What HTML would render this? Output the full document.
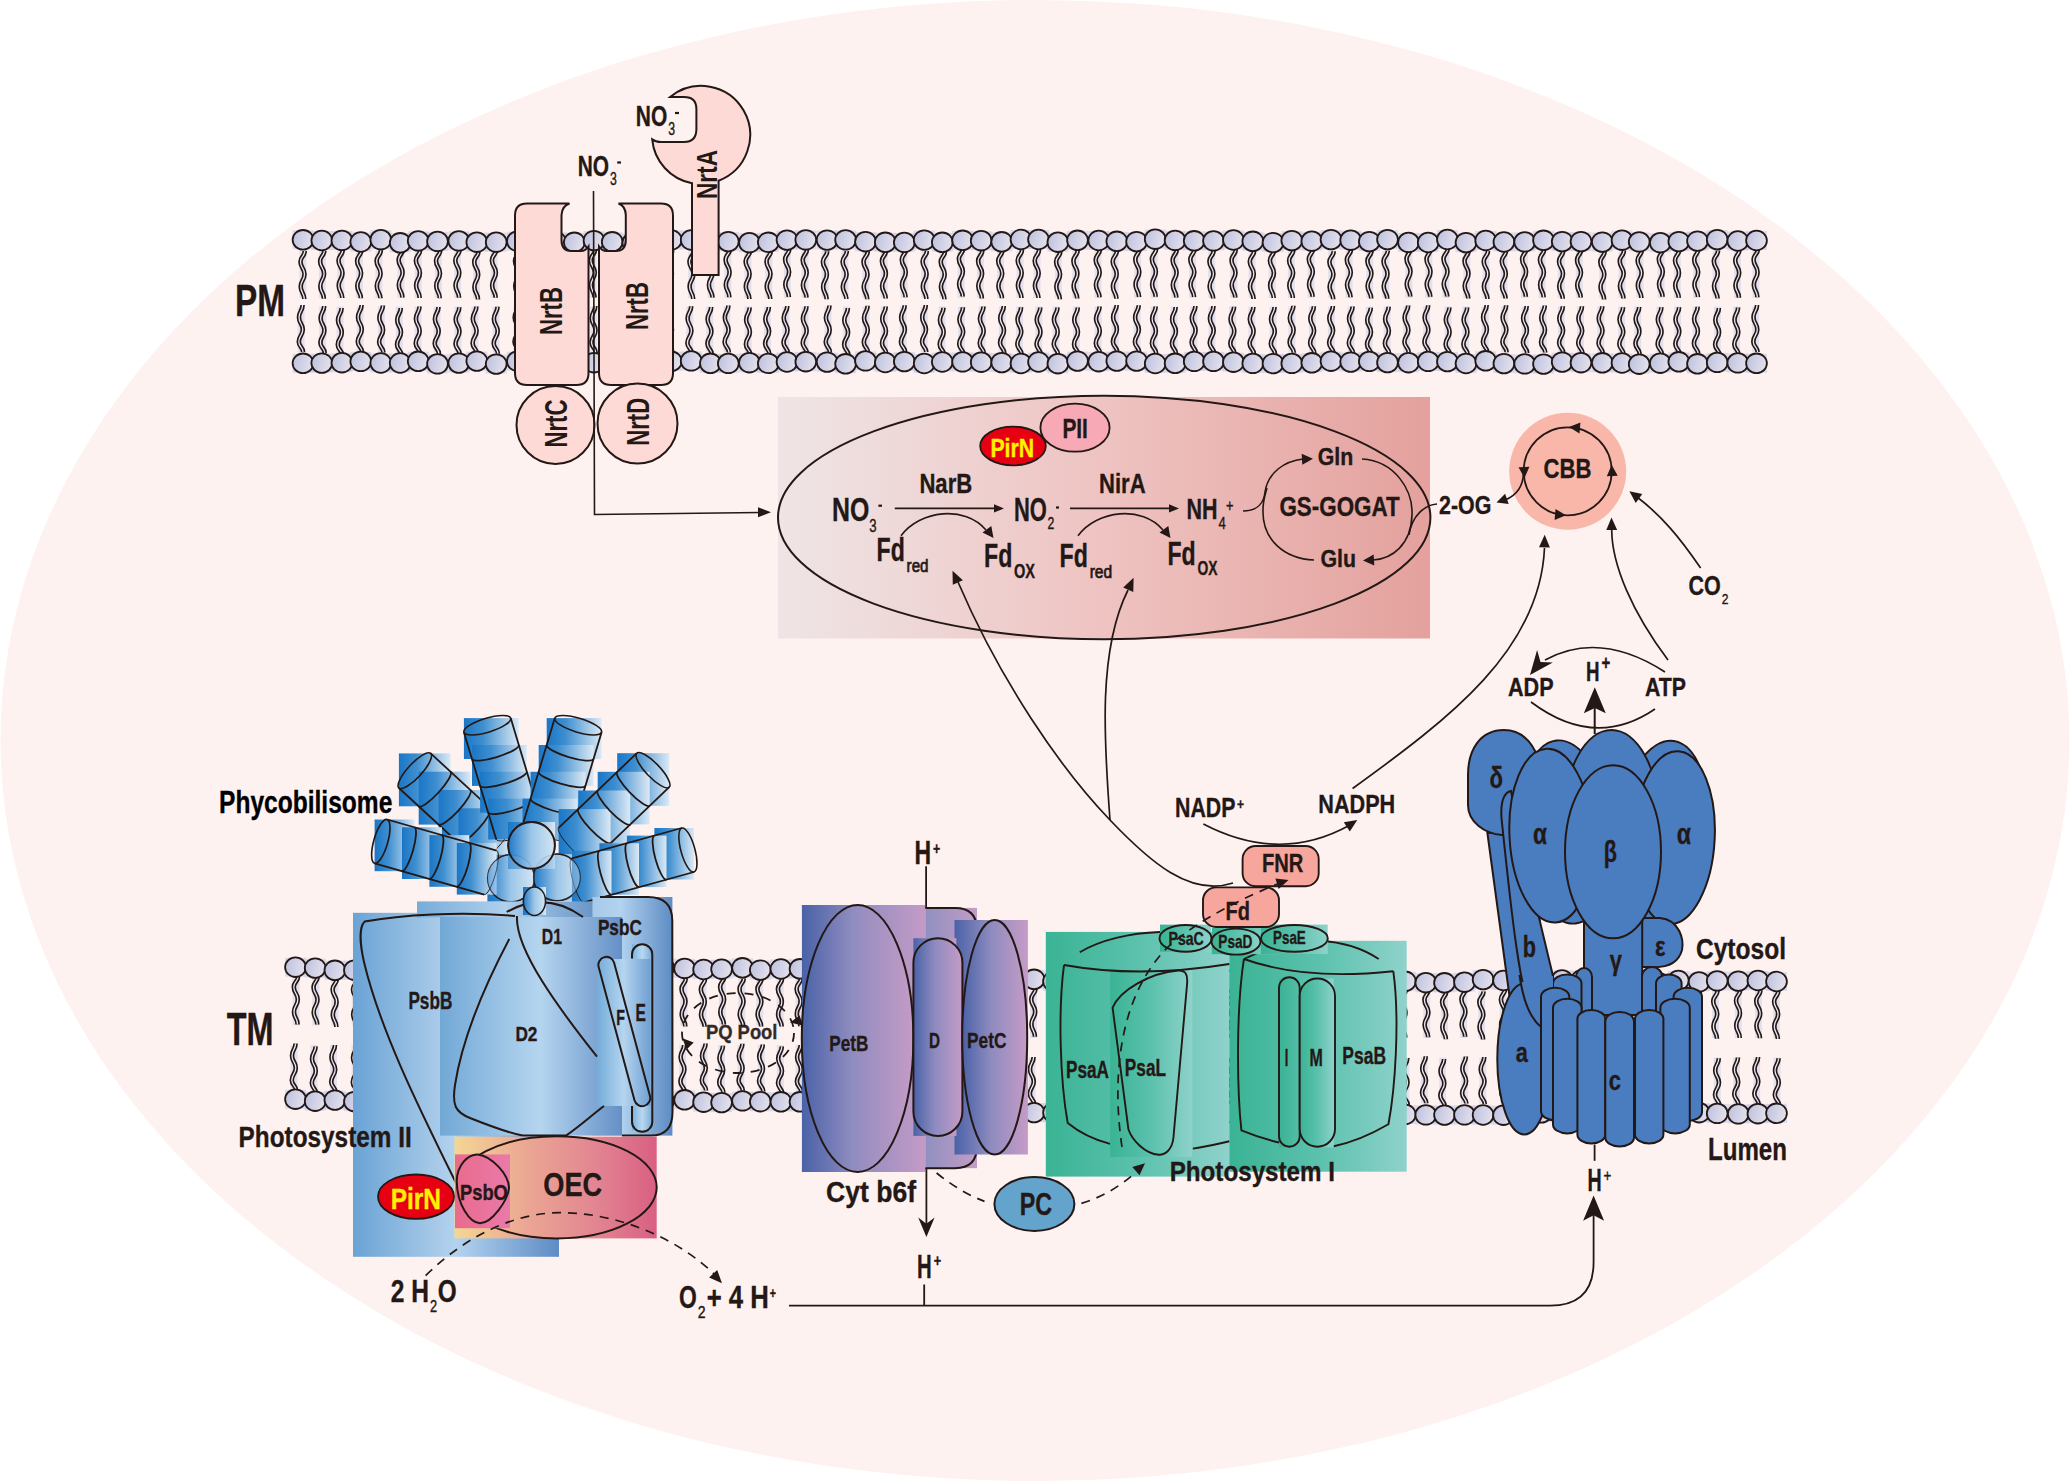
<!DOCTYPE html>
<html><head><meta charset="utf-8"><style>
html,body{margin:0;padding:0;background:#fff;overflow:hidden}
svg{display:block}
text{font-family:"Liberation Sans",sans-serif}
</style></head><body>
<svg width="2070" height="1482" viewBox="0 0 2070 1482">
<defs><linearGradient id="g1" x1="0" y1="0" x2="1" y2="0.2"><stop offset="0" stop-color="#bbc0df"/><stop offset="1" stop-color="#e3e0ec"/></linearGradient><linearGradient id="g2" x1="0" y1="0" x2="1" y2="0"><stop offset="0" stop-color="#efe5e6"/><stop offset="0.5" stop-color="#eec3c1"/><stop offset="1" stop-color="#e4a19d"/></linearGradient><linearGradient id="g3" x1="0" y1="0" x2="1" y2="0"><stop offset="0" stop-color="#1a76c6"/><stop offset="0.35" stop-color="#3f8fd0"/><stop offset="1" stop-color="#dbe9f5"/></linearGradient><linearGradient id="g4" x1="0" y1="0" x2="1" y2="0"><stop offset="0" stop-color="#1f79c8"/><stop offset="0.5" stop-color="#9cc6e8"/><stop offset="1" stop-color="#d5e6f4"/></linearGradient><linearGradient id="g5" x1="0" y1="0" x2="1" y2="0"><stop offset="0" stop-color="#6aa3d5"/><stop offset="0.42" stop-color="#a9cbe9"/><stop offset="0.5" stop-color="#b3d3ef"/><stop offset="1" stop-color="#5d8cc5"/></linearGradient><linearGradient id="g6" x1="0" y1="0" x2="1" y2="0"><stop offset="0" stop-color="#a5cae9"/><stop offset="0.35" stop-color="#b3d3ef"/><stop offset="1" stop-color="#5d8bc3"/></linearGradient><linearGradient id="g7" x1="0" y1="0" x2="1" y2="0"><stop offset="0" stop-color="#78acd9"/><stop offset="0.5" stop-color="#b0d0ec"/><stop offset="1" stop-color="#6a96c8"/></linearGradient><linearGradient id="g8" x1="0" y1="0" x2="1" y2="0"><stop offset="0" stop-color="#72a8d6"/><stop offset="0.55" stop-color="#b5d5ef"/><stop offset="1" stop-color="#6590c7"/></linearGradient><linearGradient id="g9" x1="0" y1="0" x2="1" y2="0"><stop offset="0" stop-color="#7ab3de"/><stop offset="0.5" stop-color="#b8d8f0"/><stop offset="1" stop-color="#7aa8d8"/></linearGradient><linearGradient id="g10" x1="0" y1="0" x2="1" y2="0"><stop offset="0" stop-color="#74acd9"/><stop offset="0.5" stop-color="#b5d5ef"/><stop offset="1" stop-color="#6f9fd2"/></linearGradient><linearGradient id="g11" x1="0" y1="0" x2="1" y2="0"><stop offset="0" stop-color="#f3d794"/><stop offset="0.35" stop-color="#eba793"/><stop offset="0.7" stop-color="#e28591"/><stop offset="1" stop-color="#d95f83"/></linearGradient><linearGradient id="g12" x1="0" y1="0" x2="1" y2="0"><stop offset="0" stop-color="#e96b8d"/><stop offset="1" stop-color="#e97aa9"/></linearGradient><linearGradient id="g13" x1="0" y1="0" x2="1" y2="0"><stop offset="0" stop-color="#8f90c0"/><stop offset="1" stop-color="#c49cc6"/></linearGradient><linearGradient id="g14" x1="0" y1="0" x2="1" y2="0"><stop offset="0" stop-color="#4a62a8"/><stop offset="0.45" stop-color="#8f8cbf"/><stop offset="1" stop-color="#c59bc6"/></linearGradient><linearGradient id="g15" x1="0" y1="0" x2="1" y2="0"><stop offset="0" stop-color="#4a62a8"/><stop offset="0.45" stop-color="#8f8cbf"/><stop offset="1" stop-color="#c59bc6"/></linearGradient><linearGradient id="g16" x1="0" y1="0" x2="1" y2="0"><stop offset="0" stop-color="#4a62a8"/><stop offset="0.45" stop-color="#8f8cbf"/><stop offset="1" stop-color="#c59bc6"/></linearGradient><linearGradient id="g17" x1="0" y1="0" x2="1" y2="0"><stop offset="0" stop-color="#4a62a8"/><stop offset="0.45" stop-color="#8f8cbf"/><stop offset="1" stop-color="#c59bc6"/></linearGradient><linearGradient id="g18" x1="0" y1="0" x2="1" y2="0"><stop offset="0" stop-color="#4a62a8"/><stop offset="0.45" stop-color="#8f8cbf"/><stop offset="1" stop-color="#c59bc6"/></linearGradient><linearGradient id="g19" x1="0" y1="0" x2="1" y2="0"><stop offset="0" stop-color="#4a62a8"/><stop offset="0.45" stop-color="#8f8cbf"/><stop offset="1" stop-color="#c59bc6"/></linearGradient><linearGradient id="g20" x1="0" y1="0" x2="1" y2="0"><stop offset="0" stop-color="#3ab394"/><stop offset="0.5" stop-color="#5bc1ad"/><stop offset="1" stop-color="#8fd2cb"/></linearGradient><linearGradient id="g21" x1="0" y1="0" x2="1" y2="0"><stop offset="0" stop-color="#3ab394"/><stop offset="0.5" stop-color="#5bc1ad"/><stop offset="1" stop-color="#8fd2cb"/></linearGradient><linearGradient id="g22" x1="0" y1="0" x2="1" y2="0"><stop offset="0" stop-color="#3ab394"/><stop offset="0.5" stop-color="#5bc1ad"/><stop offset="1" stop-color="#8fd2cb"/></linearGradient><linearGradient id="g23" x1="0" y1="0" x2="1" y2="0"><stop offset="0" stop-color="#3ab394"/><stop offset="0.5" stop-color="#5bc1ad"/><stop offset="1" stop-color="#8fd2cb"/></linearGradient><linearGradient id="g24" x1="0" y1="0" x2="1" y2="0"><stop offset="0" stop-color="#3ab394"/><stop offset="0.5" stop-color="#5bc1ad"/><stop offset="1" stop-color="#8fd2cb"/></linearGradient><linearGradient id="g25" x1="0" y1="0" x2="1" y2="0"><stop offset="0" stop-color="#3ab394"/><stop offset="0.5" stop-color="#5bc1ad"/><stop offset="1" stop-color="#8fd2cb"/></linearGradient><linearGradient id="g26" x1="0" y1="0" x2="1" y2="0"><stop offset="0" stop-color="#3ab394"/><stop offset="0.5" stop-color="#5bc1ad"/><stop offset="1" stop-color="#8fd2cb"/></linearGradient><linearGradient id="g27" x1="0" y1="0" x2="1" y2="0"><stop offset="0" stop-color="#3ab394"/><stop offset="0.5" stop-color="#5bc1ad"/><stop offset="1" stop-color="#8fd2cb"/></linearGradient><linearGradient id="g28" x1="0" y1="0" x2="1" y2="0"><stop offset="0" stop-color="#3ab394"/><stop offset="0.5" stop-color="#5bc1ad"/><stop offset="1" stop-color="#8fd2cb"/></linearGradient><linearGradient id="g29" x1="0" y1="0" x2="1" y2="0"><stop offset="0" stop-color="#3ab394"/><stop offset="0.5" stop-color="#5bc1ad"/><stop offset="1" stop-color="#8fd2cb"/></linearGradient></defs>
<rect width="2070" height="1482" fill="#ffffff"/>
<ellipse cx="1035" cy="740.5" rx="1034.5" ry="740.5" fill="#fef2f1"/>
<g><rect x="299.3" y="251.0" width="7" height="47" fill="#c3c9e8" opacity="0.45"/><rect x="297.6" y="306.5" width="7" height="46" fill="#c3c9e8" opacity="0.45"/><rect x="318.9" y="251.0" width="7" height="47" fill="#c3c9e8" opacity="0.45"/><rect x="319.2" y="306.5" width="7" height="46" fill="#c3c9e8" opacity="0.45"/><rect x="337.3" y="251.0" width="7" height="47" fill="#c3c9e8" opacity="0.45"/><rect x="336.6" y="306.5" width="7" height="46" fill="#c3c9e8" opacity="0.45"/><rect x="355.9" y="251.0" width="7" height="47" fill="#c3c9e8" opacity="0.45"/><rect x="356.6" y="306.5" width="7" height="46" fill="#c3c9e8" opacity="0.45"/><rect x="375.4" y="251.0" width="7" height="47" fill="#c3c9e8" opacity="0.45"/><rect x="377.9" y="306.5" width="7" height="46" fill="#c3c9e8" opacity="0.45"/><rect x="397.4" y="251.0" width="7" height="47" fill="#c3c9e8" opacity="0.45"/><rect x="395.8" y="306.5" width="7" height="46" fill="#c3c9e8" opacity="0.45"/><rect x="414.7" y="251.0" width="7" height="47" fill="#c3c9e8" opacity="0.45"/><rect x="414.5" y="306.5" width="7" height="46" fill="#c3c9e8" opacity="0.45"/><rect x="434.8" y="251.0" width="7" height="47" fill="#c3c9e8" opacity="0.45"/><rect x="433.5" y="306.5" width="7" height="46" fill="#c3c9e8" opacity="0.45"/><rect x="454.1" y="251.0" width="7" height="47" fill="#c3c9e8" opacity="0.45"/><rect x="454.3" y="306.5" width="7" height="46" fill="#c3c9e8" opacity="0.45"/><rect x="473.0" y="251.0" width="7" height="47" fill="#c3c9e8" opacity="0.45"/><rect x="471.4" y="306.5" width="7" height="46" fill="#c3c9e8" opacity="0.45"/><rect x="490.7" y="251.0" width="7" height="47" fill="#c3c9e8" opacity="0.45"/><rect x="492.5" y="306.5" width="7" height="46" fill="#c3c9e8" opacity="0.45"/><rect x="513.8" y="251.0" width="7" height="47" fill="#c3c9e8" opacity="0.45"/><rect x="513.3" y="306.5" width="7" height="46" fill="#c3c9e8" opacity="0.45"/><rect x="532.1" y="251.0" width="7" height="47" fill="#c3c9e8" opacity="0.45"/><rect x="532.2" y="306.5" width="7" height="46" fill="#c3c9e8" opacity="0.45"/><rect x="552.3" y="251.0" width="7" height="47" fill="#c3c9e8" opacity="0.45"/><rect x="553.1" y="306.5" width="7" height="46" fill="#c3c9e8" opacity="0.45"/><rect x="570.5" y="251.0" width="7" height="47" fill="#c3c9e8" opacity="0.45"/><rect x="569.7" y="306.5" width="7" height="46" fill="#c3c9e8" opacity="0.45"/><rect x="589.6" y="251.0" width="7" height="47" fill="#c3c9e8" opacity="0.45"/><rect x="590.3" y="306.5" width="7" height="46" fill="#c3c9e8" opacity="0.45"/><rect x="609.1" y="251.0" width="7" height="47" fill="#c3c9e8" opacity="0.45"/><rect x="606.8" y="306.5" width="7" height="46" fill="#c3c9e8" opacity="0.45"/><rect x="628.2" y="251.0" width="7" height="47" fill="#c3c9e8" opacity="0.45"/><rect x="628.0" y="306.5" width="7" height="46" fill="#c3c9e8" opacity="0.45"/><rect x="647.8" y="251.0" width="7" height="47" fill="#c3c9e8" opacity="0.45"/><rect x="648.5" y="306.5" width="7" height="46" fill="#c3c9e8" opacity="0.45"/><rect x="666.7" y="251.0" width="7" height="47" fill="#c3c9e8" opacity="0.45"/><rect x="666.8" y="306.5" width="7" height="46" fill="#c3c9e8" opacity="0.45"/><rect x="688.2" y="251.0" width="7" height="47" fill="#c3c9e8" opacity="0.45"/><rect x="686.2" y="306.5" width="7" height="46" fill="#c3c9e8" opacity="0.45"/><rect x="707.5" y="251.0" width="7" height="47" fill="#c3c9e8" opacity="0.45"/><rect x="706.2" y="306.5" width="7" height="46" fill="#c3c9e8" opacity="0.45"/><rect x="724.4" y="251.0" width="7" height="47" fill="#c3c9e8" opacity="0.45"/><rect x="723.4" y="306.5" width="7" height="46" fill="#c3c9e8" opacity="0.45"/><rect x="744.4" y="251.0" width="7" height="47" fill="#c3c9e8" opacity="0.45"/><rect x="744.7" y="306.5" width="7" height="46" fill="#c3c9e8" opacity="0.45"/><rect x="765.3" y="251.0" width="7" height="47" fill="#c3c9e8" opacity="0.45"/><rect x="763.9" y="306.5" width="7" height="46" fill="#c3c9e8" opacity="0.45"/><rect x="783.9" y="251.0" width="7" height="47" fill="#c3c9e8" opacity="0.45"/><rect x="782.3" y="306.5" width="7" height="46" fill="#c3c9e8" opacity="0.45"/><rect x="801.5" y="251.0" width="7" height="47" fill="#c3c9e8" opacity="0.45"/><rect x="801.5" y="306.5" width="7" height="46" fill="#c3c9e8" opacity="0.45"/><rect x="821.7" y="251.0" width="7" height="47" fill="#c3c9e8" opacity="0.45"/><rect x="824.5" y="306.5" width="7" height="46" fill="#c3c9e8" opacity="0.45"/><rect x="841.4" y="251.0" width="7" height="47" fill="#c3c9e8" opacity="0.45"/><rect x="842.9" y="306.5" width="7" height="46" fill="#c3c9e8" opacity="0.45"/><rect x="862.3" y="251.0" width="7" height="47" fill="#c3c9e8" opacity="0.45"/><rect x="862.6" y="306.5" width="7" height="46" fill="#c3c9e8" opacity="0.45"/><rect x="880.7" y="251.0" width="7" height="47" fill="#c3c9e8" opacity="0.45"/><rect x="880.8" y="306.5" width="7" height="46" fill="#c3c9e8" opacity="0.45"/><rect x="900.6" y="251.0" width="7" height="47" fill="#c3c9e8" opacity="0.45"/><rect x="899.7" y="306.5" width="7" height="46" fill="#c3c9e8" opacity="0.45"/><rect x="921.4" y="251.0" width="7" height="47" fill="#c3c9e8" opacity="0.45"/><rect x="920.8" y="306.5" width="7" height="46" fill="#c3c9e8" opacity="0.45"/><rect x="939.5" y="251.0" width="7" height="47" fill="#c3c9e8" opacity="0.45"/><rect x="938.5" y="306.5" width="7" height="46" fill="#c3c9e8" opacity="0.45"/><rect x="957.7" y="251.0" width="7" height="47" fill="#c3c9e8" opacity="0.45"/><rect x="958.0" y="306.5" width="7" height="46" fill="#c3c9e8" opacity="0.45"/><rect x="976.9" y="251.0" width="7" height="47" fill="#c3c9e8" opacity="0.45"/><rect x="978.5" y="306.5" width="7" height="46" fill="#c3c9e8" opacity="0.45"/><rect x="997.0" y="251.0" width="7" height="47" fill="#c3c9e8" opacity="0.45"/><rect x="998.8" y="306.5" width="7" height="46" fill="#c3c9e8" opacity="0.45"/><rect x="1016.5" y="251.0" width="7" height="47" fill="#c3c9e8" opacity="0.45"/><rect x="1016.1" y="306.5" width="7" height="46" fill="#c3c9e8" opacity="0.45"/><rect x="1033.5" y="251.0" width="7" height="47" fill="#c3c9e8" opacity="0.45"/><rect x="1035.3" y="306.5" width="7" height="46" fill="#c3c9e8" opacity="0.45"/><rect x="1054.9" y="251.0" width="7" height="47" fill="#c3c9e8" opacity="0.45"/><rect x="1052.5" y="306.5" width="7" height="46" fill="#c3c9e8" opacity="0.45"/><rect x="1072.2" y="251.0" width="7" height="47" fill="#c3c9e8" opacity="0.45"/><rect x="1072.8" y="306.5" width="7" height="46" fill="#c3c9e8" opacity="0.45"/><rect x="1094.5" y="251.0" width="7" height="47" fill="#c3c9e8" opacity="0.45"/><rect x="1094.6" y="306.5" width="7" height="46" fill="#c3c9e8" opacity="0.45"/><rect x="1111.5" y="251.0" width="7" height="47" fill="#c3c9e8" opacity="0.45"/><rect x="1111.7" y="306.5" width="7" height="46" fill="#c3c9e8" opacity="0.45"/><rect x="1134.1" y="251.0" width="7" height="47" fill="#c3c9e8" opacity="0.45"/><rect x="1133.7" y="306.5" width="7" height="46" fill="#c3c9e8" opacity="0.45"/><rect x="1150.7" y="251.0" width="7" height="47" fill="#c3c9e8" opacity="0.45"/><rect x="1150.7" y="306.5" width="7" height="46" fill="#c3c9e8" opacity="0.45"/><rect x="1171.4" y="251.0" width="7" height="47" fill="#c3c9e8" opacity="0.45"/><rect x="1170.7" y="306.5" width="7" height="46" fill="#c3c9e8" opacity="0.45"/><rect x="1189.1" y="251.0" width="7" height="47" fill="#c3c9e8" opacity="0.45"/><rect x="1190.4" y="306.5" width="7" height="46" fill="#c3c9e8" opacity="0.45"/><rect x="1208.2" y="251.0" width="7" height="47" fill="#c3c9e8" opacity="0.45"/><rect x="1208.5" y="306.5" width="7" height="46" fill="#c3c9e8" opacity="0.45"/><rect x="1230.3" y="251.0" width="7" height="47" fill="#c3c9e8" opacity="0.45"/><rect x="1229.1" y="306.5" width="7" height="46" fill="#c3c9e8" opacity="0.45"/><rect x="1248.6" y="251.0" width="7" height="47" fill="#c3c9e8" opacity="0.45"/><rect x="1248.4" y="306.5" width="7" height="46" fill="#c3c9e8" opacity="0.45"/><rect x="1268.7" y="251.0" width="7" height="47" fill="#c3c9e8" opacity="0.45"/><rect x="1269.6" y="306.5" width="7" height="46" fill="#c3c9e8" opacity="0.45"/><rect x="1287.9" y="251.0" width="7" height="47" fill="#c3c9e8" opacity="0.45"/><rect x="1288.4" y="306.5" width="7" height="46" fill="#c3c9e8" opacity="0.45"/><rect x="1307.6" y="251.0" width="7" height="47" fill="#c3c9e8" opacity="0.45"/><rect x="1308.9" y="306.5" width="7" height="46" fill="#c3c9e8" opacity="0.45"/><rect x="1328.2" y="251.0" width="7" height="47" fill="#c3c9e8" opacity="0.45"/><rect x="1327.9" y="306.5" width="7" height="46" fill="#c3c9e8" opacity="0.45"/><rect x="1345.6" y="251.0" width="7" height="47" fill="#c3c9e8" opacity="0.45"/><rect x="1347.6" y="306.5" width="7" height="46" fill="#c3c9e8" opacity="0.45"/><rect x="1366.2" y="251.0" width="7" height="47" fill="#c3c9e8" opacity="0.45"/><rect x="1365.8" y="306.5" width="7" height="46" fill="#c3c9e8" opacity="0.45"/><rect x="1382.3" y="251.0" width="7" height="47" fill="#c3c9e8" opacity="0.45"/><rect x="1383.7" y="306.5" width="7" height="46" fill="#c3c9e8" opacity="0.45"/><rect x="1405.3" y="251.0" width="7" height="47" fill="#c3c9e8" opacity="0.45"/><rect x="1403.2" y="306.5" width="7" height="46" fill="#c3c9e8" opacity="0.45"/><rect x="1425.3" y="251.0" width="7" height="47" fill="#c3c9e8" opacity="0.45"/><rect x="1423.2" y="306.5" width="7" height="46" fill="#c3c9e8" opacity="0.45"/><rect x="1442.3" y="251.0" width="7" height="47" fill="#c3c9e8" opacity="0.45"/><rect x="1444.4" y="306.5" width="7" height="46" fill="#c3c9e8" opacity="0.45"/><rect x="1463.3" y="251.0" width="7" height="47" fill="#c3c9e8" opacity="0.45"/><rect x="1462.2" y="306.5" width="7" height="46" fill="#c3c9e8" opacity="0.45"/><rect x="1482.5" y="251.0" width="7" height="47" fill="#c3c9e8" opacity="0.45"/><rect x="1481.7" y="306.5" width="7" height="46" fill="#c3c9e8" opacity="0.45"/><rect x="1500.6" y="251.0" width="7" height="47" fill="#c3c9e8" opacity="0.45"/><rect x="1501.2" y="306.5" width="7" height="46" fill="#c3c9e8" opacity="0.45"/><rect x="1520.9" y="251.0" width="7" height="47" fill="#c3c9e8" opacity="0.45"/><rect x="1521.7" y="306.5" width="7" height="46" fill="#c3c9e8" opacity="0.45"/><rect x="1538.7" y="251.0" width="7" height="47" fill="#c3c9e8" opacity="0.45"/><rect x="1539.8" y="306.5" width="7" height="46" fill="#c3c9e8" opacity="0.45"/><rect x="1557.8" y="251.0" width="7" height="47" fill="#c3c9e8" opacity="0.45"/><rect x="1557.9" y="306.5" width="7" height="46" fill="#c3c9e8" opacity="0.45"/><rect x="1575.8" y="251.0" width="7" height="47" fill="#c3c9e8" opacity="0.45"/><rect x="1577.0" y="306.5" width="7" height="46" fill="#c3c9e8" opacity="0.45"/><rect x="1599.1" y="251.0" width="7" height="47" fill="#c3c9e8" opacity="0.45"/><rect x="1597.3" y="306.5" width="7" height="46" fill="#c3c9e8" opacity="0.45"/><rect x="1618.5" y="251.0" width="7" height="47" fill="#c3c9e8" opacity="0.45"/><rect x="1618.1" y="306.5" width="7" height="46" fill="#c3c9e8" opacity="0.45"/><rect x="1636.4" y="251.0" width="7" height="47" fill="#c3c9e8" opacity="0.45"/><rect x="1634.2" y="306.5" width="7" height="46" fill="#c3c9e8" opacity="0.45"/><rect x="1657.6" y="251.0" width="7" height="47" fill="#c3c9e8" opacity="0.45"/><rect x="1656.4" y="306.5" width="7" height="46" fill="#c3c9e8" opacity="0.45"/><rect x="1673.8" y="251.0" width="7" height="47" fill="#c3c9e8" opacity="0.45"/><rect x="1674.1" y="306.5" width="7" height="46" fill="#c3c9e8" opacity="0.45"/><rect x="1693.0" y="251.0" width="7" height="47" fill="#c3c9e8" opacity="0.45"/><rect x="1692.7" y="306.5" width="7" height="46" fill="#c3c9e8" opacity="0.45"/><rect x="1712.6" y="251.0" width="7" height="47" fill="#c3c9e8" opacity="0.45"/><rect x="1713.9" y="306.5" width="7" height="46" fill="#c3c9e8" opacity="0.45"/><rect x="1734.0" y="251.0" width="7" height="47" fill="#c3c9e8" opacity="0.45"/><rect x="1733.1" y="306.5" width="7" height="46" fill="#c3c9e8" opacity="0.45"/><rect x="1752.4" y="251.0" width="7" height="47" fill="#c3c9e8" opacity="0.45"/><rect x="1752.1" y="306.5" width="7" height="46" fill="#c3c9e8" opacity="0.45"/><path d="M304.8,251.1 C304.8,256.4 300.5,256.4 300.5,261.7 C300.5,267.9 304.5,267.9 304.5,274.2 C304.5,280.4 300.7,280.4 300.7,286.6 C300.7,292.9 304.3,292.9 304.3,299.1  M303.1,352.1 C303.1,347.0 298.8,347.0 298.8,341.8 C298.8,335.7 302.8,335.7 302.8,329.6 C302.8,323.5 299.0,323.5 299.0,317.4 C299.0,311.2 302.6,311.2 302.6,305.1  M324.4,250.7 C324.4,255.9 320.1,255.9 320.1,261.2 C320.1,267.5 324.1,267.5 324.1,273.7 C324.1,279.9 320.3,279.9 320.3,286.2 C320.3,292.4 323.9,292.4 323.9,298.7  M324.7,353.0 C324.7,347.8 320.4,347.8 320.4,342.7 C320.4,336.5 324.4,336.5 324.4,330.4 C324.4,324.3 320.6,324.3 320.6,318.2 C320.6,312.1 324.2,312.1 324.2,306.0  M342.8,250.0 C342.8,255.3 338.5,255.3 338.5,260.6 C338.5,266.8 342.5,266.8 342.5,273.1 C342.5,279.3 338.7,279.3 338.7,285.5 C338.7,291.8 342.3,291.8 342.3,298.0  M342.1,355.0 C342.1,349.8 337.8,349.8 337.8,344.7 C337.8,338.5 341.8,338.5 341.8,332.4 C341.8,326.3 338.0,326.3 338.0,320.2 C338.0,314.1 341.6,314.1 341.6,308.0  M361.4,250.3 C361.4,255.6 357.1,255.6 357.1,260.9 C357.1,267.1 361.1,267.1 361.1,273.3 C361.1,279.6 357.3,279.6 357.3,285.8 C357.3,292.1 360.9,292.1 360.9,298.3  M362.1,352.1 C362.1,346.9 357.8,346.9 357.8,341.8 C357.8,335.6 361.8,335.6 361.8,329.5 C361.8,323.4 358.0,323.4 358.0,317.3 C358.0,311.2 361.6,311.2 361.6,305.1  M380.9,250.3 C380.9,255.6 376.6,255.6 376.6,260.9 C376.6,267.1 380.6,267.1 380.6,273.4 C380.6,279.6 376.8,279.6 376.8,285.9 C376.8,292.1 380.4,292.1 380.4,298.3  M383.4,352.5 C383.4,347.3 379.1,347.3 379.1,342.1 C379.1,336.0 383.1,336.0 383.1,329.9 C383.1,323.8 379.3,323.8 379.3,317.7 C379.3,311.6 382.9,311.6 382.9,305.5  M402.9,249.4 C402.9,254.7 398.6,254.7 398.6,260.0 C398.6,266.2 402.6,266.2 402.6,272.5 C402.6,278.7 398.8,278.7 398.8,285.0 C398.8,291.2 402.4,291.2 402.4,297.4  M401.3,354.9 C401.3,349.7 397.0,349.7 397.0,344.5 C397.0,338.4 401.0,338.4 401.0,332.3 C401.0,326.2 397.2,326.2 397.2,320.1 C397.2,314.0 400.8,314.0 400.8,307.9  M420.2,249.9 C420.2,255.2 415.9,255.2 415.9,260.4 C415.9,266.7 419.9,266.7 419.9,272.9 C419.9,279.2 416.1,279.2 416.1,285.4 C416.1,291.6 419.7,291.6 419.7,297.9  M420.0,353.6 C420.0,348.4 415.7,348.4 415.7,343.2 C415.7,337.1 419.7,337.1 419.7,331.0 C419.7,324.9 415.9,324.9 415.9,318.8 C415.9,312.7 419.5,312.7 419.5,306.6  M440.3,250.2 C440.3,255.5 436.0,255.5 436.0,260.7 C436.0,267.0 440.0,267.0 440.0,273.2 C440.0,279.5 436.2,279.5 436.2,285.7 C436.2,291.9 439.8,291.9 439.8,298.2  M439.0,353.9 C439.0,348.7 434.7,348.7 434.7,343.5 C434.7,337.4 438.7,337.4 438.7,331.3 C438.7,325.2 434.9,325.2 434.9,319.1 C434.9,313.0 438.5,313.0 438.5,306.9  M459.6,249.8 C459.6,255.1 455.3,255.1 455.3,260.4 C455.3,266.6 459.3,266.6 459.3,272.8 C459.3,279.1 455.5,279.1 455.5,285.3 C455.5,291.6 459.1,291.6 459.1,297.8  M459.8,354.2 C459.8,349.0 455.5,349.0 455.5,343.8 C455.5,337.7 459.5,337.7 459.5,331.6 C459.5,325.5 455.7,325.5 455.7,319.4 C455.7,313.3 459.3,313.3 459.3,307.2  M478.5,251.4 C478.5,256.7 474.2,256.7 474.2,262.0 C474.2,268.2 478.2,268.2 478.2,274.5 C478.2,280.7 474.4,280.7 474.4,287.0 C474.4,293.2 478.0,293.2 478.0,299.4  M476.9,353.6 C476.9,348.4 472.6,348.4 472.6,343.2 C472.6,337.1 476.6,337.1 476.6,331.0 C476.6,324.9 472.8,324.9 472.8,318.8 C472.8,312.7 476.4,312.7 476.4,306.6  M496.2,249.7 C496.2,255.0 491.9,255.0 491.9,260.3 C491.9,266.5 495.9,266.5 495.9,272.8 C495.9,279.0 492.1,279.0 492.1,285.3 C492.1,291.5 495.7,291.5 495.7,297.7  M498.0,353.7 C498.0,348.6 493.7,348.6 493.7,343.4 C493.7,337.3 497.7,337.3 497.7,331.2 C497.7,325.1 493.9,325.1 493.9,319.0 C493.9,312.8 497.5,312.8 497.5,306.7  M519.3,250.4 C519.3,255.7 515.0,255.7 515.0,261.0 C515.0,267.2 519.0,267.2 519.0,273.4 C519.0,279.7 515.2,279.7 515.2,285.9 C515.2,292.2 518.8,292.2 518.8,298.4  M518.8,352.2 C518.8,347.0 514.5,347.0 514.5,341.8 C514.5,335.7 518.5,335.7 518.5,329.6 C518.5,323.5 514.7,323.5 514.7,317.4 C514.7,311.3 518.3,311.3 518.3,305.2  M537.6,250.5 C537.6,255.8 533.3,255.8 533.3,261.1 C533.3,267.3 537.3,267.3 537.3,273.6 C537.3,279.8 533.5,279.8 533.5,286.1 C533.5,292.3 537.1,292.3 537.1,298.5  M537.7,353.1 C537.7,347.9 533.4,347.9 533.4,342.7 C533.4,336.6 537.4,336.6 537.4,330.5 C537.4,324.4 533.6,324.4 533.6,318.3 C533.6,312.2 537.2,312.2 537.2,306.1  M557.8,248.6 C557.8,253.8 553.5,253.8 553.5,259.1 C553.5,265.4 557.5,265.4 557.5,271.6 C557.5,277.8 553.7,277.8 553.7,284.1 C553.7,290.3 557.3,290.3 557.3,296.6  M558.6,352.2 C558.6,347.0 554.3,347.0 554.3,341.8 C554.3,335.7 558.3,335.7 558.3,329.6 C558.3,323.5 554.5,323.5 554.5,317.4 C554.5,311.3 558.1,311.3 558.1,305.2  M576.0,249.3 C576.0,254.5 571.7,254.5 571.7,259.8 C571.7,266.1 575.7,266.1 575.7,272.3 C575.7,278.5 571.9,278.5 571.9,284.8 C571.9,291.0 575.5,291.0 575.5,297.3  M575.2,353.4 C575.2,348.2 570.9,348.2 570.9,343.0 C570.9,336.9 574.9,336.9 574.9,330.8 C574.9,324.7 571.1,324.7 571.1,318.6 C571.1,312.5 574.7,312.5 574.7,306.4  M595.1,249.6 C595.1,254.9 590.8,254.9 590.8,260.2 C590.8,266.4 594.8,266.4 594.8,272.6 C594.8,278.9 591.0,278.9 591.0,285.1 C591.0,291.4 594.6,291.4 594.6,297.6  M595.8,352.9 C595.8,347.8 591.5,347.8 591.5,342.6 C591.5,336.5 595.5,336.5 595.5,330.4 C595.5,324.3 591.7,324.3 591.7,318.2 C591.7,312.0 595.3,312.0 595.3,305.9  M614.6,249.4 C614.6,254.7 610.3,254.7 610.3,260.0 C610.3,266.2 614.3,266.2 614.3,272.4 C614.3,278.7 610.5,278.7 610.5,284.9 C610.5,291.2 614.1,291.2 614.1,297.4  M612.3,353.1 C612.3,348.0 608.0,348.0 608.0,342.8 C608.0,336.7 612.0,336.7 612.0,330.6 C612.0,324.5 608.2,324.5 608.2,318.4 C608.2,312.2 611.8,312.2 611.8,306.1  M633.7,250.2 C633.7,255.5 629.4,255.5 629.4,260.8 C629.4,267.0 633.4,267.0 633.4,273.2 C633.4,279.5 629.6,279.5 629.6,285.7 C629.6,292.0 633.2,292.0 633.2,298.2  M633.5,354.2 C633.5,349.0 629.2,349.0 629.2,343.9 C629.2,337.8 633.2,337.8 633.2,331.6 C633.2,325.5 629.4,325.5 629.4,319.4 C629.4,313.3 633.0,313.3 633.0,307.2  M653.3,250.9 C653.3,256.2 649.0,256.2 649.0,261.5 C649.0,267.7 653.0,267.7 653.0,274.0 C653.0,280.2 649.2,280.2 649.2,286.4 C649.2,292.7 652.8,292.7 652.8,298.9  M654.0,352.7 C654.0,347.5 649.7,347.5 649.7,342.4 C649.7,336.3 653.7,336.3 653.7,330.2 C653.7,324.0 649.9,324.0 649.9,317.9 C649.9,311.8 653.5,311.8 653.5,305.7  M672.2,250.6 C672.2,255.9 667.9,255.9 667.9,261.2 C667.9,267.4 671.9,267.4 671.9,273.6 C671.9,279.9 668.1,279.9 668.1,286.1 C668.1,292.4 671.7,292.4 671.7,298.6  M672.3,352.3 C672.3,347.1 668.0,347.1 668.0,342.0 C668.0,335.9 672.0,335.9 672.0,329.7 C672.0,323.6 668.2,323.6 668.2,317.5 C668.2,311.4 671.8,311.4 671.8,305.3  M693.7,251.0 C693.7,256.3 689.4,256.3 689.4,261.6 C689.4,267.8 693.4,267.8 693.4,274.0 C693.4,280.3 689.6,280.3 689.6,286.5 C689.6,292.8 693.2,292.8 693.2,299.0  M691.7,353.3 C691.7,348.1 687.4,348.1 687.4,343.0 C687.4,336.9 691.4,336.9 691.4,330.8 C691.4,324.6 687.6,324.6 687.6,318.5 C687.6,312.4 691.2,312.4 691.2,306.3  M713.0,249.5 C713.0,254.8 708.7,254.8 708.7,260.1 C708.7,266.3 712.7,266.3 712.7,272.6 C712.7,278.8 708.9,278.8 708.9,285.0 C708.9,291.3 712.5,291.3 712.5,297.5  M711.7,354.0 C711.7,348.8 707.4,348.8 707.4,343.6 C707.4,337.5 711.4,337.5 711.4,331.4 C711.4,325.3 707.6,325.3 707.6,319.2 C707.6,313.1 711.2,313.1 711.2,307.0  M729.9,249.2 C729.9,254.5 725.6,254.5 725.6,259.7 C725.6,266.0 729.6,266.0 729.6,272.2 C729.6,278.5 725.8,278.5 725.8,284.7 C725.8,290.9 729.4,290.9 729.4,297.2  M728.9,352.4 C728.9,347.2 724.6,347.2 724.6,342.0 C724.6,335.9 728.6,335.9 728.6,329.8 C728.6,323.7 724.8,323.7 724.8,317.6 C724.8,311.5 728.4,311.5 728.4,305.4  M749.9,250.9 C749.9,256.2 745.6,256.2 745.6,261.5 C745.6,267.7 749.6,267.7 749.6,274.0 C749.6,280.2 745.8,280.2 745.8,286.4 C745.8,292.7 749.4,292.7 749.4,298.9  M750.2,354.5 C750.2,349.3 745.9,349.3 745.9,344.2 C745.9,338.1 749.9,338.1 749.9,332.0 C749.9,325.8 746.1,325.8 746.1,319.7 C746.1,313.6 749.7,313.6 749.7,307.5  M770.8,250.9 C770.8,256.2 766.5,256.2 766.5,261.5 C766.5,267.7 770.5,267.7 770.5,274.0 C770.5,280.2 766.7,280.2 766.7,286.4 C766.7,292.7 770.3,292.7 770.3,298.9  M769.4,353.9 C769.4,348.8 765.1,348.8 765.1,343.6 C765.1,337.5 769.1,337.5 769.1,331.4 C769.1,325.3 765.3,325.3 765.3,319.1 C765.3,313.0 768.9,313.0 768.9,306.9  M789.4,248.9 C789.4,254.2 785.1,254.2 785.1,259.4 C785.1,265.7 789.1,265.7 789.1,271.9 C789.1,278.2 785.3,278.2 785.3,284.4 C785.3,290.6 788.9,290.6 788.9,296.9  M787.8,352.9 C787.8,347.7 783.5,347.7 783.5,342.5 C783.5,336.4 787.5,336.4 787.5,330.3 C787.5,324.2 783.7,324.2 783.7,318.1 C783.7,312.0 787.3,312.0 787.3,305.9  M807.0,249.5 C807.0,254.8 802.7,254.8 802.7,260.1 C802.7,266.3 806.7,266.3 806.7,272.6 C806.7,278.8 802.9,278.8 802.9,285.1 C802.9,291.3 806.5,291.3 806.5,297.5  M807.0,353.3 C807.0,348.1 802.7,348.1 802.7,342.9 C802.7,336.8 806.7,336.8 806.7,330.7 C806.7,324.6 802.9,324.6 802.9,318.5 C802.9,312.4 806.5,312.4 806.5,306.3  M827.2,251.3 C827.2,256.5 822.9,256.5 822.9,261.8 C822.9,268.1 826.9,268.1 826.9,274.3 C826.9,280.5 823.1,280.5 823.1,286.8 C823.1,293.0 826.7,293.0 826.7,299.3  M830.0,352.5 C830.0,347.3 825.7,347.3 825.7,342.1 C825.7,336.0 829.7,336.0 829.7,329.9 C829.7,323.8 825.9,323.8 825.9,317.7 C825.9,311.6 829.5,311.6 829.5,305.5  M846.9,251.1 C846.9,256.4 842.6,256.4 842.6,261.7 C842.6,267.9 846.6,267.9 846.6,274.2 C846.6,280.4 842.8,280.4 842.8,286.7 C842.8,292.9 846.4,292.9 846.4,299.1  M848.4,355.0 C848.4,349.8 844.1,349.8 844.1,344.6 C844.1,338.5 848.1,338.5 848.1,332.4 C848.1,326.3 844.3,326.3 844.3,320.2 C844.3,314.1 847.9,314.1 847.9,308.0  M867.8,251.3 C867.8,256.6 863.5,256.6 863.5,261.8 C863.5,268.1 867.5,268.1 867.5,274.3 C867.5,280.6 863.7,280.6 863.7,286.8 C863.7,293.0 867.3,293.0 867.3,299.3  M868.1,352.7 C868.1,347.5 863.8,347.5 863.8,342.3 C863.8,336.2 867.8,336.2 867.8,330.1 C867.8,324.0 864.0,324.0 864.0,317.9 C864.0,311.8 867.6,311.8 867.6,305.7  M886.2,250.5 C886.2,255.8 881.9,255.8 881.9,261.0 C881.9,267.3 885.9,267.3 885.9,273.5 C885.9,279.8 882.1,279.8 882.1,286.0 C882.1,292.2 885.7,292.2 885.7,298.5  M886.3,353.6 C886.3,348.4 882.0,348.4 882.0,343.2 C882.0,337.1 886.0,337.1 886.0,331.0 C886.0,324.9 882.2,324.9 882.2,318.8 C882.2,312.7 885.8,312.7 885.8,306.6  M906.1,249.2 C906.1,254.5 901.8,254.5 901.8,259.7 C901.8,266.0 905.8,266.0 905.8,272.2 C905.8,278.5 902.0,278.5 902.0,284.7 C902.0,290.9 905.6,290.9 905.6,297.2  M905.2,352.2 C905.2,347.0 900.9,347.0 900.9,341.9 C900.9,335.8 904.9,335.8 904.9,329.6 C904.9,323.5 901.1,323.5 901.1,317.4 C901.1,311.3 904.7,311.3 904.7,305.2  M926.9,250.9 C926.9,256.2 922.6,256.2 922.6,261.5 C922.6,267.7 926.6,267.7 926.6,274.0 C926.6,280.2 922.8,280.2 922.8,286.5 C922.8,292.7 926.4,292.7 926.4,298.9  M926.3,352.1 C926.3,347.0 922.0,347.0 922.0,341.8 C922.0,335.7 926.0,335.7 926.0,329.6 C926.0,323.5 922.2,323.5 922.2,317.4 C922.2,311.2 925.8,311.2 925.8,305.1  M945.0,251.3 C945.0,256.6 940.7,256.6 940.7,261.8 C940.7,268.1 944.7,268.1 944.7,274.3 C944.7,280.6 940.9,280.6 940.9,286.8 C940.9,293.0 944.5,293.0 944.5,299.3  M944.0,354.7 C944.0,349.5 939.7,349.5 939.7,344.3 C939.7,338.2 943.7,338.2 943.7,332.1 C943.7,326.0 939.9,326.0 939.9,319.9 C939.9,313.8 943.5,313.8 943.5,307.7  M963.2,248.5 C963.2,253.8 958.9,253.8 958.9,259.1 C958.9,265.3 962.9,265.3 962.9,271.6 C962.9,277.8 959.1,277.8 959.1,284.1 C959.1,290.3 962.7,290.3 962.7,296.5  M963.5,354.2 C963.5,349.1 959.2,349.1 959.2,343.9 C959.2,337.8 963.2,337.8 963.2,331.7 C963.2,325.6 959.4,325.6 959.4,319.5 C959.4,313.3 963.0,313.3 963.0,307.2  M982.4,250.5 C982.4,255.8 978.1,255.8 978.1,261.0 C978.1,267.3 982.1,267.3 982.1,273.5 C982.1,279.8 978.3,279.8 978.3,286.0 C978.3,292.2 981.9,292.2 981.9,298.5  M984.0,353.6 C984.0,348.4 979.7,348.4 979.7,343.2 C979.7,337.1 983.7,337.1 983.7,331.0 C983.7,324.9 979.9,324.9 979.9,318.8 C979.9,312.7 983.5,312.7 983.5,306.6  M1002.5,250.3 C1002.5,255.6 998.2,255.6 998.2,260.9 C998.2,267.1 1002.2,267.1 1002.2,273.4 C1002.2,279.6 998.4,279.6 998.4,285.9 C998.4,292.1 1002.0,292.1 1002.0,298.3  M1004.3,353.0 C1004.3,347.9 1000.0,347.9 1000.0,342.7 C1000.0,336.6 1004.0,336.6 1004.0,330.5 C1004.0,324.4 1000.2,324.4 1000.2,318.2 C1000.2,312.1 1003.8,312.1 1003.8,306.0  M1022.0,249.9 C1022.0,255.2 1017.7,255.2 1017.7,260.5 C1017.7,266.7 1021.7,266.7 1021.7,273.0 C1021.7,279.2 1017.9,279.2 1017.9,285.5 C1017.9,291.7 1021.5,291.7 1021.5,297.9  M1021.6,354.3 C1021.6,349.2 1017.3,349.2 1017.3,344.0 C1017.3,337.9 1021.3,337.9 1021.3,331.8 C1021.3,325.7 1017.5,325.7 1017.5,319.6 C1017.5,313.5 1021.1,313.5 1021.1,307.3  M1039.0,250.1 C1039.0,255.4 1034.7,255.4 1034.7,260.7 C1034.7,266.9 1038.7,266.9 1038.7,273.1 C1038.7,279.4 1034.9,279.4 1034.9,285.6 C1034.9,291.9 1038.5,291.9 1038.5,298.1  M1040.8,354.5 C1040.8,349.3 1036.5,349.3 1036.5,344.1 C1036.5,338.0 1040.5,338.0 1040.5,331.9 C1040.5,325.8 1036.7,325.8 1036.7,319.7 C1036.7,313.6 1040.3,313.6 1040.3,307.5  M1060.4,251.3 C1060.4,256.5 1056.1,256.5 1056.1,261.8 C1056.1,268.1 1060.1,268.1 1060.1,274.3 C1060.1,280.5 1056.3,280.5 1056.3,286.8 C1056.3,293.0 1059.9,293.0 1059.9,299.3  M1058.0,354.4 C1058.0,349.2 1053.7,349.2 1053.7,344.1 C1053.7,338.0 1057.7,338.0 1057.7,331.9 C1057.7,325.7 1053.9,325.7 1053.9,319.6 C1053.9,313.5 1057.5,313.5 1057.5,307.4  M1077.7,250.4 C1077.7,255.7 1073.4,255.7 1073.4,260.9 C1073.4,267.2 1077.4,267.2 1077.4,273.4 C1077.4,279.7 1073.6,279.7 1073.6,285.9 C1073.6,292.1 1077.2,292.1 1077.2,298.4  M1078.3,354.6 C1078.3,349.4 1074.0,349.4 1074.0,344.2 C1074.0,338.1 1078.0,338.1 1078.0,332.0 C1078.0,325.9 1074.2,325.9 1074.2,319.8 C1074.2,313.7 1077.8,313.7 1077.8,307.6  M1100.0,249.3 C1100.0,254.6 1095.7,254.6 1095.7,259.9 C1095.7,266.1 1099.7,266.1 1099.7,272.3 C1099.7,278.6 1095.9,278.6 1095.9,284.8 C1095.9,291.1 1099.5,291.1 1099.5,297.3  M1100.1,353.6 C1100.1,348.4 1095.8,348.4 1095.8,343.2 C1095.8,337.1 1099.8,337.1 1099.8,331.0 C1099.8,324.9 1096.0,324.9 1096.0,318.8 C1096.0,312.7 1099.6,312.7 1099.6,306.6  M1117.0,250.8 C1117.0,256.1 1112.7,256.1 1112.7,261.4 C1112.7,267.6 1116.7,267.6 1116.7,273.9 C1116.7,280.1 1112.9,280.1 1112.9,286.3 C1112.9,292.6 1116.5,292.6 1116.5,298.8  M1117.2,352.0 C1117.2,346.8 1112.9,346.8 1112.9,341.7 C1112.9,335.6 1116.9,335.6 1116.9,329.4 C1116.9,323.3 1113.1,323.3 1113.1,317.2 C1113.1,311.1 1116.7,311.1 1116.7,305.0  M1139.6,248.9 C1139.6,254.2 1135.3,254.2 1135.3,259.4 C1135.3,265.7 1139.3,265.7 1139.3,271.9 C1139.3,278.2 1135.5,278.2 1135.5,284.4 C1135.5,290.6 1139.1,290.6 1139.1,296.9  M1139.2,352.2 C1139.2,347.0 1134.9,347.0 1134.9,341.9 C1134.9,335.8 1138.9,335.8 1138.9,329.6 C1138.9,323.5 1135.1,323.5 1135.1,317.4 C1135.1,311.3 1138.7,311.3 1138.7,305.2  M1156.2,248.8 C1156.2,254.0 1151.9,254.0 1151.9,259.3 C1151.9,265.6 1155.9,265.6 1155.9,271.8 C1155.9,278.0 1152.1,278.0 1152.1,284.3 C1152.1,290.5 1155.7,290.5 1155.7,296.8  M1156.2,353.5 C1156.2,348.3 1151.9,348.3 1151.9,343.2 C1151.9,337.1 1155.9,337.1 1155.9,330.9 C1155.9,324.8 1152.1,324.8 1152.1,318.7 C1152.1,312.6 1155.7,312.6 1155.7,306.5  M1176.9,249.6 C1176.9,254.8 1172.6,254.8 1172.6,260.1 C1172.6,266.4 1176.6,266.4 1176.6,272.6 C1176.6,278.8 1172.8,278.8 1172.8,285.1 C1172.8,291.3 1176.4,291.3 1176.4,297.6  M1176.2,353.9 C1176.2,348.8 1171.9,348.8 1171.9,343.6 C1171.9,337.5 1175.9,337.5 1175.9,331.4 C1175.9,325.3 1172.1,325.3 1172.1,319.2 C1172.1,313.1 1175.7,313.1 1175.7,306.9  M1194.6,249.1 C1194.6,254.4 1190.3,254.4 1190.3,259.6 C1190.3,265.9 1194.3,265.9 1194.3,272.1 C1194.3,278.4 1190.5,278.4 1190.5,284.6 C1190.5,290.8 1194.1,290.8 1194.1,297.1  M1195.9,353.0 C1195.9,347.8 1191.6,347.8 1191.6,342.6 C1191.6,336.5 1195.6,336.5 1195.6,330.4 C1195.6,324.3 1191.8,324.3 1191.8,318.2 C1191.8,312.1 1195.4,312.1 1195.4,306.0  M1213.7,250.6 C1213.7,255.9 1209.4,255.9 1209.4,261.2 C1209.4,267.4 1213.4,267.4 1213.4,273.7 C1213.4,279.9 1209.6,279.9 1209.6,286.2 C1209.6,292.4 1213.2,292.4 1213.2,298.6  M1214.0,353.1 C1214.0,348.0 1209.7,348.0 1209.7,342.8 C1209.7,336.7 1213.7,336.7 1213.7,330.6 C1213.7,324.5 1209.9,324.5 1209.9,318.4 C1209.9,312.3 1213.5,312.3 1213.5,306.1  M1235.8,249.6 C1235.8,254.9 1231.5,254.9 1231.5,260.2 C1231.5,266.4 1235.5,266.4 1235.5,272.7 C1235.5,278.9 1231.7,278.9 1231.7,285.1 C1231.7,291.4 1235.3,291.4 1235.3,297.6  M1234.6,353.8 C1234.6,348.6 1230.3,348.6 1230.3,343.5 C1230.3,337.4 1234.3,337.4 1234.3,331.3 C1234.3,325.1 1230.5,325.1 1230.5,319.0 C1230.5,312.9 1234.1,312.9 1234.1,306.8  M1254.1,250.9 C1254.1,256.2 1249.8,256.2 1249.8,261.5 C1249.8,267.7 1253.8,267.7 1253.8,273.9 C1253.8,280.2 1250.0,280.2 1250.0,286.4 C1250.0,292.7 1253.6,292.7 1253.6,298.9  M1253.9,353.9 C1253.9,348.7 1249.6,348.7 1249.6,343.5 C1249.6,337.4 1253.6,337.4 1253.6,331.3 C1253.6,325.2 1249.8,325.2 1249.8,319.1 C1249.8,313.0 1253.4,313.0 1253.4,306.9  M1274.2,250.0 C1274.2,255.3 1269.9,255.3 1269.9,260.5 C1269.9,266.8 1273.9,266.8 1273.9,273.0 C1273.9,279.3 1270.1,279.3 1270.1,285.5 C1270.1,291.7 1273.7,291.7 1273.7,298.0  M1275.1,354.1 C1275.1,348.9 1270.8,348.9 1270.8,343.8 C1270.8,337.7 1274.8,337.7 1274.8,331.5 C1274.8,325.4 1271.0,325.4 1271.0,319.3 C1271.0,313.2 1274.6,313.2 1274.6,307.1  M1293.4,249.9 C1293.4,255.2 1289.1,255.2 1289.1,260.4 C1289.1,266.7 1293.1,266.7 1293.1,272.9 C1293.1,279.2 1289.3,279.2 1289.3,285.4 C1289.3,291.6 1292.9,291.6 1292.9,297.9  M1293.9,352.7 C1293.9,347.6 1289.6,347.6 1289.6,342.4 C1289.6,336.3 1293.6,336.3 1293.6,330.2 C1293.6,324.1 1289.8,324.1 1289.8,318.0 C1289.8,311.8 1293.4,311.8 1293.4,305.7  M1313.1,248.7 C1313.1,254.0 1308.8,254.0 1308.8,259.3 C1308.8,265.5 1312.8,265.5 1312.8,271.8 C1312.8,278.0 1309.0,278.0 1309.0,284.2 C1309.0,290.5 1312.6,290.5 1312.6,296.7  M1314.4,353.3 C1314.4,348.1 1310.1,348.1 1310.1,342.9 C1310.1,336.8 1314.1,336.8 1314.1,330.7 C1314.1,324.6 1310.3,324.6 1310.3,318.5 C1310.3,312.4 1313.9,312.4 1313.9,306.3  M1333.7,251.3 C1333.7,256.6 1329.4,256.6 1329.4,261.9 C1329.4,268.1 1333.4,268.1 1333.4,274.3 C1333.4,280.6 1329.6,280.6 1329.6,286.8 C1329.6,293.1 1333.2,293.1 1333.2,299.3  M1333.4,353.1 C1333.4,348.0 1329.1,348.0 1329.1,342.8 C1329.1,336.7 1333.1,336.7 1333.1,330.6 C1333.1,324.5 1329.3,324.5 1329.3,318.3 C1329.3,312.2 1332.9,312.2 1332.9,306.1  M1351.1,249.3 C1351.1,254.6 1346.8,254.6 1346.8,259.8 C1346.8,266.1 1350.8,266.1 1350.8,272.3 C1350.8,278.6 1347.0,278.6 1347.0,284.8 C1347.0,291.0 1350.6,291.0 1350.6,297.3  M1353.1,353.4 C1353.1,348.2 1348.8,348.2 1348.8,343.1 C1348.8,336.9 1352.8,336.9 1352.8,330.8 C1352.8,324.7 1349.0,324.7 1349.0,318.6 C1349.0,312.5 1352.6,312.5 1352.6,306.4  M1371.7,250.5 C1371.7,255.8 1367.4,255.8 1367.4,261.0 C1367.4,267.3 1371.4,267.3 1371.4,273.5 C1371.4,279.8 1367.6,279.8 1367.6,286.0 C1367.6,292.2 1371.2,292.2 1371.2,298.5  M1371.3,354.7 C1371.3,349.5 1367.0,349.5 1367.0,344.3 C1367.0,338.2 1371.0,338.2 1371.0,332.1 C1371.0,326.0 1367.2,326.0 1367.2,319.9 C1367.2,313.8 1370.8,313.8 1370.8,307.7  M1387.8,250.7 C1387.8,256.0 1383.5,256.0 1383.5,261.3 C1383.5,267.5 1387.5,267.5 1387.5,273.7 C1387.5,280.0 1383.7,280.0 1383.7,286.2 C1383.7,292.5 1387.3,292.5 1387.3,298.7  M1389.2,353.7 C1389.2,348.5 1384.9,348.5 1384.9,343.4 C1384.9,337.2 1388.9,337.2 1388.9,331.1 C1388.9,325.0 1385.1,325.0 1385.1,318.9 C1385.1,312.8 1388.7,312.8 1388.7,306.7  M1410.8,248.5 C1410.8,253.8 1406.5,253.8 1406.5,259.1 C1406.5,265.3 1410.5,265.3 1410.5,271.6 C1410.5,277.8 1406.7,277.8 1406.7,284.0 C1406.7,290.3 1410.3,290.3 1410.3,296.5  M1408.7,352.4 C1408.7,347.3 1404.4,347.3 1404.4,342.1 C1404.4,336.0 1408.4,336.0 1408.4,329.9 C1408.4,323.8 1404.6,323.8 1404.6,317.7 C1404.6,311.5 1408.2,311.5 1408.2,305.4  M1430.8,248.8 C1430.8,254.1 1426.5,254.1 1426.5,259.3 C1426.5,265.6 1430.5,265.6 1430.5,271.8 C1430.5,278.1 1426.7,278.1 1426.7,284.3 C1426.7,290.5 1430.3,290.5 1430.3,296.8  M1428.7,352.3 C1428.7,347.1 1424.4,347.1 1424.4,342.0 C1424.4,335.8 1428.4,335.8 1428.4,329.7 C1428.4,323.6 1424.6,323.6 1424.6,317.5 C1424.6,311.4 1428.2,311.4 1428.2,305.3  M1447.8,248.6 C1447.8,253.9 1443.5,253.9 1443.5,259.1 C1443.5,265.4 1447.5,265.4 1447.5,271.6 C1447.5,277.9 1443.7,277.9 1443.7,284.1 C1443.7,290.3 1447.3,290.3 1447.3,296.6  M1449.9,354.5 C1449.9,349.4 1445.6,349.4 1445.6,344.2 C1445.6,338.1 1449.6,338.1 1449.6,332.0 C1449.6,325.9 1445.8,325.9 1445.8,319.7 C1445.8,313.6 1449.4,313.6 1449.4,307.5  M1468.8,250.5 C1468.8,255.8 1464.5,255.8 1464.5,261.1 C1464.5,267.3 1468.5,267.3 1468.5,273.6 C1468.5,279.8 1464.7,279.8 1464.7,286.0 C1464.7,292.3 1468.3,292.3 1468.3,298.5  M1467.7,354.5 C1467.7,349.3 1463.4,349.3 1463.4,344.2 C1463.4,338.1 1467.4,338.1 1467.4,331.9 C1467.4,325.8 1463.6,325.8 1463.6,319.7 C1463.6,313.6 1467.2,313.6 1467.2,307.5  M1488.0,250.9 C1488.0,256.2 1483.7,256.2 1483.7,261.5 C1483.7,267.7 1487.7,267.7 1487.7,273.9 C1487.7,280.2 1483.9,280.2 1483.9,286.4 C1483.9,292.7 1487.5,292.7 1487.5,298.9  M1487.2,352.1 C1487.2,346.9 1482.9,346.9 1482.9,341.8 C1482.9,335.7 1486.9,335.7 1486.9,329.5 C1486.9,323.4 1483.1,323.4 1483.1,317.3 C1483.1,311.2 1486.7,311.2 1486.7,305.1  M1506.1,250.6 C1506.1,255.9 1501.8,255.9 1501.8,261.2 C1501.8,267.4 1505.8,267.4 1505.8,273.7 C1505.8,279.9 1502.0,279.9 1502.0,286.2 C1502.0,292.4 1505.6,292.4 1505.6,298.6  M1506.7,352.3 C1506.7,347.2 1502.4,347.2 1502.4,342.0 C1502.4,335.9 1506.4,335.9 1506.4,329.8 C1506.4,323.7 1502.6,323.7 1502.6,317.5 C1502.6,311.4 1506.2,311.4 1506.2,305.3  M1526.4,248.7 C1526.4,254.0 1522.1,254.0 1522.1,259.2 C1522.1,265.5 1526.1,265.5 1526.1,271.7 C1526.1,278.0 1522.3,278.0 1522.3,284.2 C1522.3,290.4 1525.9,290.4 1525.9,296.7  M1527.2,353.0 C1527.2,347.8 1522.9,347.8 1522.9,342.6 C1522.9,336.5 1526.9,336.5 1526.9,330.4 C1526.9,324.3 1523.1,324.3 1523.1,318.2 C1523.1,312.1 1526.7,312.1 1526.7,306.0  M1544.2,249.2 C1544.2,254.5 1539.9,254.5 1539.9,259.8 C1539.9,266.0 1543.9,266.0 1543.9,272.3 C1543.9,278.5 1540.1,278.5 1540.1,284.7 C1540.1,291.0 1543.7,291.0 1543.7,297.2  M1545.3,352.5 C1545.3,347.4 1541.0,347.4 1541.0,342.2 C1541.0,336.1 1545.0,336.1 1545.0,330.0 C1545.0,323.9 1541.2,323.9 1541.2,317.8 C1541.2,311.6 1544.8,311.6 1544.8,305.5  M1563.3,250.8 C1563.3,256.0 1559.0,256.0 1559.0,261.3 C1559.0,267.6 1563.0,267.6 1563.0,273.8 C1563.0,280.0 1559.2,280.0 1559.2,286.3 C1559.2,292.5 1562.8,292.5 1562.8,298.8  M1563.4,353.2 C1563.4,348.0 1559.1,348.0 1559.1,342.8 C1559.1,336.7 1563.1,336.7 1563.1,330.6 C1563.1,324.5 1559.3,324.5 1559.3,318.4 C1559.3,312.3 1562.9,312.3 1562.9,306.2  M1581.3,249.6 C1581.3,254.8 1577.0,254.8 1577.0,260.1 C1577.0,266.4 1581.0,266.4 1581.0,272.6 C1581.0,278.8 1577.2,278.8 1577.2,285.1 C1577.2,291.3 1580.8,291.3 1580.8,297.6  M1582.5,353.3 C1582.5,348.1 1578.2,348.1 1578.2,342.9 C1578.2,336.8 1582.2,336.8 1582.2,330.7 C1582.2,324.6 1578.4,324.6 1578.4,318.5 C1578.4,312.4 1582.0,312.4 1582.0,306.3  M1604.6,251.4 C1604.6,256.7 1600.3,256.7 1600.3,262.0 C1600.3,268.2 1604.3,268.2 1604.3,274.5 C1604.3,280.7 1600.5,280.7 1600.5,286.9 C1600.5,293.2 1604.1,293.2 1604.1,299.4  M1602.8,353.2 C1602.8,348.1 1598.5,348.1 1598.5,342.9 C1598.5,336.8 1602.5,336.8 1602.5,330.7 C1602.5,324.6 1598.7,324.6 1598.7,318.5 C1598.7,312.3 1602.3,312.3 1602.3,306.2  M1624.0,250.6 C1624.0,255.9 1619.7,255.9 1619.7,261.1 C1619.7,267.4 1623.7,267.4 1623.7,273.6 C1623.7,279.9 1619.9,279.9 1619.9,286.1 C1619.9,292.3 1623.5,292.3 1623.5,298.6  M1623.6,354.3 C1623.6,349.1 1619.3,349.1 1619.3,343.9 C1619.3,337.8 1623.3,337.8 1623.3,331.7 C1623.3,325.6 1619.5,325.6 1619.5,319.5 C1619.5,313.4 1623.1,313.4 1623.1,307.3  M1641.9,250.0 C1641.9,255.2 1637.6,255.2 1637.6,260.5 C1637.6,266.8 1641.6,266.8 1641.6,273.0 C1641.6,279.2 1637.8,279.2 1637.8,285.5 C1637.8,291.7 1641.4,291.7 1641.4,298.0  M1639.7,353.9 C1639.7,348.8 1635.4,348.8 1635.4,343.6 C1635.4,337.5 1639.4,337.5 1639.4,331.4 C1639.4,325.3 1635.6,325.3 1635.6,319.1 C1635.6,313.0 1639.2,313.0 1639.2,306.9  M1663.1,248.8 C1663.1,254.1 1658.8,254.1 1658.8,259.3 C1658.8,265.6 1662.8,265.6 1662.8,271.8 C1662.8,278.1 1659.0,278.1 1659.0,284.3 C1659.0,290.5 1662.6,290.5 1662.6,296.8  M1661.9,354.2 C1661.9,349.1 1657.6,349.1 1657.6,343.9 C1657.6,337.8 1661.6,337.8 1661.6,331.7 C1661.6,325.6 1657.8,325.6 1657.8,319.5 C1657.8,313.4 1661.4,313.4 1661.4,307.2  M1679.3,249.8 C1679.3,255.1 1675.0,255.1 1675.0,260.4 C1675.0,266.6 1679.0,266.6 1679.0,272.9 C1679.0,279.1 1675.2,279.1 1675.2,285.3 C1675.2,291.6 1678.8,291.6 1678.8,297.8  M1679.6,354.2 C1679.6,349.0 1675.3,349.0 1675.3,343.8 C1675.3,337.7 1679.3,337.7 1679.3,331.6 C1679.3,325.5 1675.5,325.5 1675.5,319.4 C1675.5,313.3 1679.1,313.3 1679.1,307.2  M1698.5,249.1 C1698.5,254.4 1694.2,254.4 1694.2,259.7 C1694.2,265.9 1698.2,265.9 1698.2,272.1 C1698.2,278.4 1694.4,278.4 1694.4,284.6 C1694.4,290.9 1698.0,290.9 1698.0,297.1  M1698.2,353.8 C1698.2,348.6 1693.9,348.6 1693.9,343.4 C1693.9,337.3 1697.9,337.3 1697.9,331.2 C1697.9,325.1 1694.1,325.1 1694.1,319.0 C1694.1,312.9 1697.7,312.9 1697.7,306.8  M1718.1,250.6 C1718.1,255.9 1713.8,255.9 1713.8,261.1 C1713.8,267.4 1717.8,267.4 1717.8,273.6 C1717.8,279.9 1714.0,279.9 1714.0,286.1 C1714.0,292.3 1717.6,292.3 1717.6,298.6  M1719.4,354.9 C1719.4,349.7 1715.1,349.7 1715.1,344.5 C1715.1,338.4 1719.1,338.4 1719.1,332.3 C1719.1,326.2 1715.3,326.2 1715.3,320.1 C1715.3,314.0 1718.9,314.0 1718.9,307.9  M1739.5,249.7 C1739.5,255.0 1735.2,255.0 1735.2,260.3 C1735.2,266.5 1739.2,266.5 1739.2,272.8 C1739.2,279.0 1735.4,279.0 1735.4,285.3 C1735.4,291.5 1739.0,291.5 1739.0,297.7  M1738.6,354.6 C1738.6,349.4 1734.3,349.4 1734.3,344.2 C1734.3,338.1 1738.3,338.1 1738.3,332.0 C1738.3,325.9 1734.5,325.9 1734.5,319.8 C1734.5,313.7 1738.1,313.7 1738.1,307.6  M1757.9,249.2 C1757.9,254.4 1753.6,254.4 1753.6,259.7 C1753.6,266.0 1757.6,266.0 1757.6,272.2 C1757.6,278.4 1753.8,278.4 1753.8,284.7 C1753.8,290.9 1757.4,290.9 1757.4,297.2  M1757.6,352.1 C1757.6,346.9 1753.3,346.9 1753.3,341.7 C1753.3,335.6 1757.3,335.6 1757.3,329.5 C1757.3,323.4 1753.5,323.4 1753.5,317.3 C1753.5,311.2 1757.1,311.2 1757.1,305.1 " fill="none" stroke="#231815" stroke-width="4.6"/><path d="M304.8,251.1 C304.8,256.4 300.5,256.4 300.5,261.7 C300.5,267.9 304.5,267.9 304.5,274.2 C304.5,280.4 300.7,280.4 300.7,286.6 C300.7,292.9 304.3,292.9 304.3,299.1  M303.1,352.1 C303.1,347.0 298.8,347.0 298.8,341.8 C298.8,335.7 302.8,335.7 302.8,329.6 C302.8,323.5 299.0,323.5 299.0,317.4 C299.0,311.2 302.6,311.2 302.6,305.1  M324.4,250.7 C324.4,255.9 320.1,255.9 320.1,261.2 C320.1,267.5 324.1,267.5 324.1,273.7 C324.1,279.9 320.3,279.9 320.3,286.2 C320.3,292.4 323.9,292.4 323.9,298.7  M324.7,353.0 C324.7,347.8 320.4,347.8 320.4,342.7 C320.4,336.5 324.4,336.5 324.4,330.4 C324.4,324.3 320.6,324.3 320.6,318.2 C320.6,312.1 324.2,312.1 324.2,306.0  M342.8,250.0 C342.8,255.3 338.5,255.3 338.5,260.6 C338.5,266.8 342.5,266.8 342.5,273.1 C342.5,279.3 338.7,279.3 338.7,285.5 C338.7,291.8 342.3,291.8 342.3,298.0  M342.1,355.0 C342.1,349.8 337.8,349.8 337.8,344.7 C337.8,338.5 341.8,338.5 341.8,332.4 C341.8,326.3 338.0,326.3 338.0,320.2 C338.0,314.1 341.6,314.1 341.6,308.0  M361.4,250.3 C361.4,255.6 357.1,255.6 357.1,260.9 C357.1,267.1 361.1,267.1 361.1,273.3 C361.1,279.6 357.3,279.6 357.3,285.8 C357.3,292.1 360.9,292.1 360.9,298.3  M362.1,352.1 C362.1,346.9 357.8,346.9 357.8,341.8 C357.8,335.6 361.8,335.6 361.8,329.5 C361.8,323.4 358.0,323.4 358.0,317.3 C358.0,311.2 361.6,311.2 361.6,305.1  M380.9,250.3 C380.9,255.6 376.6,255.6 376.6,260.9 C376.6,267.1 380.6,267.1 380.6,273.4 C380.6,279.6 376.8,279.6 376.8,285.9 C376.8,292.1 380.4,292.1 380.4,298.3  M383.4,352.5 C383.4,347.3 379.1,347.3 379.1,342.1 C379.1,336.0 383.1,336.0 383.1,329.9 C383.1,323.8 379.3,323.8 379.3,317.7 C379.3,311.6 382.9,311.6 382.9,305.5  M402.9,249.4 C402.9,254.7 398.6,254.7 398.6,260.0 C398.6,266.2 402.6,266.2 402.6,272.5 C402.6,278.7 398.8,278.7 398.8,285.0 C398.8,291.2 402.4,291.2 402.4,297.4  M401.3,354.9 C401.3,349.7 397.0,349.7 397.0,344.5 C397.0,338.4 401.0,338.4 401.0,332.3 C401.0,326.2 397.2,326.2 397.2,320.1 C397.2,314.0 400.8,314.0 400.8,307.9  M420.2,249.9 C420.2,255.2 415.9,255.2 415.9,260.4 C415.9,266.7 419.9,266.7 419.9,272.9 C419.9,279.2 416.1,279.2 416.1,285.4 C416.1,291.6 419.7,291.6 419.7,297.9  M420.0,353.6 C420.0,348.4 415.7,348.4 415.7,343.2 C415.7,337.1 419.7,337.1 419.7,331.0 C419.7,324.9 415.9,324.9 415.9,318.8 C415.9,312.7 419.5,312.7 419.5,306.6  M440.3,250.2 C440.3,255.5 436.0,255.5 436.0,260.7 C436.0,267.0 440.0,267.0 440.0,273.2 C440.0,279.5 436.2,279.5 436.2,285.7 C436.2,291.9 439.8,291.9 439.8,298.2  M439.0,353.9 C439.0,348.7 434.7,348.7 434.7,343.5 C434.7,337.4 438.7,337.4 438.7,331.3 C438.7,325.2 434.9,325.2 434.9,319.1 C434.9,313.0 438.5,313.0 438.5,306.9  M459.6,249.8 C459.6,255.1 455.3,255.1 455.3,260.4 C455.3,266.6 459.3,266.6 459.3,272.8 C459.3,279.1 455.5,279.1 455.5,285.3 C455.5,291.6 459.1,291.6 459.1,297.8  M459.8,354.2 C459.8,349.0 455.5,349.0 455.5,343.8 C455.5,337.7 459.5,337.7 459.5,331.6 C459.5,325.5 455.7,325.5 455.7,319.4 C455.7,313.3 459.3,313.3 459.3,307.2  M478.5,251.4 C478.5,256.7 474.2,256.7 474.2,262.0 C474.2,268.2 478.2,268.2 478.2,274.5 C478.2,280.7 474.4,280.7 474.4,287.0 C474.4,293.2 478.0,293.2 478.0,299.4  M476.9,353.6 C476.9,348.4 472.6,348.4 472.6,343.2 C472.6,337.1 476.6,337.1 476.6,331.0 C476.6,324.9 472.8,324.9 472.8,318.8 C472.8,312.7 476.4,312.7 476.4,306.6  M496.2,249.7 C496.2,255.0 491.9,255.0 491.9,260.3 C491.9,266.5 495.9,266.5 495.9,272.8 C495.9,279.0 492.1,279.0 492.1,285.3 C492.1,291.5 495.7,291.5 495.7,297.7  M498.0,353.7 C498.0,348.6 493.7,348.6 493.7,343.4 C493.7,337.3 497.7,337.3 497.7,331.2 C497.7,325.1 493.9,325.1 493.9,319.0 C493.9,312.8 497.5,312.8 497.5,306.7  M519.3,250.4 C519.3,255.7 515.0,255.7 515.0,261.0 C515.0,267.2 519.0,267.2 519.0,273.4 C519.0,279.7 515.2,279.7 515.2,285.9 C515.2,292.2 518.8,292.2 518.8,298.4  M518.8,352.2 C518.8,347.0 514.5,347.0 514.5,341.8 C514.5,335.7 518.5,335.7 518.5,329.6 C518.5,323.5 514.7,323.5 514.7,317.4 C514.7,311.3 518.3,311.3 518.3,305.2  M537.6,250.5 C537.6,255.8 533.3,255.8 533.3,261.1 C533.3,267.3 537.3,267.3 537.3,273.6 C537.3,279.8 533.5,279.8 533.5,286.1 C533.5,292.3 537.1,292.3 537.1,298.5  M537.7,353.1 C537.7,347.9 533.4,347.9 533.4,342.7 C533.4,336.6 537.4,336.6 537.4,330.5 C537.4,324.4 533.6,324.4 533.6,318.3 C533.6,312.2 537.2,312.2 537.2,306.1  M557.8,248.6 C557.8,253.8 553.5,253.8 553.5,259.1 C553.5,265.4 557.5,265.4 557.5,271.6 C557.5,277.8 553.7,277.8 553.7,284.1 C553.7,290.3 557.3,290.3 557.3,296.6  M558.6,352.2 C558.6,347.0 554.3,347.0 554.3,341.8 C554.3,335.7 558.3,335.7 558.3,329.6 C558.3,323.5 554.5,323.5 554.5,317.4 C554.5,311.3 558.1,311.3 558.1,305.2  M576.0,249.3 C576.0,254.5 571.7,254.5 571.7,259.8 C571.7,266.1 575.7,266.1 575.7,272.3 C575.7,278.5 571.9,278.5 571.9,284.8 C571.9,291.0 575.5,291.0 575.5,297.3  M575.2,353.4 C575.2,348.2 570.9,348.2 570.9,343.0 C570.9,336.9 574.9,336.9 574.9,330.8 C574.9,324.7 571.1,324.7 571.1,318.6 C571.1,312.5 574.7,312.5 574.7,306.4  M595.1,249.6 C595.1,254.9 590.8,254.9 590.8,260.2 C590.8,266.4 594.8,266.4 594.8,272.6 C594.8,278.9 591.0,278.9 591.0,285.1 C591.0,291.4 594.6,291.4 594.6,297.6  M595.8,352.9 C595.8,347.8 591.5,347.8 591.5,342.6 C591.5,336.5 595.5,336.5 595.5,330.4 C595.5,324.3 591.7,324.3 591.7,318.2 C591.7,312.0 595.3,312.0 595.3,305.9  M614.6,249.4 C614.6,254.7 610.3,254.7 610.3,260.0 C610.3,266.2 614.3,266.2 614.3,272.4 C614.3,278.7 610.5,278.7 610.5,284.9 C610.5,291.2 614.1,291.2 614.1,297.4  M612.3,353.1 C612.3,348.0 608.0,348.0 608.0,342.8 C608.0,336.7 612.0,336.7 612.0,330.6 C612.0,324.5 608.2,324.5 608.2,318.4 C608.2,312.2 611.8,312.2 611.8,306.1  M633.7,250.2 C633.7,255.5 629.4,255.5 629.4,260.8 C629.4,267.0 633.4,267.0 633.4,273.2 C633.4,279.5 629.6,279.5 629.6,285.7 C629.6,292.0 633.2,292.0 633.2,298.2  M633.5,354.2 C633.5,349.0 629.2,349.0 629.2,343.9 C629.2,337.8 633.2,337.8 633.2,331.6 C633.2,325.5 629.4,325.5 629.4,319.4 C629.4,313.3 633.0,313.3 633.0,307.2  M653.3,250.9 C653.3,256.2 649.0,256.2 649.0,261.5 C649.0,267.7 653.0,267.7 653.0,274.0 C653.0,280.2 649.2,280.2 649.2,286.4 C649.2,292.7 652.8,292.7 652.8,298.9  M654.0,352.7 C654.0,347.5 649.7,347.5 649.7,342.4 C649.7,336.3 653.7,336.3 653.7,330.2 C653.7,324.0 649.9,324.0 649.9,317.9 C649.9,311.8 653.5,311.8 653.5,305.7  M672.2,250.6 C672.2,255.9 667.9,255.9 667.9,261.2 C667.9,267.4 671.9,267.4 671.9,273.6 C671.9,279.9 668.1,279.9 668.1,286.1 C668.1,292.4 671.7,292.4 671.7,298.6  M672.3,352.3 C672.3,347.1 668.0,347.1 668.0,342.0 C668.0,335.9 672.0,335.9 672.0,329.7 C672.0,323.6 668.2,323.6 668.2,317.5 C668.2,311.4 671.8,311.4 671.8,305.3  M693.7,251.0 C693.7,256.3 689.4,256.3 689.4,261.6 C689.4,267.8 693.4,267.8 693.4,274.0 C693.4,280.3 689.6,280.3 689.6,286.5 C689.6,292.8 693.2,292.8 693.2,299.0  M691.7,353.3 C691.7,348.1 687.4,348.1 687.4,343.0 C687.4,336.9 691.4,336.9 691.4,330.8 C691.4,324.6 687.6,324.6 687.6,318.5 C687.6,312.4 691.2,312.4 691.2,306.3  M713.0,249.5 C713.0,254.8 708.7,254.8 708.7,260.1 C708.7,266.3 712.7,266.3 712.7,272.6 C712.7,278.8 708.9,278.8 708.9,285.0 C708.9,291.3 712.5,291.3 712.5,297.5  M711.7,354.0 C711.7,348.8 707.4,348.8 707.4,343.6 C707.4,337.5 711.4,337.5 711.4,331.4 C711.4,325.3 707.6,325.3 707.6,319.2 C707.6,313.1 711.2,313.1 711.2,307.0  M729.9,249.2 C729.9,254.5 725.6,254.5 725.6,259.7 C725.6,266.0 729.6,266.0 729.6,272.2 C729.6,278.5 725.8,278.5 725.8,284.7 C725.8,290.9 729.4,290.9 729.4,297.2  M728.9,352.4 C728.9,347.2 724.6,347.2 724.6,342.0 C724.6,335.9 728.6,335.9 728.6,329.8 C728.6,323.7 724.8,323.7 724.8,317.6 C724.8,311.5 728.4,311.5 728.4,305.4  M749.9,250.9 C749.9,256.2 745.6,256.2 745.6,261.5 C745.6,267.7 749.6,267.7 749.6,274.0 C749.6,280.2 745.8,280.2 745.8,286.4 C745.8,292.7 749.4,292.7 749.4,298.9  M750.2,354.5 C750.2,349.3 745.9,349.3 745.9,344.2 C745.9,338.1 749.9,338.1 749.9,332.0 C749.9,325.8 746.1,325.8 746.1,319.7 C746.1,313.6 749.7,313.6 749.7,307.5  M770.8,250.9 C770.8,256.2 766.5,256.2 766.5,261.5 C766.5,267.7 770.5,267.7 770.5,274.0 C770.5,280.2 766.7,280.2 766.7,286.4 C766.7,292.7 770.3,292.7 770.3,298.9  M769.4,353.9 C769.4,348.8 765.1,348.8 765.1,343.6 C765.1,337.5 769.1,337.5 769.1,331.4 C769.1,325.3 765.3,325.3 765.3,319.1 C765.3,313.0 768.9,313.0 768.9,306.9  M789.4,248.9 C789.4,254.2 785.1,254.2 785.1,259.4 C785.1,265.7 789.1,265.7 789.1,271.9 C789.1,278.2 785.3,278.2 785.3,284.4 C785.3,290.6 788.9,290.6 788.9,296.9  M787.8,352.9 C787.8,347.7 783.5,347.7 783.5,342.5 C783.5,336.4 787.5,336.4 787.5,330.3 C787.5,324.2 783.7,324.2 783.7,318.1 C783.7,312.0 787.3,312.0 787.3,305.9  M807.0,249.5 C807.0,254.8 802.7,254.8 802.7,260.1 C802.7,266.3 806.7,266.3 806.7,272.6 C806.7,278.8 802.9,278.8 802.9,285.1 C802.9,291.3 806.5,291.3 806.5,297.5  M807.0,353.3 C807.0,348.1 802.7,348.1 802.7,342.9 C802.7,336.8 806.7,336.8 806.7,330.7 C806.7,324.6 802.9,324.6 802.9,318.5 C802.9,312.4 806.5,312.4 806.5,306.3  M827.2,251.3 C827.2,256.5 822.9,256.5 822.9,261.8 C822.9,268.1 826.9,268.1 826.9,274.3 C826.9,280.5 823.1,280.5 823.1,286.8 C823.1,293.0 826.7,293.0 826.7,299.3  M830.0,352.5 C830.0,347.3 825.7,347.3 825.7,342.1 C825.7,336.0 829.7,336.0 829.7,329.9 C829.7,323.8 825.9,323.8 825.9,317.7 C825.9,311.6 829.5,311.6 829.5,305.5  M846.9,251.1 C846.9,256.4 842.6,256.4 842.6,261.7 C842.6,267.9 846.6,267.9 846.6,274.2 C846.6,280.4 842.8,280.4 842.8,286.7 C842.8,292.9 846.4,292.9 846.4,299.1  M848.4,355.0 C848.4,349.8 844.1,349.8 844.1,344.6 C844.1,338.5 848.1,338.5 848.1,332.4 C848.1,326.3 844.3,326.3 844.3,320.2 C844.3,314.1 847.9,314.1 847.9,308.0  M867.8,251.3 C867.8,256.6 863.5,256.6 863.5,261.8 C863.5,268.1 867.5,268.1 867.5,274.3 C867.5,280.6 863.7,280.6 863.7,286.8 C863.7,293.0 867.3,293.0 867.3,299.3  M868.1,352.7 C868.1,347.5 863.8,347.5 863.8,342.3 C863.8,336.2 867.8,336.2 867.8,330.1 C867.8,324.0 864.0,324.0 864.0,317.9 C864.0,311.8 867.6,311.8 867.6,305.7  M886.2,250.5 C886.2,255.8 881.9,255.8 881.9,261.0 C881.9,267.3 885.9,267.3 885.9,273.5 C885.9,279.8 882.1,279.8 882.1,286.0 C882.1,292.2 885.7,292.2 885.7,298.5  M886.3,353.6 C886.3,348.4 882.0,348.4 882.0,343.2 C882.0,337.1 886.0,337.1 886.0,331.0 C886.0,324.9 882.2,324.9 882.2,318.8 C882.2,312.7 885.8,312.7 885.8,306.6  M906.1,249.2 C906.1,254.5 901.8,254.5 901.8,259.7 C901.8,266.0 905.8,266.0 905.8,272.2 C905.8,278.5 902.0,278.5 902.0,284.7 C902.0,290.9 905.6,290.9 905.6,297.2  M905.2,352.2 C905.2,347.0 900.9,347.0 900.9,341.9 C900.9,335.8 904.9,335.8 904.9,329.6 C904.9,323.5 901.1,323.5 901.1,317.4 C901.1,311.3 904.7,311.3 904.7,305.2  M926.9,250.9 C926.9,256.2 922.6,256.2 922.6,261.5 C922.6,267.7 926.6,267.7 926.6,274.0 C926.6,280.2 922.8,280.2 922.8,286.5 C922.8,292.7 926.4,292.7 926.4,298.9  M926.3,352.1 C926.3,347.0 922.0,347.0 922.0,341.8 C922.0,335.7 926.0,335.7 926.0,329.6 C926.0,323.5 922.2,323.5 922.2,317.4 C922.2,311.2 925.8,311.2 925.8,305.1  M945.0,251.3 C945.0,256.6 940.7,256.6 940.7,261.8 C940.7,268.1 944.7,268.1 944.7,274.3 C944.7,280.6 940.9,280.6 940.9,286.8 C940.9,293.0 944.5,293.0 944.5,299.3  M944.0,354.7 C944.0,349.5 939.7,349.5 939.7,344.3 C939.7,338.2 943.7,338.2 943.7,332.1 C943.7,326.0 939.9,326.0 939.9,319.9 C939.9,313.8 943.5,313.8 943.5,307.7  M963.2,248.5 C963.2,253.8 958.9,253.8 958.9,259.1 C958.9,265.3 962.9,265.3 962.9,271.6 C962.9,277.8 959.1,277.8 959.1,284.1 C959.1,290.3 962.7,290.3 962.7,296.5  M963.5,354.2 C963.5,349.1 959.2,349.1 959.2,343.9 C959.2,337.8 963.2,337.8 963.2,331.7 C963.2,325.6 959.4,325.6 959.4,319.5 C959.4,313.3 963.0,313.3 963.0,307.2  M982.4,250.5 C982.4,255.8 978.1,255.8 978.1,261.0 C978.1,267.3 982.1,267.3 982.1,273.5 C982.1,279.8 978.3,279.8 978.3,286.0 C978.3,292.2 981.9,292.2 981.9,298.5  M984.0,353.6 C984.0,348.4 979.7,348.4 979.7,343.2 C979.7,337.1 983.7,337.1 983.7,331.0 C983.7,324.9 979.9,324.9 979.9,318.8 C979.9,312.7 983.5,312.7 983.5,306.6  M1002.5,250.3 C1002.5,255.6 998.2,255.6 998.2,260.9 C998.2,267.1 1002.2,267.1 1002.2,273.4 C1002.2,279.6 998.4,279.6 998.4,285.9 C998.4,292.1 1002.0,292.1 1002.0,298.3  M1004.3,353.0 C1004.3,347.9 1000.0,347.9 1000.0,342.7 C1000.0,336.6 1004.0,336.6 1004.0,330.5 C1004.0,324.4 1000.2,324.4 1000.2,318.2 C1000.2,312.1 1003.8,312.1 1003.8,306.0  M1022.0,249.9 C1022.0,255.2 1017.7,255.2 1017.7,260.5 C1017.7,266.7 1021.7,266.7 1021.7,273.0 C1021.7,279.2 1017.9,279.2 1017.9,285.5 C1017.9,291.7 1021.5,291.7 1021.5,297.9  M1021.6,354.3 C1021.6,349.2 1017.3,349.2 1017.3,344.0 C1017.3,337.9 1021.3,337.9 1021.3,331.8 C1021.3,325.7 1017.5,325.7 1017.5,319.6 C1017.5,313.5 1021.1,313.5 1021.1,307.3  M1039.0,250.1 C1039.0,255.4 1034.7,255.4 1034.7,260.7 C1034.7,266.9 1038.7,266.9 1038.7,273.1 C1038.7,279.4 1034.9,279.4 1034.9,285.6 C1034.9,291.9 1038.5,291.9 1038.5,298.1  M1040.8,354.5 C1040.8,349.3 1036.5,349.3 1036.5,344.1 C1036.5,338.0 1040.5,338.0 1040.5,331.9 C1040.5,325.8 1036.7,325.8 1036.7,319.7 C1036.7,313.6 1040.3,313.6 1040.3,307.5  M1060.4,251.3 C1060.4,256.5 1056.1,256.5 1056.1,261.8 C1056.1,268.1 1060.1,268.1 1060.1,274.3 C1060.1,280.5 1056.3,280.5 1056.3,286.8 C1056.3,293.0 1059.9,293.0 1059.9,299.3  M1058.0,354.4 C1058.0,349.2 1053.7,349.2 1053.7,344.1 C1053.7,338.0 1057.7,338.0 1057.7,331.9 C1057.7,325.7 1053.9,325.7 1053.9,319.6 C1053.9,313.5 1057.5,313.5 1057.5,307.4  M1077.7,250.4 C1077.7,255.7 1073.4,255.7 1073.4,260.9 C1073.4,267.2 1077.4,267.2 1077.4,273.4 C1077.4,279.7 1073.6,279.7 1073.6,285.9 C1073.6,292.1 1077.2,292.1 1077.2,298.4  M1078.3,354.6 C1078.3,349.4 1074.0,349.4 1074.0,344.2 C1074.0,338.1 1078.0,338.1 1078.0,332.0 C1078.0,325.9 1074.2,325.9 1074.2,319.8 C1074.2,313.7 1077.8,313.7 1077.8,307.6  M1100.0,249.3 C1100.0,254.6 1095.7,254.6 1095.7,259.9 C1095.7,266.1 1099.7,266.1 1099.7,272.3 C1099.7,278.6 1095.9,278.6 1095.9,284.8 C1095.9,291.1 1099.5,291.1 1099.5,297.3  M1100.1,353.6 C1100.1,348.4 1095.8,348.4 1095.8,343.2 C1095.8,337.1 1099.8,337.1 1099.8,331.0 C1099.8,324.9 1096.0,324.9 1096.0,318.8 C1096.0,312.7 1099.6,312.7 1099.6,306.6  M1117.0,250.8 C1117.0,256.1 1112.7,256.1 1112.7,261.4 C1112.7,267.6 1116.7,267.6 1116.7,273.9 C1116.7,280.1 1112.9,280.1 1112.9,286.3 C1112.9,292.6 1116.5,292.6 1116.5,298.8  M1117.2,352.0 C1117.2,346.8 1112.9,346.8 1112.9,341.7 C1112.9,335.6 1116.9,335.6 1116.9,329.4 C1116.9,323.3 1113.1,323.3 1113.1,317.2 C1113.1,311.1 1116.7,311.1 1116.7,305.0  M1139.6,248.9 C1139.6,254.2 1135.3,254.2 1135.3,259.4 C1135.3,265.7 1139.3,265.7 1139.3,271.9 C1139.3,278.2 1135.5,278.2 1135.5,284.4 C1135.5,290.6 1139.1,290.6 1139.1,296.9  M1139.2,352.2 C1139.2,347.0 1134.9,347.0 1134.9,341.9 C1134.9,335.8 1138.9,335.8 1138.9,329.6 C1138.9,323.5 1135.1,323.5 1135.1,317.4 C1135.1,311.3 1138.7,311.3 1138.7,305.2  M1156.2,248.8 C1156.2,254.0 1151.9,254.0 1151.9,259.3 C1151.9,265.6 1155.9,265.6 1155.9,271.8 C1155.9,278.0 1152.1,278.0 1152.1,284.3 C1152.1,290.5 1155.7,290.5 1155.7,296.8  M1156.2,353.5 C1156.2,348.3 1151.9,348.3 1151.9,343.2 C1151.9,337.1 1155.9,337.1 1155.9,330.9 C1155.9,324.8 1152.1,324.8 1152.1,318.7 C1152.1,312.6 1155.7,312.6 1155.7,306.5  M1176.9,249.6 C1176.9,254.8 1172.6,254.8 1172.6,260.1 C1172.6,266.4 1176.6,266.4 1176.6,272.6 C1176.6,278.8 1172.8,278.8 1172.8,285.1 C1172.8,291.3 1176.4,291.3 1176.4,297.6  M1176.2,353.9 C1176.2,348.8 1171.9,348.8 1171.9,343.6 C1171.9,337.5 1175.9,337.5 1175.9,331.4 C1175.9,325.3 1172.1,325.3 1172.1,319.2 C1172.1,313.1 1175.7,313.1 1175.7,306.9  M1194.6,249.1 C1194.6,254.4 1190.3,254.4 1190.3,259.6 C1190.3,265.9 1194.3,265.9 1194.3,272.1 C1194.3,278.4 1190.5,278.4 1190.5,284.6 C1190.5,290.8 1194.1,290.8 1194.1,297.1  M1195.9,353.0 C1195.9,347.8 1191.6,347.8 1191.6,342.6 C1191.6,336.5 1195.6,336.5 1195.6,330.4 C1195.6,324.3 1191.8,324.3 1191.8,318.2 C1191.8,312.1 1195.4,312.1 1195.4,306.0  M1213.7,250.6 C1213.7,255.9 1209.4,255.9 1209.4,261.2 C1209.4,267.4 1213.4,267.4 1213.4,273.7 C1213.4,279.9 1209.6,279.9 1209.6,286.2 C1209.6,292.4 1213.2,292.4 1213.2,298.6  M1214.0,353.1 C1214.0,348.0 1209.7,348.0 1209.7,342.8 C1209.7,336.7 1213.7,336.7 1213.7,330.6 C1213.7,324.5 1209.9,324.5 1209.9,318.4 C1209.9,312.3 1213.5,312.3 1213.5,306.1  M1235.8,249.6 C1235.8,254.9 1231.5,254.9 1231.5,260.2 C1231.5,266.4 1235.5,266.4 1235.5,272.7 C1235.5,278.9 1231.7,278.9 1231.7,285.1 C1231.7,291.4 1235.3,291.4 1235.3,297.6  M1234.6,353.8 C1234.6,348.6 1230.3,348.6 1230.3,343.5 C1230.3,337.4 1234.3,337.4 1234.3,331.3 C1234.3,325.1 1230.5,325.1 1230.5,319.0 C1230.5,312.9 1234.1,312.9 1234.1,306.8  M1254.1,250.9 C1254.1,256.2 1249.8,256.2 1249.8,261.5 C1249.8,267.7 1253.8,267.7 1253.8,273.9 C1253.8,280.2 1250.0,280.2 1250.0,286.4 C1250.0,292.7 1253.6,292.7 1253.6,298.9  M1253.9,353.9 C1253.9,348.7 1249.6,348.7 1249.6,343.5 C1249.6,337.4 1253.6,337.4 1253.6,331.3 C1253.6,325.2 1249.8,325.2 1249.8,319.1 C1249.8,313.0 1253.4,313.0 1253.4,306.9  M1274.2,250.0 C1274.2,255.3 1269.9,255.3 1269.9,260.5 C1269.9,266.8 1273.9,266.8 1273.9,273.0 C1273.9,279.3 1270.1,279.3 1270.1,285.5 C1270.1,291.7 1273.7,291.7 1273.7,298.0  M1275.1,354.1 C1275.1,348.9 1270.8,348.9 1270.8,343.8 C1270.8,337.7 1274.8,337.7 1274.8,331.5 C1274.8,325.4 1271.0,325.4 1271.0,319.3 C1271.0,313.2 1274.6,313.2 1274.6,307.1  M1293.4,249.9 C1293.4,255.2 1289.1,255.2 1289.1,260.4 C1289.1,266.7 1293.1,266.7 1293.1,272.9 C1293.1,279.2 1289.3,279.2 1289.3,285.4 C1289.3,291.6 1292.9,291.6 1292.9,297.9  M1293.9,352.7 C1293.9,347.6 1289.6,347.6 1289.6,342.4 C1289.6,336.3 1293.6,336.3 1293.6,330.2 C1293.6,324.1 1289.8,324.1 1289.8,318.0 C1289.8,311.8 1293.4,311.8 1293.4,305.7  M1313.1,248.7 C1313.1,254.0 1308.8,254.0 1308.8,259.3 C1308.8,265.5 1312.8,265.5 1312.8,271.8 C1312.8,278.0 1309.0,278.0 1309.0,284.2 C1309.0,290.5 1312.6,290.5 1312.6,296.7  M1314.4,353.3 C1314.4,348.1 1310.1,348.1 1310.1,342.9 C1310.1,336.8 1314.1,336.8 1314.1,330.7 C1314.1,324.6 1310.3,324.6 1310.3,318.5 C1310.3,312.4 1313.9,312.4 1313.9,306.3  M1333.7,251.3 C1333.7,256.6 1329.4,256.6 1329.4,261.9 C1329.4,268.1 1333.4,268.1 1333.4,274.3 C1333.4,280.6 1329.6,280.6 1329.6,286.8 C1329.6,293.1 1333.2,293.1 1333.2,299.3  M1333.4,353.1 C1333.4,348.0 1329.1,348.0 1329.1,342.8 C1329.1,336.7 1333.1,336.7 1333.1,330.6 C1333.1,324.5 1329.3,324.5 1329.3,318.3 C1329.3,312.2 1332.9,312.2 1332.9,306.1  M1351.1,249.3 C1351.1,254.6 1346.8,254.6 1346.8,259.8 C1346.8,266.1 1350.8,266.1 1350.8,272.3 C1350.8,278.6 1347.0,278.6 1347.0,284.8 C1347.0,291.0 1350.6,291.0 1350.6,297.3  M1353.1,353.4 C1353.1,348.2 1348.8,348.2 1348.8,343.1 C1348.8,336.9 1352.8,336.9 1352.8,330.8 C1352.8,324.7 1349.0,324.7 1349.0,318.6 C1349.0,312.5 1352.6,312.5 1352.6,306.4  M1371.7,250.5 C1371.7,255.8 1367.4,255.8 1367.4,261.0 C1367.4,267.3 1371.4,267.3 1371.4,273.5 C1371.4,279.8 1367.6,279.8 1367.6,286.0 C1367.6,292.2 1371.2,292.2 1371.2,298.5  M1371.3,354.7 C1371.3,349.5 1367.0,349.5 1367.0,344.3 C1367.0,338.2 1371.0,338.2 1371.0,332.1 C1371.0,326.0 1367.2,326.0 1367.2,319.9 C1367.2,313.8 1370.8,313.8 1370.8,307.7  M1387.8,250.7 C1387.8,256.0 1383.5,256.0 1383.5,261.3 C1383.5,267.5 1387.5,267.5 1387.5,273.7 C1387.5,280.0 1383.7,280.0 1383.7,286.2 C1383.7,292.5 1387.3,292.5 1387.3,298.7  M1389.2,353.7 C1389.2,348.5 1384.9,348.5 1384.9,343.4 C1384.9,337.2 1388.9,337.2 1388.9,331.1 C1388.9,325.0 1385.1,325.0 1385.1,318.9 C1385.1,312.8 1388.7,312.8 1388.7,306.7  M1410.8,248.5 C1410.8,253.8 1406.5,253.8 1406.5,259.1 C1406.5,265.3 1410.5,265.3 1410.5,271.6 C1410.5,277.8 1406.7,277.8 1406.7,284.0 C1406.7,290.3 1410.3,290.3 1410.3,296.5  M1408.7,352.4 C1408.7,347.3 1404.4,347.3 1404.4,342.1 C1404.4,336.0 1408.4,336.0 1408.4,329.9 C1408.4,323.8 1404.6,323.8 1404.6,317.7 C1404.6,311.5 1408.2,311.5 1408.2,305.4  M1430.8,248.8 C1430.8,254.1 1426.5,254.1 1426.5,259.3 C1426.5,265.6 1430.5,265.6 1430.5,271.8 C1430.5,278.1 1426.7,278.1 1426.7,284.3 C1426.7,290.5 1430.3,290.5 1430.3,296.8  M1428.7,352.3 C1428.7,347.1 1424.4,347.1 1424.4,342.0 C1424.4,335.8 1428.4,335.8 1428.4,329.7 C1428.4,323.6 1424.6,323.6 1424.6,317.5 C1424.6,311.4 1428.2,311.4 1428.2,305.3  M1447.8,248.6 C1447.8,253.9 1443.5,253.9 1443.5,259.1 C1443.5,265.4 1447.5,265.4 1447.5,271.6 C1447.5,277.9 1443.7,277.9 1443.7,284.1 C1443.7,290.3 1447.3,290.3 1447.3,296.6  M1449.9,354.5 C1449.9,349.4 1445.6,349.4 1445.6,344.2 C1445.6,338.1 1449.6,338.1 1449.6,332.0 C1449.6,325.9 1445.8,325.9 1445.8,319.7 C1445.8,313.6 1449.4,313.6 1449.4,307.5  M1468.8,250.5 C1468.8,255.8 1464.5,255.8 1464.5,261.1 C1464.5,267.3 1468.5,267.3 1468.5,273.6 C1468.5,279.8 1464.7,279.8 1464.7,286.0 C1464.7,292.3 1468.3,292.3 1468.3,298.5  M1467.7,354.5 C1467.7,349.3 1463.4,349.3 1463.4,344.2 C1463.4,338.1 1467.4,338.1 1467.4,331.9 C1467.4,325.8 1463.6,325.8 1463.6,319.7 C1463.6,313.6 1467.2,313.6 1467.2,307.5  M1488.0,250.9 C1488.0,256.2 1483.7,256.2 1483.7,261.5 C1483.7,267.7 1487.7,267.7 1487.7,273.9 C1487.7,280.2 1483.9,280.2 1483.9,286.4 C1483.9,292.7 1487.5,292.7 1487.5,298.9  M1487.2,352.1 C1487.2,346.9 1482.9,346.9 1482.9,341.8 C1482.9,335.7 1486.9,335.7 1486.9,329.5 C1486.9,323.4 1483.1,323.4 1483.1,317.3 C1483.1,311.2 1486.7,311.2 1486.7,305.1  M1506.1,250.6 C1506.1,255.9 1501.8,255.9 1501.8,261.2 C1501.8,267.4 1505.8,267.4 1505.8,273.7 C1505.8,279.9 1502.0,279.9 1502.0,286.2 C1502.0,292.4 1505.6,292.4 1505.6,298.6  M1506.7,352.3 C1506.7,347.2 1502.4,347.2 1502.4,342.0 C1502.4,335.9 1506.4,335.9 1506.4,329.8 C1506.4,323.7 1502.6,323.7 1502.6,317.5 C1502.6,311.4 1506.2,311.4 1506.2,305.3  M1526.4,248.7 C1526.4,254.0 1522.1,254.0 1522.1,259.2 C1522.1,265.5 1526.1,265.5 1526.1,271.7 C1526.1,278.0 1522.3,278.0 1522.3,284.2 C1522.3,290.4 1525.9,290.4 1525.9,296.7  M1527.2,353.0 C1527.2,347.8 1522.9,347.8 1522.9,342.6 C1522.9,336.5 1526.9,336.5 1526.9,330.4 C1526.9,324.3 1523.1,324.3 1523.1,318.2 C1523.1,312.1 1526.7,312.1 1526.7,306.0  M1544.2,249.2 C1544.2,254.5 1539.9,254.5 1539.9,259.8 C1539.9,266.0 1543.9,266.0 1543.9,272.3 C1543.9,278.5 1540.1,278.5 1540.1,284.7 C1540.1,291.0 1543.7,291.0 1543.7,297.2  M1545.3,352.5 C1545.3,347.4 1541.0,347.4 1541.0,342.2 C1541.0,336.1 1545.0,336.1 1545.0,330.0 C1545.0,323.9 1541.2,323.9 1541.2,317.8 C1541.2,311.6 1544.8,311.6 1544.8,305.5  M1563.3,250.8 C1563.3,256.0 1559.0,256.0 1559.0,261.3 C1559.0,267.6 1563.0,267.6 1563.0,273.8 C1563.0,280.0 1559.2,280.0 1559.2,286.3 C1559.2,292.5 1562.8,292.5 1562.8,298.8  M1563.4,353.2 C1563.4,348.0 1559.1,348.0 1559.1,342.8 C1559.1,336.7 1563.1,336.7 1563.1,330.6 C1563.1,324.5 1559.3,324.5 1559.3,318.4 C1559.3,312.3 1562.9,312.3 1562.9,306.2  M1581.3,249.6 C1581.3,254.8 1577.0,254.8 1577.0,260.1 C1577.0,266.4 1581.0,266.4 1581.0,272.6 C1581.0,278.8 1577.2,278.8 1577.2,285.1 C1577.2,291.3 1580.8,291.3 1580.8,297.6  M1582.5,353.3 C1582.5,348.1 1578.2,348.1 1578.2,342.9 C1578.2,336.8 1582.2,336.8 1582.2,330.7 C1582.2,324.6 1578.4,324.6 1578.4,318.5 C1578.4,312.4 1582.0,312.4 1582.0,306.3  M1604.6,251.4 C1604.6,256.7 1600.3,256.7 1600.3,262.0 C1600.3,268.2 1604.3,268.2 1604.3,274.5 C1604.3,280.7 1600.5,280.7 1600.5,286.9 C1600.5,293.2 1604.1,293.2 1604.1,299.4  M1602.8,353.2 C1602.8,348.1 1598.5,348.1 1598.5,342.9 C1598.5,336.8 1602.5,336.8 1602.5,330.7 C1602.5,324.6 1598.7,324.6 1598.7,318.5 C1598.7,312.3 1602.3,312.3 1602.3,306.2  M1624.0,250.6 C1624.0,255.9 1619.7,255.9 1619.7,261.1 C1619.7,267.4 1623.7,267.4 1623.7,273.6 C1623.7,279.9 1619.9,279.9 1619.9,286.1 C1619.9,292.3 1623.5,292.3 1623.5,298.6  M1623.6,354.3 C1623.6,349.1 1619.3,349.1 1619.3,343.9 C1619.3,337.8 1623.3,337.8 1623.3,331.7 C1623.3,325.6 1619.5,325.6 1619.5,319.5 C1619.5,313.4 1623.1,313.4 1623.1,307.3  M1641.9,250.0 C1641.9,255.2 1637.6,255.2 1637.6,260.5 C1637.6,266.8 1641.6,266.8 1641.6,273.0 C1641.6,279.2 1637.8,279.2 1637.8,285.5 C1637.8,291.7 1641.4,291.7 1641.4,298.0  M1639.7,353.9 C1639.7,348.8 1635.4,348.8 1635.4,343.6 C1635.4,337.5 1639.4,337.5 1639.4,331.4 C1639.4,325.3 1635.6,325.3 1635.6,319.1 C1635.6,313.0 1639.2,313.0 1639.2,306.9  M1663.1,248.8 C1663.1,254.1 1658.8,254.1 1658.8,259.3 C1658.8,265.6 1662.8,265.6 1662.8,271.8 C1662.8,278.1 1659.0,278.1 1659.0,284.3 C1659.0,290.5 1662.6,290.5 1662.6,296.8  M1661.9,354.2 C1661.9,349.1 1657.6,349.1 1657.6,343.9 C1657.6,337.8 1661.6,337.8 1661.6,331.7 C1661.6,325.6 1657.8,325.6 1657.8,319.5 C1657.8,313.4 1661.4,313.4 1661.4,307.2  M1679.3,249.8 C1679.3,255.1 1675.0,255.1 1675.0,260.4 C1675.0,266.6 1679.0,266.6 1679.0,272.9 C1679.0,279.1 1675.2,279.1 1675.2,285.3 C1675.2,291.6 1678.8,291.6 1678.8,297.8  M1679.6,354.2 C1679.6,349.0 1675.3,349.0 1675.3,343.8 C1675.3,337.7 1679.3,337.7 1679.3,331.6 C1679.3,325.5 1675.5,325.5 1675.5,319.4 C1675.5,313.3 1679.1,313.3 1679.1,307.2  M1698.5,249.1 C1698.5,254.4 1694.2,254.4 1694.2,259.7 C1694.2,265.9 1698.2,265.9 1698.2,272.1 C1698.2,278.4 1694.4,278.4 1694.4,284.6 C1694.4,290.9 1698.0,290.9 1698.0,297.1  M1698.2,353.8 C1698.2,348.6 1693.9,348.6 1693.9,343.4 C1693.9,337.3 1697.9,337.3 1697.9,331.2 C1697.9,325.1 1694.1,325.1 1694.1,319.0 C1694.1,312.9 1697.7,312.9 1697.7,306.8  M1718.1,250.6 C1718.1,255.9 1713.8,255.9 1713.8,261.1 C1713.8,267.4 1717.8,267.4 1717.8,273.6 C1717.8,279.9 1714.0,279.9 1714.0,286.1 C1714.0,292.3 1717.6,292.3 1717.6,298.6  M1719.4,354.9 C1719.4,349.7 1715.1,349.7 1715.1,344.5 C1715.1,338.4 1719.1,338.4 1719.1,332.3 C1719.1,326.2 1715.3,326.2 1715.3,320.1 C1715.3,314.0 1718.9,314.0 1718.9,307.9  M1739.5,249.7 C1739.5,255.0 1735.2,255.0 1735.2,260.3 C1735.2,266.5 1739.2,266.5 1739.2,272.8 C1739.2,279.0 1735.4,279.0 1735.4,285.3 C1735.4,291.5 1739.0,291.5 1739.0,297.7  M1738.6,354.6 C1738.6,349.4 1734.3,349.4 1734.3,344.2 C1734.3,338.1 1738.3,338.1 1738.3,332.0 C1738.3,325.9 1734.5,325.9 1734.5,319.8 C1734.5,313.7 1738.1,313.7 1738.1,307.6  M1757.9,249.2 C1757.9,254.4 1753.6,254.4 1753.6,259.7 C1753.6,266.0 1757.6,266.0 1757.6,272.2 C1757.6,278.4 1753.8,278.4 1753.8,284.7 C1753.8,290.9 1757.4,290.9 1757.4,297.2  M1757.6,352.1 C1757.6,346.9 1753.3,346.9 1753.3,341.7 C1753.3,335.6 1757.3,335.6 1757.3,329.5 C1757.3,323.4 1753.5,323.4 1753.5,317.3 C1753.5,311.2 1757.1,311.2 1757.1,305.1 " fill="none" stroke="#e9e7f2" stroke-width="1.3"/><rect x="292.5" y="230.3" width="21" height="19" fill="#c3c9e8" opacity="0.6"/><rect x="311.3" y="231.0" width="21" height="19" fill="#c3c9e8" opacity="0.6"/><rect x="331.4" y="230.9" width="21" height="19" fill="#c3c9e8" opacity="0.6"/><rect x="350.3" y="232.5" width="21" height="19" fill="#c3c9e8" opacity="0.6"/><rect x="370.3" y="230.2" width="21" height="19" fill="#c3c9e8" opacity="0.6"/><rect x="389.7" y="233.3" width="21" height="19" fill="#c3c9e8" opacity="0.6"/><rect x="407.7" y="231.4" width="21" height="19" fill="#c3c9e8" opacity="0.6"/><rect x="427.0" y="231.9" width="21" height="19" fill="#c3c9e8" opacity="0.6"/><rect x="448.3" y="231.4" width="21" height="19" fill="#c3c9e8" opacity="0.6"/><rect x="466.3" y="232.7" width="21" height="19" fill="#c3c9e8" opacity="0.6"/><rect x="485.7" y="232.7" width="21" height="19" fill="#c3c9e8" opacity="0.6"/><rect x="506.9" y="231.7" width="21" height="19" fill="#c3c9e8" opacity="0.6"/><rect x="525.0" y="231.4" width="21" height="19" fill="#c3c9e8" opacity="0.6"/><rect x="545.2" y="232.3" width="21" height="19" fill="#c3c9e8" opacity="0.6"/><rect x="563.8" y="232.8" width="21" height="19" fill="#c3c9e8" opacity="0.6"/><rect x="583.5" y="231.1" width="21" height="19" fill="#c3c9e8" opacity="0.6"/><rect x="601.7" y="232.3" width="21" height="19" fill="#c3c9e8" opacity="0.6"/><rect x="622.3" y="233.2" width="21" height="19" fill="#c3c9e8" opacity="0.6"/><rect x="642.2" y="231.4" width="21" height="19" fill="#c3c9e8" opacity="0.6"/><rect x="660.8" y="230.5" width="21" height="19" fill="#c3c9e8" opacity="0.6"/><rect x="680.7" y="230.5" width="21" height="19" fill="#c3c9e8" opacity="0.6"/><rect x="699.9" y="232.3" width="21" height="19" fill="#c3c9e8" opacity="0.6"/><rect x="717.8" y="232.1" width="21" height="19" fill="#c3c9e8" opacity="0.6"/><rect x="738.9" y="233.2" width="21" height="19" fill="#c3c9e8" opacity="0.6"/><rect x="757.8" y="232.8" width="21" height="19" fill="#c3c9e8" opacity="0.6"/><rect x="776.5" y="230.6" width="21" height="19" fill="#c3c9e8" opacity="0.6"/><rect x="795.3" y="230.4" width="21" height="19" fill="#c3c9e8" opacity="0.6"/><rect x="816.6" y="230.6" width="21" height="19" fill="#c3c9e8" opacity="0.6"/><rect x="835.1" y="230.4" width="21" height="19" fill="#c3c9e8" opacity="0.6"/><rect x="855.0" y="232.2" width="21" height="19" fill="#c3c9e8" opacity="0.6"/><rect x="874.8" y="232.8" width="21" height="19" fill="#c3c9e8" opacity="0.6"/><rect x="893.8" y="232.9" width="21" height="19" fill="#c3c9e8" opacity="0.6"/><rect x="913.7" y="230.6" width="21" height="19" fill="#c3c9e8" opacity="0.6"/><rect x="931.8" y="232.8" width="21" height="19" fill="#c3c9e8" opacity="0.6"/><rect x="952.1" y="230.8" width="21" height="19" fill="#c3c9e8" opacity="0.6"/><rect x="970.7" y="231.2" width="21" height="19" fill="#c3c9e8" opacity="0.6"/><rect x="991.2" y="232.3" width="21" height="19" fill="#c3c9e8" opacity="0.6"/><rect x="1010.5" y="230.0" width="21" height="19" fill="#c3c9e8" opacity="0.6"/><rect x="1028.0" y="230.0" width="21" height="19" fill="#c3c9e8" opacity="0.6"/><rect x="1047.4" y="232.7" width="21" height="19" fill="#c3c9e8" opacity="0.6"/><rect x="1067.0" y="230.8" width="21" height="19" fill="#c3c9e8" opacity="0.6"/><rect x="1088.2" y="231.0" width="21" height="19" fill="#c3c9e8" opacity="0.6"/><rect x="1106.3" y="231.8" width="21" height="19" fill="#c3c9e8" opacity="0.6"/><rect x="1126.1" y="232.1" width="21" height="19" fill="#c3c9e8" opacity="0.6"/><rect x="1144.7" y="229.7" width="21" height="19" fill="#c3c9e8" opacity="0.6"/><rect x="1164.6" y="230.9" width="21" height="19" fill="#c3c9e8" opacity="0.6"/><rect x="1183.7" y="231.3" width="21" height="19" fill="#c3c9e8" opacity="0.6"/><rect x="1203.0" y="231.4" width="21" height="19" fill="#c3c9e8" opacity="0.6"/><rect x="1222.9" y="230.5" width="21" height="19" fill="#c3c9e8" opacity="0.6"/><rect x="1242.3" y="231.8" width="21" height="19" fill="#c3c9e8" opacity="0.6"/><rect x="1262.5" y="233.1" width="21" height="19" fill="#c3c9e8" opacity="0.6"/><rect x="1281.3" y="231.1" width="21" height="19" fill="#c3c9e8" opacity="0.6"/><rect x="1301.3" y="231.7" width="21" height="19" fill="#c3c9e8" opacity="0.6"/><rect x="1320.5" y="230.1" width="21" height="19" fill="#c3c9e8" opacity="0.6"/><rect x="1340.2" y="230.7" width="21" height="19" fill="#c3c9e8" opacity="0.6"/><rect x="1358.8" y="232.1" width="21" height="19" fill="#c3c9e8" opacity="0.6"/><rect x="1377.0" y="230.1" width="21" height="19" fill="#c3c9e8" opacity="0.6"/><rect x="1398.0" y="232.9" width="21" height="19" fill="#c3c9e8" opacity="0.6"/><rect x="1417.7" y="233.0" width="21" height="19" fill="#c3c9e8" opacity="0.6"/><rect x="1436.9" y="230.0" width="21" height="19" fill="#c3c9e8" opacity="0.6"/><rect x="1455.5" y="233.1" width="21" height="19" fill="#c3c9e8" opacity="0.6"/><rect x="1475.2" y="231.0" width="21" height="19" fill="#c3c9e8" opacity="0.6"/><rect x="1493.4" y="232.5" width="21" height="19" fill="#c3c9e8" opacity="0.6"/><rect x="1514.2" y="232.4" width="21" height="19" fill="#c3c9e8" opacity="0.6"/><rect x="1533.0" y="230.8" width="21" height="19" fill="#c3c9e8" opacity="0.6"/><rect x="1551.7" y="232.1" width="21" height="19" fill="#c3c9e8" opacity="0.6"/><rect x="1570.5" y="232.1" width="21" height="19" fill="#c3c9e8" opacity="0.6"/><rect x="1591.8" y="232.6" width="21" height="19" fill="#c3c9e8" opacity="0.6"/><rect x="1611.5" y="230.7" width="21" height="19" fill="#c3c9e8" opacity="0.6"/><rect x="1628.7" y="232.4" width="21" height="19" fill="#c3c9e8" opacity="0.6"/><rect x="1649.8" y="233.2" width="21" height="19" fill="#c3c9e8" opacity="0.6"/><rect x="1668.3" y="232.1" width="21" height="19" fill="#c3c9e8" opacity="0.6"/><rect x="1687.0" y="231.6" width="21" height="19" fill="#c3c9e8" opacity="0.6"/><rect x="1706.7" y="230.1" width="21" height="19" fill="#c3c9e8" opacity="0.6"/><rect x="1727.3" y="231.5" width="21" height="19" fill="#c3c9e8" opacity="0.6"/><rect x="1746.0" y="231.0" width="21" height="19" fill="#c3c9e8" opacity="0.6"/><ellipse cx="303.0" cy="239.8" rx="10.4" ry="9.8" fill="url(#g1)" stroke="#231815" stroke-width="1.8"/><ellipse cx="321.8" cy="240.5" rx="10.4" ry="9.8" fill="url(#g1)" stroke="#231815" stroke-width="1.8"/><ellipse cx="341.9" cy="240.4" rx="10.4" ry="9.8" fill="url(#g1)" stroke="#231815" stroke-width="1.8"/><ellipse cx="360.8" cy="242.0" rx="10.4" ry="9.8" fill="url(#g1)" stroke="#231815" stroke-width="1.8"/><ellipse cx="380.8" cy="239.7" rx="10.4" ry="9.8" fill="url(#g1)" stroke="#231815" stroke-width="1.8"/><ellipse cx="400.2" cy="242.8" rx="10.4" ry="9.8" fill="url(#g1)" stroke="#231815" stroke-width="1.8"/><ellipse cx="418.2" cy="240.9" rx="10.4" ry="9.8" fill="url(#g1)" stroke="#231815" stroke-width="1.8"/><ellipse cx="437.5" cy="241.4" rx="10.4" ry="9.8" fill="url(#g1)" stroke="#231815" stroke-width="1.8"/><ellipse cx="458.8" cy="240.9" rx="10.4" ry="9.8" fill="url(#g1)" stroke="#231815" stroke-width="1.8"/><ellipse cx="476.8" cy="242.2" rx="10.4" ry="9.8" fill="url(#g1)" stroke="#231815" stroke-width="1.8"/><ellipse cx="496.2" cy="242.2" rx="10.4" ry="9.8" fill="url(#g1)" stroke="#231815" stroke-width="1.8"/><ellipse cx="517.4" cy="241.2" rx="10.4" ry="9.8" fill="url(#g1)" stroke="#231815" stroke-width="1.8"/><ellipse cx="535.5" cy="240.9" rx="10.4" ry="9.8" fill="url(#g1)" stroke="#231815" stroke-width="1.8"/><ellipse cx="555.7" cy="241.8" rx="10.4" ry="9.8" fill="url(#g1)" stroke="#231815" stroke-width="1.8"/><ellipse cx="574.3" cy="242.3" rx="10.4" ry="9.8" fill="url(#g1)" stroke="#231815" stroke-width="1.8"/><ellipse cx="594.0" cy="240.6" rx="10.4" ry="9.8" fill="url(#g1)" stroke="#231815" stroke-width="1.8"/><ellipse cx="612.2" cy="241.8" rx="10.4" ry="9.8" fill="url(#g1)" stroke="#231815" stroke-width="1.8"/><ellipse cx="632.8" cy="242.7" rx="10.4" ry="9.8" fill="url(#g1)" stroke="#231815" stroke-width="1.8"/><ellipse cx="652.7" cy="240.9" rx="10.4" ry="9.8" fill="url(#g1)" stroke="#231815" stroke-width="1.8"/><ellipse cx="671.3" cy="240.0" rx="10.4" ry="9.8" fill="url(#g1)" stroke="#231815" stroke-width="1.8"/><ellipse cx="691.2" cy="240.0" rx="10.4" ry="9.8" fill="url(#g1)" stroke="#231815" stroke-width="1.8"/><ellipse cx="710.4" cy="241.8" rx="10.4" ry="9.8" fill="url(#g1)" stroke="#231815" stroke-width="1.8"/><ellipse cx="728.3" cy="241.6" rx="10.4" ry="9.8" fill="url(#g1)" stroke="#231815" stroke-width="1.8"/><ellipse cx="749.4" cy="242.7" rx="10.4" ry="9.8" fill="url(#g1)" stroke="#231815" stroke-width="1.8"/><ellipse cx="768.3" cy="242.3" rx="10.4" ry="9.8" fill="url(#g1)" stroke="#231815" stroke-width="1.8"/><ellipse cx="787.0" cy="240.1" rx="10.4" ry="9.8" fill="url(#g1)" stroke="#231815" stroke-width="1.8"/><ellipse cx="805.8" cy="239.9" rx="10.4" ry="9.8" fill="url(#g1)" stroke="#231815" stroke-width="1.8"/><ellipse cx="827.1" cy="240.1" rx="10.4" ry="9.8" fill="url(#g1)" stroke="#231815" stroke-width="1.8"/><ellipse cx="845.6" cy="239.9" rx="10.4" ry="9.8" fill="url(#g1)" stroke="#231815" stroke-width="1.8"/><ellipse cx="865.5" cy="241.7" rx="10.4" ry="9.8" fill="url(#g1)" stroke="#231815" stroke-width="1.8"/><ellipse cx="885.3" cy="242.3" rx="10.4" ry="9.8" fill="url(#g1)" stroke="#231815" stroke-width="1.8"/><ellipse cx="904.3" cy="242.4" rx="10.4" ry="9.8" fill="url(#g1)" stroke="#231815" stroke-width="1.8"/><ellipse cx="924.2" cy="240.1" rx="10.4" ry="9.8" fill="url(#g1)" stroke="#231815" stroke-width="1.8"/><ellipse cx="942.3" cy="242.3" rx="10.4" ry="9.8" fill="url(#g1)" stroke="#231815" stroke-width="1.8"/><ellipse cx="962.6" cy="240.3" rx="10.4" ry="9.8" fill="url(#g1)" stroke="#231815" stroke-width="1.8"/><ellipse cx="981.2" cy="240.7" rx="10.4" ry="9.8" fill="url(#g1)" stroke="#231815" stroke-width="1.8"/><ellipse cx="1001.7" cy="241.8" rx="10.4" ry="9.8" fill="url(#g1)" stroke="#231815" stroke-width="1.8"/><ellipse cx="1021.0" cy="239.5" rx="10.4" ry="9.8" fill="url(#g1)" stroke="#231815" stroke-width="1.8"/><ellipse cx="1038.5" cy="239.5" rx="10.4" ry="9.8" fill="url(#g1)" stroke="#231815" stroke-width="1.8"/><ellipse cx="1057.9" cy="242.2" rx="10.4" ry="9.8" fill="url(#g1)" stroke="#231815" stroke-width="1.8"/><ellipse cx="1077.5" cy="240.3" rx="10.4" ry="9.8" fill="url(#g1)" stroke="#231815" stroke-width="1.8"/><ellipse cx="1098.7" cy="240.5" rx="10.4" ry="9.8" fill="url(#g1)" stroke="#231815" stroke-width="1.8"/><ellipse cx="1116.8" cy="241.3" rx="10.4" ry="9.8" fill="url(#g1)" stroke="#231815" stroke-width="1.8"/><ellipse cx="1136.6" cy="241.6" rx="10.4" ry="9.8" fill="url(#g1)" stroke="#231815" stroke-width="1.8"/><ellipse cx="1155.2" cy="239.2" rx="10.4" ry="9.8" fill="url(#g1)" stroke="#231815" stroke-width="1.8"/><ellipse cx="1175.1" cy="240.4" rx="10.4" ry="9.8" fill="url(#g1)" stroke="#231815" stroke-width="1.8"/><ellipse cx="1194.2" cy="240.8" rx="10.4" ry="9.8" fill="url(#g1)" stroke="#231815" stroke-width="1.8"/><ellipse cx="1213.5" cy="240.9" rx="10.4" ry="9.8" fill="url(#g1)" stroke="#231815" stroke-width="1.8"/><ellipse cx="1233.4" cy="240.0" rx="10.4" ry="9.8" fill="url(#g1)" stroke="#231815" stroke-width="1.8"/><ellipse cx="1252.8" cy="241.3" rx="10.4" ry="9.8" fill="url(#g1)" stroke="#231815" stroke-width="1.8"/><ellipse cx="1273.0" cy="242.6" rx="10.4" ry="9.8" fill="url(#g1)" stroke="#231815" stroke-width="1.8"/><ellipse cx="1291.8" cy="240.6" rx="10.4" ry="9.8" fill="url(#g1)" stroke="#231815" stroke-width="1.8"/><ellipse cx="1311.8" cy="241.2" rx="10.4" ry="9.8" fill="url(#g1)" stroke="#231815" stroke-width="1.8"/><ellipse cx="1331.0" cy="239.6" rx="10.4" ry="9.8" fill="url(#g1)" stroke="#231815" stroke-width="1.8"/><ellipse cx="1350.7" cy="240.2" rx="10.4" ry="9.8" fill="url(#g1)" stroke="#231815" stroke-width="1.8"/><ellipse cx="1369.3" cy="241.6" rx="10.4" ry="9.8" fill="url(#g1)" stroke="#231815" stroke-width="1.8"/><ellipse cx="1387.5" cy="239.6" rx="10.4" ry="9.8" fill="url(#g1)" stroke="#231815" stroke-width="1.8"/><ellipse cx="1408.5" cy="242.4" rx="10.4" ry="9.8" fill="url(#g1)" stroke="#231815" stroke-width="1.8"/><ellipse cx="1428.2" cy="242.5" rx="10.4" ry="9.8" fill="url(#g1)" stroke="#231815" stroke-width="1.8"/><ellipse cx="1447.4" cy="239.5" rx="10.4" ry="9.8" fill="url(#g1)" stroke="#231815" stroke-width="1.8"/><ellipse cx="1466.0" cy="242.6" rx="10.4" ry="9.8" fill="url(#g1)" stroke="#231815" stroke-width="1.8"/><ellipse cx="1485.7" cy="240.5" rx="10.4" ry="9.8" fill="url(#g1)" stroke="#231815" stroke-width="1.8"/><ellipse cx="1503.9" cy="242.0" rx="10.4" ry="9.8" fill="url(#g1)" stroke="#231815" stroke-width="1.8"/><ellipse cx="1524.7" cy="241.9" rx="10.4" ry="9.8" fill="url(#g1)" stroke="#231815" stroke-width="1.8"/><ellipse cx="1543.5" cy="240.3" rx="10.4" ry="9.8" fill="url(#g1)" stroke="#231815" stroke-width="1.8"/><ellipse cx="1562.2" cy="241.6" rx="10.4" ry="9.8" fill="url(#g1)" stroke="#231815" stroke-width="1.8"/><ellipse cx="1581.0" cy="241.6" rx="10.4" ry="9.8" fill="url(#g1)" stroke="#231815" stroke-width="1.8"/><ellipse cx="1602.3" cy="242.1" rx="10.4" ry="9.8" fill="url(#g1)" stroke="#231815" stroke-width="1.8"/><ellipse cx="1622.0" cy="240.2" rx="10.4" ry="9.8" fill="url(#g1)" stroke="#231815" stroke-width="1.8"/><ellipse cx="1639.2" cy="241.9" rx="10.4" ry="9.8" fill="url(#g1)" stroke="#231815" stroke-width="1.8"/><ellipse cx="1660.3" cy="242.7" rx="10.4" ry="9.8" fill="url(#g1)" stroke="#231815" stroke-width="1.8"/><ellipse cx="1678.8" cy="241.6" rx="10.4" ry="9.8" fill="url(#g1)" stroke="#231815" stroke-width="1.8"/><ellipse cx="1697.5" cy="241.1" rx="10.4" ry="9.8" fill="url(#g1)" stroke="#231815" stroke-width="1.8"/><ellipse cx="1717.2" cy="239.6" rx="10.4" ry="9.8" fill="url(#g1)" stroke="#231815" stroke-width="1.8"/><ellipse cx="1737.8" cy="241.0" rx="10.4" ry="9.8" fill="url(#g1)" stroke="#231815" stroke-width="1.8"/><ellipse cx="1756.5" cy="240.5" rx="10.4" ry="9.8" fill="url(#g1)" stroke="#231815" stroke-width="1.8"/><rect x="292.5" y="353.8" width="21" height="19" fill="#c3c9e8" opacity="0.6"/><rect x="311.3" y="353.6" width="21" height="19" fill="#c3c9e8" opacity="0.6"/><rect x="331.4" y="353.2" width="21" height="19" fill="#c3c9e8" opacity="0.6"/><rect x="350.3" y="351.9" width="21" height="19" fill="#c3c9e8" opacity="0.6"/><rect x="370.3" y="353.5" width="21" height="19" fill="#c3c9e8" opacity="0.6"/><rect x="389.7" y="353.5" width="21" height="19" fill="#c3c9e8" opacity="0.6"/><rect x="407.7" y="351.8" width="21" height="19" fill="#c3c9e8" opacity="0.6"/><rect x="427.0" y="354.4" width="21" height="19" fill="#c3c9e8" opacity="0.6"/><rect x="448.3" y="353.6" width="21" height="19" fill="#c3c9e8" opacity="0.6"/><rect x="466.3" y="351.6" width="21" height="19" fill="#c3c9e8" opacity="0.6"/><rect x="485.7" y="354.6" width="21" height="19" fill="#c3c9e8" opacity="0.6"/><rect x="506.9" y="351.7" width="21" height="19" fill="#c3c9e8" opacity="0.6"/><rect x="525.0" y="352.4" width="21" height="19" fill="#c3c9e8" opacity="0.6"/><rect x="545.2" y="353.8" width="21" height="19" fill="#c3c9e8" opacity="0.6"/><rect x="563.8" y="353.4" width="21" height="19" fill="#c3c9e8" opacity="0.6"/><rect x="583.5" y="353.2" width="21" height="19" fill="#c3c9e8" opacity="0.6"/><rect x="601.7" y="353.5" width="21" height="19" fill="#c3c9e8" opacity="0.6"/><rect x="622.3" y="352.8" width="21" height="19" fill="#c3c9e8" opacity="0.6"/><rect x="642.2" y="352.3" width="21" height="19" fill="#c3c9e8" opacity="0.6"/><rect x="660.8" y="351.8" width="21" height="19" fill="#c3c9e8" opacity="0.6"/><rect x="680.7" y="351.4" width="21" height="19" fill="#c3c9e8" opacity="0.6"/><rect x="699.9" y="353.8" width="21" height="19" fill="#c3c9e8" opacity="0.6"/><rect x="717.8" y="353.9" width="21" height="19" fill="#c3c9e8" opacity="0.6"/><rect x="738.9" y="353.2" width="21" height="19" fill="#c3c9e8" opacity="0.6"/><rect x="757.8" y="353.9" width="21" height="19" fill="#c3c9e8" opacity="0.6"/><rect x="776.5" y="352.5" width="21" height="19" fill="#c3c9e8" opacity="0.6"/><rect x="795.3" y="352.2" width="21" height="19" fill="#c3c9e8" opacity="0.6"/><rect x="816.6" y="352.6" width="21" height="19" fill="#c3c9e8" opacity="0.6"/><rect x="835.1" y="354.3" width="21" height="19" fill="#c3c9e8" opacity="0.6"/><rect x="855.0" y="351.4" width="21" height="19" fill="#c3c9e8" opacity="0.6"/><rect x="874.8" y="353.0" width="21" height="19" fill="#c3c9e8" opacity="0.6"/><rect x="893.8" y="352.1" width="21" height="19" fill="#c3c9e8" opacity="0.6"/><rect x="913.7" y="354.0" width="21" height="19" fill="#c3c9e8" opacity="0.6"/><rect x="931.8" y="352.5" width="21" height="19" fill="#c3c9e8" opacity="0.6"/><rect x="952.1" y="352.4" width="21" height="19" fill="#c3c9e8" opacity="0.6"/><rect x="970.7" y="352.7" width="21" height="19" fill="#c3c9e8" opacity="0.6"/><rect x="991.2" y="353.1" width="21" height="19" fill="#c3c9e8" opacity="0.6"/><rect x="1010.5" y="354.0" width="21" height="19" fill="#c3c9e8" opacity="0.6"/><rect x="1028.0" y="352.5" width="21" height="19" fill="#c3c9e8" opacity="0.6"/><rect x="1047.4" y="354.2" width="21" height="19" fill="#c3c9e8" opacity="0.6"/><rect x="1067.0" y="351.6" width="21" height="19" fill="#c3c9e8" opacity="0.6"/><rect x="1088.2" y="352.2" width="21" height="19" fill="#c3c9e8" opacity="0.6"/><rect x="1106.3" y="351.6" width="21" height="19" fill="#c3c9e8" opacity="0.6"/><rect x="1126.1" y="351.6" width="21" height="19" fill="#c3c9e8" opacity="0.6"/><rect x="1144.7" y="354.0" width="21" height="19" fill="#c3c9e8" opacity="0.6"/><rect x="1164.6" y="353.8" width="21" height="19" fill="#c3c9e8" opacity="0.6"/><rect x="1183.7" y="351.9" width="21" height="19" fill="#c3c9e8" opacity="0.6"/><rect x="1203.0" y="351.9" width="21" height="19" fill="#c3c9e8" opacity="0.6"/><rect x="1222.9" y="352.7" width="21" height="19" fill="#c3c9e8" opacity="0.6"/><rect x="1242.3" y="353.9" width="21" height="19" fill="#c3c9e8" opacity="0.6"/><rect x="1262.5" y="354.1" width="21" height="19" fill="#c3c9e8" opacity="0.6"/><rect x="1281.3" y="353.9" width="21" height="19" fill="#c3c9e8" opacity="0.6"/><rect x="1301.3" y="353.3" width="21" height="19" fill="#c3c9e8" opacity="0.6"/><rect x="1320.5" y="351.7" width="21" height="19" fill="#c3c9e8" opacity="0.6"/><rect x="1340.2" y="352.6" width="21" height="19" fill="#c3c9e8" opacity="0.6"/><rect x="1358.8" y="351.9" width="21" height="19" fill="#c3c9e8" opacity="0.6"/><rect x="1377.0" y="353.1" width="21" height="19" fill="#c3c9e8" opacity="0.6"/><rect x="1398.0" y="353.2" width="21" height="19" fill="#c3c9e8" opacity="0.6"/><rect x="1417.7" y="351.9" width="21" height="19" fill="#c3c9e8" opacity="0.6"/><rect x="1436.9" y="352.1" width="21" height="19" fill="#c3c9e8" opacity="0.6"/><rect x="1455.5" y="354.0" width="21" height="19" fill="#c3c9e8" opacity="0.6"/><rect x="1475.2" y="351.3" width="21" height="19" fill="#c3c9e8" opacity="0.6"/><rect x="1493.4" y="354.1" width="21" height="19" fill="#c3c9e8" opacity="0.6"/><rect x="1514.2" y="354.4" width="21" height="19" fill="#c3c9e8" opacity="0.6"/><rect x="1533.0" y="354.6" width="21" height="19" fill="#c3c9e8" opacity="0.6"/><rect x="1551.7" y="352.6" width="21" height="19" fill="#c3c9e8" opacity="0.6"/><rect x="1570.5" y="353.2" width="21" height="19" fill="#c3c9e8" opacity="0.6"/><rect x="1591.8" y="353.3" width="21" height="19" fill="#c3c9e8" opacity="0.6"/><rect x="1611.5" y="353.5" width="21" height="19" fill="#c3c9e8" opacity="0.6"/><rect x="1628.7" y="354.7" width="21" height="19" fill="#c3c9e8" opacity="0.6"/><rect x="1649.8" y="353.7" width="21" height="19" fill="#c3c9e8" opacity="0.6"/><rect x="1668.3" y="352.3" width="21" height="19" fill="#c3c9e8" opacity="0.6"/><rect x="1687.0" y="354.3" width="21" height="19" fill="#c3c9e8" opacity="0.6"/><rect x="1706.7" y="352.9" width="21" height="19" fill="#c3c9e8" opacity="0.6"/><rect x="1727.3" y="353.4" width="21" height="19" fill="#c3c9e8" opacity="0.6"/><rect x="1746.0" y="353.8" width="21" height="19" fill="#c3c9e8" opacity="0.6"/><ellipse cx="303.0" cy="363.3" rx="10.4" ry="9.8" fill="url(#g1)" stroke="#231815" stroke-width="1.8"/><ellipse cx="321.8" cy="363.1" rx="10.4" ry="9.8" fill="url(#g1)" stroke="#231815" stroke-width="1.8"/><ellipse cx="341.9" cy="362.7" rx="10.4" ry="9.8" fill="url(#g1)" stroke="#231815" stroke-width="1.8"/><ellipse cx="360.8" cy="361.4" rx="10.4" ry="9.8" fill="url(#g1)" stroke="#231815" stroke-width="1.8"/><ellipse cx="380.8" cy="363.0" rx="10.4" ry="9.8" fill="url(#g1)" stroke="#231815" stroke-width="1.8"/><ellipse cx="400.2" cy="363.0" rx="10.4" ry="9.8" fill="url(#g1)" stroke="#231815" stroke-width="1.8"/><ellipse cx="418.2" cy="361.3" rx="10.4" ry="9.8" fill="url(#g1)" stroke="#231815" stroke-width="1.8"/><ellipse cx="437.5" cy="363.9" rx="10.4" ry="9.8" fill="url(#g1)" stroke="#231815" stroke-width="1.8"/><ellipse cx="458.8" cy="363.1" rx="10.4" ry="9.8" fill="url(#g1)" stroke="#231815" stroke-width="1.8"/><ellipse cx="476.8" cy="361.1" rx="10.4" ry="9.8" fill="url(#g1)" stroke="#231815" stroke-width="1.8"/><ellipse cx="496.2" cy="364.1" rx="10.4" ry="9.8" fill="url(#g1)" stroke="#231815" stroke-width="1.8"/><ellipse cx="517.4" cy="361.2" rx="10.4" ry="9.8" fill="url(#g1)" stroke="#231815" stroke-width="1.8"/><ellipse cx="535.5" cy="361.9" rx="10.4" ry="9.8" fill="url(#g1)" stroke="#231815" stroke-width="1.8"/><ellipse cx="555.7" cy="363.3" rx="10.4" ry="9.8" fill="url(#g1)" stroke="#231815" stroke-width="1.8"/><ellipse cx="574.3" cy="362.9" rx="10.4" ry="9.8" fill="url(#g1)" stroke="#231815" stroke-width="1.8"/><ellipse cx="594.0" cy="362.7" rx="10.4" ry="9.8" fill="url(#g1)" stroke="#231815" stroke-width="1.8"/><ellipse cx="612.2" cy="363.0" rx="10.4" ry="9.8" fill="url(#g1)" stroke="#231815" stroke-width="1.8"/><ellipse cx="632.8" cy="362.3" rx="10.4" ry="9.8" fill="url(#g1)" stroke="#231815" stroke-width="1.8"/><ellipse cx="652.7" cy="361.8" rx="10.4" ry="9.8" fill="url(#g1)" stroke="#231815" stroke-width="1.8"/><ellipse cx="671.3" cy="361.3" rx="10.4" ry="9.8" fill="url(#g1)" stroke="#231815" stroke-width="1.8"/><ellipse cx="691.2" cy="360.9" rx="10.4" ry="9.8" fill="url(#g1)" stroke="#231815" stroke-width="1.8"/><ellipse cx="710.4" cy="363.3" rx="10.4" ry="9.8" fill="url(#g1)" stroke="#231815" stroke-width="1.8"/><ellipse cx="728.3" cy="363.4" rx="10.4" ry="9.8" fill="url(#g1)" stroke="#231815" stroke-width="1.8"/><ellipse cx="749.4" cy="362.7" rx="10.4" ry="9.8" fill="url(#g1)" stroke="#231815" stroke-width="1.8"/><ellipse cx="768.3" cy="363.4" rx="10.4" ry="9.8" fill="url(#g1)" stroke="#231815" stroke-width="1.8"/><ellipse cx="787.0" cy="362.0" rx="10.4" ry="9.8" fill="url(#g1)" stroke="#231815" stroke-width="1.8"/><ellipse cx="805.8" cy="361.7" rx="10.4" ry="9.8" fill="url(#g1)" stroke="#231815" stroke-width="1.8"/><ellipse cx="827.1" cy="362.1" rx="10.4" ry="9.8" fill="url(#g1)" stroke="#231815" stroke-width="1.8"/><ellipse cx="845.6" cy="363.8" rx="10.4" ry="9.8" fill="url(#g1)" stroke="#231815" stroke-width="1.8"/><ellipse cx="865.5" cy="360.9" rx="10.4" ry="9.8" fill="url(#g1)" stroke="#231815" stroke-width="1.8"/><ellipse cx="885.3" cy="362.5" rx="10.4" ry="9.8" fill="url(#g1)" stroke="#231815" stroke-width="1.8"/><ellipse cx="904.3" cy="361.6" rx="10.4" ry="9.8" fill="url(#g1)" stroke="#231815" stroke-width="1.8"/><ellipse cx="924.2" cy="363.5" rx="10.4" ry="9.8" fill="url(#g1)" stroke="#231815" stroke-width="1.8"/><ellipse cx="942.3" cy="362.0" rx="10.4" ry="9.8" fill="url(#g1)" stroke="#231815" stroke-width="1.8"/><ellipse cx="962.6" cy="361.9" rx="10.4" ry="9.8" fill="url(#g1)" stroke="#231815" stroke-width="1.8"/><ellipse cx="981.2" cy="362.2" rx="10.4" ry="9.8" fill="url(#g1)" stroke="#231815" stroke-width="1.8"/><ellipse cx="1001.7" cy="362.6" rx="10.4" ry="9.8" fill="url(#g1)" stroke="#231815" stroke-width="1.8"/><ellipse cx="1021.0" cy="363.5" rx="10.4" ry="9.8" fill="url(#g1)" stroke="#231815" stroke-width="1.8"/><ellipse cx="1038.5" cy="362.0" rx="10.4" ry="9.8" fill="url(#g1)" stroke="#231815" stroke-width="1.8"/><ellipse cx="1057.9" cy="363.7" rx="10.4" ry="9.8" fill="url(#g1)" stroke="#231815" stroke-width="1.8"/><ellipse cx="1077.5" cy="361.1" rx="10.4" ry="9.8" fill="url(#g1)" stroke="#231815" stroke-width="1.8"/><ellipse cx="1098.7" cy="361.7" rx="10.4" ry="9.8" fill="url(#g1)" stroke="#231815" stroke-width="1.8"/><ellipse cx="1116.8" cy="361.1" rx="10.4" ry="9.8" fill="url(#g1)" stroke="#231815" stroke-width="1.8"/><ellipse cx="1136.6" cy="361.1" rx="10.4" ry="9.8" fill="url(#g1)" stroke="#231815" stroke-width="1.8"/><ellipse cx="1155.2" cy="363.5" rx="10.4" ry="9.8" fill="url(#g1)" stroke="#231815" stroke-width="1.8"/><ellipse cx="1175.1" cy="363.3" rx="10.4" ry="9.8" fill="url(#g1)" stroke="#231815" stroke-width="1.8"/><ellipse cx="1194.2" cy="361.4" rx="10.4" ry="9.8" fill="url(#g1)" stroke="#231815" stroke-width="1.8"/><ellipse cx="1213.5" cy="361.4" rx="10.4" ry="9.8" fill="url(#g1)" stroke="#231815" stroke-width="1.8"/><ellipse cx="1233.4" cy="362.2" rx="10.4" ry="9.8" fill="url(#g1)" stroke="#231815" stroke-width="1.8"/><ellipse cx="1252.8" cy="363.4" rx="10.4" ry="9.8" fill="url(#g1)" stroke="#231815" stroke-width="1.8"/><ellipse cx="1273.0" cy="363.6" rx="10.4" ry="9.8" fill="url(#g1)" stroke="#231815" stroke-width="1.8"/><ellipse cx="1291.8" cy="363.4" rx="10.4" ry="9.8" fill="url(#g1)" stroke="#231815" stroke-width="1.8"/><ellipse cx="1311.8" cy="362.8" rx="10.4" ry="9.8" fill="url(#g1)" stroke="#231815" stroke-width="1.8"/><ellipse cx="1331.0" cy="361.2" rx="10.4" ry="9.8" fill="url(#g1)" stroke="#231815" stroke-width="1.8"/><ellipse cx="1350.7" cy="362.1" rx="10.4" ry="9.8" fill="url(#g1)" stroke="#231815" stroke-width="1.8"/><ellipse cx="1369.3" cy="361.4" rx="10.4" ry="9.8" fill="url(#g1)" stroke="#231815" stroke-width="1.8"/><ellipse cx="1387.5" cy="362.6" rx="10.4" ry="9.8" fill="url(#g1)" stroke="#231815" stroke-width="1.8"/><ellipse cx="1408.5" cy="362.7" rx="10.4" ry="9.8" fill="url(#g1)" stroke="#231815" stroke-width="1.8"/><ellipse cx="1428.2" cy="361.4" rx="10.4" ry="9.8" fill="url(#g1)" stroke="#231815" stroke-width="1.8"/><ellipse cx="1447.4" cy="361.6" rx="10.4" ry="9.8" fill="url(#g1)" stroke="#231815" stroke-width="1.8"/><ellipse cx="1466.0" cy="363.5" rx="10.4" ry="9.8" fill="url(#g1)" stroke="#231815" stroke-width="1.8"/><ellipse cx="1485.7" cy="360.8" rx="10.4" ry="9.8" fill="url(#g1)" stroke="#231815" stroke-width="1.8"/><ellipse cx="1503.9" cy="363.6" rx="10.4" ry="9.8" fill="url(#g1)" stroke="#231815" stroke-width="1.8"/><ellipse cx="1524.7" cy="363.9" rx="10.4" ry="9.8" fill="url(#g1)" stroke="#231815" stroke-width="1.8"/><ellipse cx="1543.5" cy="364.1" rx="10.4" ry="9.8" fill="url(#g1)" stroke="#231815" stroke-width="1.8"/><ellipse cx="1562.2" cy="362.1" rx="10.4" ry="9.8" fill="url(#g1)" stroke="#231815" stroke-width="1.8"/><ellipse cx="1581.0" cy="362.7" rx="10.4" ry="9.8" fill="url(#g1)" stroke="#231815" stroke-width="1.8"/><ellipse cx="1602.3" cy="362.8" rx="10.4" ry="9.8" fill="url(#g1)" stroke="#231815" stroke-width="1.8"/><ellipse cx="1622.0" cy="363.0" rx="10.4" ry="9.8" fill="url(#g1)" stroke="#231815" stroke-width="1.8"/><ellipse cx="1639.2" cy="364.2" rx="10.4" ry="9.8" fill="url(#g1)" stroke="#231815" stroke-width="1.8"/><ellipse cx="1660.3" cy="363.2" rx="10.4" ry="9.8" fill="url(#g1)" stroke="#231815" stroke-width="1.8"/><ellipse cx="1678.8" cy="361.8" rx="10.4" ry="9.8" fill="url(#g1)" stroke="#231815" stroke-width="1.8"/><ellipse cx="1697.5" cy="363.8" rx="10.4" ry="9.8" fill="url(#g1)" stroke="#231815" stroke-width="1.8"/><ellipse cx="1717.2" cy="362.4" rx="10.4" ry="9.8" fill="url(#g1)" stroke="#231815" stroke-width="1.8"/><ellipse cx="1737.8" cy="362.9" rx="10.4" ry="9.8" fill="url(#g1)" stroke="#231815" stroke-width="1.8"/><ellipse cx="1756.5" cy="363.3" rx="10.4" ry="9.8" fill="url(#g1)" stroke="#231815" stroke-width="1.8"/></g>
<g><rect x="292.6" y="978.5" width="7" height="47" fill="#c3c9e8" opacity="0.45"/><rect x="290.6" y="1045.0" width="7" height="46" fill="#c3c9e8" opacity="0.45"/><rect x="312.3" y="978.5" width="7" height="47" fill="#c3c9e8" opacity="0.45"/><rect x="310.6" y="1045.0" width="7" height="46" fill="#c3c9e8" opacity="0.45"/><rect x="331.4" y="978.5" width="7" height="47" fill="#c3c9e8" opacity="0.45"/><rect x="330.0" y="1045.0" width="7" height="46" fill="#c3c9e8" opacity="0.45"/><rect x="351.8" y="978.5" width="7" height="47" fill="#c3c9e8" opacity="0.45"/><rect x="351.6" y="1045.0" width="7" height="46" fill="#c3c9e8" opacity="0.45"/><rect x="369.2" y="978.5" width="7" height="47" fill="#c3c9e8" opacity="0.45"/><rect x="369.1" y="1045.0" width="7" height="46" fill="#c3c9e8" opacity="0.45"/><rect x="389.4" y="978.5" width="7" height="47" fill="#c3c9e8" opacity="0.45"/><rect x="387.6" y="1045.0" width="7" height="46" fill="#c3c9e8" opacity="0.45"/><rect x="408.4" y="978.5" width="7" height="47" fill="#c3c9e8" opacity="0.45"/><rect x="409.9" y="1045.0" width="7" height="46" fill="#c3c9e8" opacity="0.45"/><rect x="426.1" y="978.5" width="7" height="47" fill="#c3c9e8" opacity="0.45"/><rect x="426.8" y="1045.0" width="7" height="46" fill="#c3c9e8" opacity="0.45"/><rect x="445.2" y="978.5" width="7" height="47" fill="#c3c9e8" opacity="0.45"/><rect x="447.4" y="1045.0" width="7" height="46" fill="#c3c9e8" opacity="0.45"/><rect x="468.1" y="978.5" width="7" height="47" fill="#c3c9e8" opacity="0.45"/><rect x="466.8" y="1045.0" width="7" height="46" fill="#c3c9e8" opacity="0.45"/><rect x="484.5" y="978.5" width="7" height="47" fill="#c3c9e8" opacity="0.45"/><rect x="484.9" y="1045.0" width="7" height="46" fill="#c3c9e8" opacity="0.45"/><rect x="506.7" y="978.5" width="7" height="47" fill="#c3c9e8" opacity="0.45"/><rect x="507.2" y="1045.0" width="7" height="46" fill="#c3c9e8" opacity="0.45"/><rect x="523.0" y="978.5" width="7" height="47" fill="#c3c9e8" opacity="0.45"/><rect x="523.5" y="1045.0" width="7" height="46" fill="#c3c9e8" opacity="0.45"/><rect x="544.4" y="978.5" width="7" height="47" fill="#c3c9e8" opacity="0.45"/><rect x="544.6" y="1045.0" width="7" height="46" fill="#c3c9e8" opacity="0.45"/><rect x="563.9" y="978.5" width="7" height="47" fill="#c3c9e8" opacity="0.45"/><rect x="561.3" y="1045.0" width="7" height="46" fill="#c3c9e8" opacity="0.45"/><rect x="583.9" y="978.5" width="7" height="47" fill="#c3c9e8" opacity="0.45"/><rect x="582.2" y="1045.0" width="7" height="46" fill="#c3c9e8" opacity="0.45"/><rect x="601.6" y="978.5" width="7" height="47" fill="#c3c9e8" opacity="0.45"/><rect x="601.6" y="1045.0" width="7" height="46" fill="#c3c9e8" opacity="0.45"/><rect x="619.1" y="978.5" width="7" height="47" fill="#c3c9e8" opacity="0.45"/><rect x="620.8" y="1045.0" width="7" height="46" fill="#c3c9e8" opacity="0.45"/><rect x="638.7" y="978.5" width="7" height="47" fill="#c3c9e8" opacity="0.45"/><rect x="641.5" y="1045.0" width="7" height="46" fill="#c3c9e8" opacity="0.45"/><rect x="658.9" y="978.5" width="7" height="47" fill="#c3c9e8" opacity="0.45"/><rect x="659.9" y="1045.0" width="7" height="46" fill="#c3c9e8" opacity="0.45"/><rect x="680.3" y="978.5" width="7" height="47" fill="#c3c9e8" opacity="0.45"/><rect x="679.2" y="1045.0" width="7" height="46" fill="#c3c9e8" opacity="0.45"/><rect x="699.6" y="978.5" width="7" height="47" fill="#c3c9e8" opacity="0.45"/><rect x="700.6" y="1045.0" width="7" height="46" fill="#c3c9e8" opacity="0.45"/><rect x="718.9" y="978.5" width="7" height="47" fill="#c3c9e8" opacity="0.45"/><rect x="718.0" y="1045.0" width="7" height="46" fill="#c3c9e8" opacity="0.45"/><rect x="738.3" y="978.5" width="7" height="47" fill="#c3c9e8" opacity="0.45"/><rect x="737.4" y="1045.0" width="7" height="46" fill="#c3c9e8" opacity="0.45"/><rect x="756.2" y="978.5" width="7" height="47" fill="#c3c9e8" opacity="0.45"/><rect x="757.8" y="1045.0" width="7" height="46" fill="#c3c9e8" opacity="0.45"/><rect x="776.7" y="978.5" width="7" height="47" fill="#c3c9e8" opacity="0.45"/><rect x="776.8" y="1045.0" width="7" height="46" fill="#c3c9e8" opacity="0.45"/><rect x="795.4" y="978.5" width="7" height="47" fill="#c3c9e8" opacity="0.45"/><rect x="795.7" y="1045.0" width="7" height="46" fill="#c3c9e8" opacity="0.45"/><path d="M298.1,976.4 C298.1,981.7 293.8,981.7 293.8,986.9 C293.8,993.2 297.8,993.2 297.8,999.4 C297.8,1005.7 294.0,1005.7 294.0,1011.9 C294.0,1018.1 297.6,1018.1 297.6,1024.4  M296.1,1090.5 C296.1,1085.3 291.8,1085.3 291.8,1080.2 C291.8,1074.1 295.8,1074.1 295.8,1067.9 C295.8,1061.8 292.0,1061.8 292.0,1055.7 C292.0,1049.6 295.6,1049.6 295.6,1043.5  M317.8,976.6 C317.8,981.9 313.5,981.9 313.5,987.2 C313.5,993.4 317.5,993.4 317.5,999.7 C317.5,1005.9 313.7,1005.9 313.7,1012.2 C313.7,1018.4 317.3,1018.4 317.3,1024.6  M316.1,1093.4 C316.1,1088.3 311.8,1088.3 311.8,1083.1 C311.8,1077.0 315.8,1077.0 315.8,1070.9 C315.8,1064.8 312.0,1064.8 312.0,1058.7 C312.0,1052.6 315.6,1052.6 315.6,1046.4  M336.9,978.9 C336.9,984.2 332.6,984.2 332.6,989.4 C332.6,995.7 336.6,995.7 336.6,1001.9 C336.6,1008.2 332.8,1008.2 332.8,1014.4 C332.8,1020.6 336.4,1020.6 336.4,1026.9  M335.5,1092.1 C335.5,1086.9 331.2,1086.9 331.2,1081.8 C331.2,1075.7 335.2,1075.7 335.2,1069.6 C335.2,1063.4 331.4,1063.4 331.4,1057.3 C331.4,1051.2 335.0,1051.2 335.0,1045.1  M357.3,978.8 C357.3,984.1 353.0,984.1 353.0,989.4 C353.0,995.6 357.0,995.6 357.0,1001.9 C357.0,1008.1 353.2,1008.1 353.2,1014.3 C353.2,1020.6 356.8,1020.6 356.8,1026.8  M357.1,1092.6 C357.1,1087.4 352.8,1087.4 352.8,1082.2 C352.8,1076.1 356.8,1076.1 356.8,1070.0 C356.8,1063.9 353.0,1063.9 353.0,1057.8 C353.0,1051.7 356.6,1051.7 356.6,1045.6  M374.7,976.9 C374.7,982.2 370.4,982.2 370.4,987.5 C370.4,993.7 374.4,993.7 374.4,999.9 C374.4,1006.2 370.6,1006.2 370.6,1012.4 C370.6,1018.7 374.2,1018.7 374.2,1024.9  M374.6,1091.6 C374.6,1086.4 370.3,1086.4 370.3,1081.2 C370.3,1075.1 374.3,1075.1 374.3,1069.0 C374.3,1062.9 370.5,1062.9 370.5,1056.8 C370.5,1050.7 374.1,1050.7 374.1,1044.6  M394.9,976.2 C394.9,981.5 390.6,981.5 390.6,986.8 C390.6,993.0 394.6,993.0 394.6,999.2 C394.6,1005.5 390.8,1005.5 390.8,1011.7 C390.8,1018.0 394.4,1018.0 394.4,1024.2  M393.1,1091.4 C393.1,1086.2 388.8,1086.2 388.8,1081.1 C388.8,1075.0 392.8,1075.0 392.8,1068.8 C392.8,1062.7 389.0,1062.7 389.0,1056.6 C389.0,1050.5 392.6,1050.5 392.6,1044.4  M413.9,978.0 C413.9,983.3 409.6,983.3 409.6,988.6 C409.6,994.8 413.6,994.8 413.6,1001.1 C413.6,1007.3 409.8,1007.3 409.8,1013.6 C409.8,1019.8 413.4,1019.8 413.4,1026.0  M415.4,1091.5 C415.4,1086.3 411.1,1086.3 411.1,1081.2 C411.1,1075.1 415.1,1075.1 415.1,1069.0 C415.1,1062.8 411.3,1062.8 411.3,1056.7 C411.3,1050.6 414.9,1050.6 414.9,1044.5  M431.6,977.4 C431.6,982.7 427.3,982.7 427.3,988.0 C427.3,994.2 431.3,994.2 431.3,1000.5 C431.3,1006.7 427.5,1006.7 427.5,1013.0 C427.5,1019.2 431.1,1019.2 431.1,1025.4  M432.3,1091.4 C432.3,1086.3 428.0,1086.3 428.0,1081.1 C428.0,1075.0 432.0,1075.0 432.0,1068.9 C432.0,1062.8 428.2,1062.8 428.2,1056.7 C428.2,1050.6 431.8,1050.6 431.8,1044.4  M450.7,976.2 C450.7,981.5 446.4,981.5 446.4,986.7 C446.4,993.0 450.4,993.0 450.4,999.2 C450.4,1005.5 446.6,1005.5 446.6,1011.7 C446.6,1017.9 450.2,1017.9 450.2,1024.2  M452.9,1093.4 C452.9,1088.3 448.6,1088.3 448.6,1083.1 C448.6,1077.0 452.6,1077.0 452.6,1070.9 C452.6,1064.8 448.8,1064.8 448.8,1058.6 C448.8,1052.5 452.4,1052.5 452.4,1046.4  M473.6,978.5 C473.6,983.8 469.3,983.8 469.3,989.1 C469.3,995.3 473.3,995.3 473.3,1001.6 C473.3,1007.8 469.5,1007.8 469.5,1014.1 C469.5,1020.3 473.1,1020.3 473.1,1026.5  M472.3,1090.6 C472.3,1085.4 468.0,1085.4 468.0,1080.2 C468.0,1074.1 472.0,1074.1 472.0,1068.0 C472.0,1061.9 468.2,1061.9 468.2,1055.8 C468.2,1049.7 471.8,1049.7 471.8,1043.6  M490.0,977.7 C490.0,983.0 485.7,983.0 485.7,988.3 C485.7,994.5 489.7,994.5 489.7,1000.8 C489.7,1007.0 485.9,1007.0 485.9,1013.3 C485.9,1019.5 489.5,1019.5 489.5,1025.7  M490.4,1090.5 C490.4,1085.4 486.1,1085.4 486.1,1080.2 C486.1,1074.1 490.1,1074.1 490.1,1068.0 C490.1,1061.9 486.3,1061.9 486.3,1055.7 C486.3,1049.6 489.9,1049.6 489.9,1043.5  M512.2,978.9 C512.2,984.1 507.9,984.1 507.9,989.4 C507.9,995.7 511.9,995.7 511.9,1001.9 C511.9,1008.1 508.1,1008.1 508.1,1014.4 C508.1,1020.6 511.7,1020.6 511.7,1026.9  M512.7,1091.1 C512.7,1085.9 508.4,1085.9 508.4,1080.7 C508.4,1074.6 512.4,1074.6 512.4,1068.5 C512.4,1062.4 508.6,1062.4 508.6,1056.3 C508.6,1050.2 512.2,1050.2 512.2,1044.1  M528.5,978.8 C528.5,984.1 524.2,984.1 524.2,989.4 C524.2,995.6 528.2,995.6 528.2,1001.9 C528.2,1008.1 524.4,1008.1 524.4,1014.3 C524.4,1020.6 528.0,1020.6 528.0,1026.8  M529.0,1091.5 C529.0,1086.4 524.7,1086.4 524.7,1081.2 C524.7,1075.1 528.7,1075.1 528.7,1069.0 C528.7,1062.9 524.9,1062.9 524.9,1056.8 C524.9,1050.6 528.5,1050.6 528.5,1044.5  M549.9,978.3 C549.9,983.6 545.6,983.6 545.6,988.9 C545.6,995.1 549.6,995.1 549.6,1001.4 C549.6,1007.6 545.8,1007.6 545.8,1013.8 C545.8,1020.1 549.4,1020.1 549.4,1026.3  M550.1,1090.8 C550.1,1085.7 545.8,1085.7 545.8,1080.5 C545.8,1074.4 549.8,1074.4 549.8,1068.3 C549.8,1062.2 546.0,1062.2 546.0,1056.0 C546.0,1049.9 549.6,1049.9 549.6,1043.8  M569.4,978.6 C569.4,983.9 565.1,983.9 565.1,989.1 C565.1,995.4 569.1,995.4 569.1,1001.6 C569.1,1007.9 565.3,1007.9 565.3,1014.1 C565.3,1020.3 568.9,1020.3 568.9,1026.6  M566.8,1090.6 C566.8,1085.4 562.5,1085.4 562.5,1080.3 C562.5,1074.2 566.5,1074.2 566.5,1068.0 C566.5,1061.9 562.7,1061.9 562.7,1055.8 C562.7,1049.7 566.3,1049.7 566.3,1043.6  M589.4,977.0 C589.4,982.3 585.1,982.3 585.1,987.6 C585.1,993.8 589.1,993.8 589.1,1000.1 C589.1,1006.3 585.3,1006.3 585.3,1012.5 C585.3,1018.8 588.9,1018.8 588.9,1025.0  M587.7,1092.3 C587.7,1087.2 583.4,1087.2 583.4,1082.0 C583.4,1075.9 587.4,1075.9 587.4,1069.8 C587.4,1063.7 583.6,1063.7 583.6,1057.6 C583.6,1051.4 587.2,1051.4 587.2,1045.3  M607.1,978.8 C607.1,984.1 602.8,984.1 602.8,989.3 C602.8,995.6 606.8,995.6 606.8,1001.8 C606.8,1008.1 603.0,1008.1 603.0,1014.3 C603.0,1020.5 606.6,1020.5 606.6,1026.8  M607.1,1092.1 C607.1,1087.0 602.8,1087.0 602.8,1081.8 C602.8,1075.7 606.8,1075.7 606.8,1069.6 C606.8,1063.5 603.0,1063.5 603.0,1057.4 C603.0,1051.2 606.6,1051.2 606.6,1045.1  M624.6,976.5 C624.6,981.8 620.3,981.8 620.3,987.1 C620.3,993.3 624.3,993.3 624.3,999.6 C624.3,1005.8 620.5,1005.8 620.5,1012.1 C620.5,1018.3 624.1,1018.3 624.1,1024.5  M626.3,1090.7 C626.3,1085.6 622.0,1085.6 622.0,1080.4 C622.0,1074.3 626.0,1074.3 626.0,1068.2 C626.0,1062.1 622.2,1062.1 622.2,1056.0 C622.2,1049.8 625.8,1049.8 625.8,1043.7  M644.2,979.0 C644.2,984.3 639.9,984.3 639.9,989.6 C639.9,995.8 643.9,995.8 643.9,1002.0 C643.9,1008.3 640.1,1008.3 640.1,1014.5 C640.1,1020.8 643.7,1020.8 643.7,1027.0  M647.0,1091.0 C647.0,1085.8 642.7,1085.8 642.7,1080.6 C642.7,1074.5 646.7,1074.5 646.7,1068.4 C646.7,1062.3 642.9,1062.3 642.9,1056.2 C642.9,1050.1 646.5,1050.1 646.5,1044.0  M664.4,977.6 C664.4,982.9 660.1,982.9 660.1,988.2 C660.1,994.4 664.1,994.4 664.1,1000.6 C664.1,1006.9 660.3,1006.9 660.3,1013.1 C660.3,1019.4 663.9,1019.4 663.9,1025.6  M665.4,1091.7 C665.4,1086.5 661.1,1086.5 661.1,1081.4 C661.1,1075.3 665.1,1075.3 665.1,1069.2 C665.1,1063.0 661.3,1063.0 661.3,1056.9 C661.3,1050.8 664.9,1050.8 664.9,1044.7  M685.8,978.5 C685.8,983.8 681.5,983.8 681.5,989.0 C681.5,995.3 685.5,995.3 685.5,1001.5 C685.5,1007.8 681.7,1007.8 681.7,1014.0 C681.7,1020.2 685.3,1020.2 685.3,1026.5  M684.7,1091.9 C684.7,1086.7 680.4,1086.7 680.4,1081.5 C680.4,1075.4 684.4,1075.4 684.4,1069.3 C684.4,1063.2 680.6,1063.2 680.6,1057.1 C680.6,1051.0 684.2,1051.0 684.2,1044.9  M705.1,978.7 C705.1,984.0 700.8,984.0 700.8,989.3 C700.8,995.5 704.8,995.5 704.8,1001.8 C704.8,1008.0 701.0,1008.0 701.0,1014.3 C701.0,1020.5 704.6,1020.5 704.6,1026.7  M706.1,1090.6 C706.1,1085.4 701.8,1085.4 701.8,1080.3 C701.8,1074.1 705.8,1074.1 705.8,1068.0 C705.8,1061.9 702.0,1061.9 702.0,1055.8 C702.0,1049.7 705.6,1049.7 705.6,1043.6  M724.4,976.4 C724.4,981.7 720.1,981.7 720.1,987.0 C720.1,993.2 724.1,993.2 724.1,999.4 C724.1,1005.7 720.3,1005.7 720.3,1011.9 C720.3,1018.2 723.9,1018.2 723.9,1024.4  M723.5,1092.7 C723.5,1087.5 719.2,1087.5 719.2,1082.4 C719.2,1076.2 723.2,1076.2 723.2,1070.1 C723.2,1064.0 719.4,1064.0 719.4,1057.9 C719.4,1051.8 723.0,1051.8 723.0,1045.7  M743.8,978.4 C743.8,983.6 739.5,983.6 739.5,988.9 C739.5,995.2 743.5,995.2 743.5,1001.4 C743.5,1007.6 739.7,1007.6 739.7,1013.9 C739.7,1020.1 743.3,1020.1 743.3,1026.4  M742.9,1090.8 C742.9,1085.6 738.6,1085.6 738.6,1080.5 C738.6,1074.4 742.6,1074.4 742.6,1068.3 C742.6,1062.1 738.8,1062.1 738.8,1056.0 C738.8,1049.9 742.4,1049.9 742.4,1043.8  M761.7,978.5 C761.7,983.8 757.4,983.8 757.4,989.1 C757.4,995.3 761.4,995.3 761.4,1001.6 C761.4,1007.8 757.6,1007.8 757.6,1014.1 C757.6,1020.3 761.2,1020.3 761.2,1026.5  M763.3,1091.4 C763.3,1086.2 759.0,1086.2 759.0,1081.0 C759.0,1074.9 763.0,1074.9 763.0,1068.8 C763.0,1062.7 759.2,1062.7 759.2,1056.6 C759.2,1050.5 762.8,1050.5 762.8,1044.4  M782.2,978.6 C782.2,983.8 777.9,983.8 777.9,989.1 C777.9,995.4 781.9,995.4 781.9,1001.6 C781.9,1007.8 778.1,1007.8 778.1,1014.1 C778.1,1020.3 781.7,1020.3 781.7,1026.6  M782.3,1093.4 C782.3,1088.3 778.0,1088.3 778.0,1083.1 C778.0,1077.0 782.0,1077.0 782.0,1070.9 C782.0,1064.8 778.2,1064.8 778.2,1058.6 C778.2,1052.5 781.8,1052.5 781.8,1046.4  M800.9,978.2 C800.9,983.5 796.6,983.5 796.6,988.7 C796.6,995.0 800.6,995.0 800.6,1001.2 C800.6,1007.5 796.8,1007.5 796.8,1013.7 C796.8,1019.9 800.4,1019.9 800.4,1026.2  M801.2,1091.9 C801.2,1086.8 796.9,1086.8 796.9,1081.6 C796.9,1075.5 800.9,1075.5 800.9,1069.4 C800.9,1063.3 797.1,1063.3 797.1,1057.2 C797.1,1051.0 800.7,1051.0 800.7,1044.9 " fill="none" stroke="#231815" stroke-width="4.6"/><path d="M298.1,976.4 C298.1,981.7 293.8,981.7 293.8,986.9 C293.8,993.2 297.8,993.2 297.8,999.4 C297.8,1005.7 294.0,1005.7 294.0,1011.9 C294.0,1018.1 297.6,1018.1 297.6,1024.4  M296.1,1090.5 C296.1,1085.3 291.8,1085.3 291.8,1080.2 C291.8,1074.1 295.8,1074.1 295.8,1067.9 C295.8,1061.8 292.0,1061.8 292.0,1055.7 C292.0,1049.6 295.6,1049.6 295.6,1043.5  M317.8,976.6 C317.8,981.9 313.5,981.9 313.5,987.2 C313.5,993.4 317.5,993.4 317.5,999.7 C317.5,1005.9 313.7,1005.9 313.7,1012.2 C313.7,1018.4 317.3,1018.4 317.3,1024.6  M316.1,1093.4 C316.1,1088.3 311.8,1088.3 311.8,1083.1 C311.8,1077.0 315.8,1077.0 315.8,1070.9 C315.8,1064.8 312.0,1064.8 312.0,1058.7 C312.0,1052.6 315.6,1052.6 315.6,1046.4  M336.9,978.9 C336.9,984.2 332.6,984.2 332.6,989.4 C332.6,995.7 336.6,995.7 336.6,1001.9 C336.6,1008.2 332.8,1008.2 332.8,1014.4 C332.8,1020.6 336.4,1020.6 336.4,1026.9  M335.5,1092.1 C335.5,1086.9 331.2,1086.9 331.2,1081.8 C331.2,1075.7 335.2,1075.7 335.2,1069.6 C335.2,1063.4 331.4,1063.4 331.4,1057.3 C331.4,1051.2 335.0,1051.2 335.0,1045.1  M357.3,978.8 C357.3,984.1 353.0,984.1 353.0,989.4 C353.0,995.6 357.0,995.6 357.0,1001.9 C357.0,1008.1 353.2,1008.1 353.2,1014.3 C353.2,1020.6 356.8,1020.6 356.8,1026.8  M357.1,1092.6 C357.1,1087.4 352.8,1087.4 352.8,1082.2 C352.8,1076.1 356.8,1076.1 356.8,1070.0 C356.8,1063.9 353.0,1063.9 353.0,1057.8 C353.0,1051.7 356.6,1051.7 356.6,1045.6  M374.7,976.9 C374.7,982.2 370.4,982.2 370.4,987.5 C370.4,993.7 374.4,993.7 374.4,999.9 C374.4,1006.2 370.6,1006.2 370.6,1012.4 C370.6,1018.7 374.2,1018.7 374.2,1024.9  M374.6,1091.6 C374.6,1086.4 370.3,1086.4 370.3,1081.2 C370.3,1075.1 374.3,1075.1 374.3,1069.0 C374.3,1062.9 370.5,1062.9 370.5,1056.8 C370.5,1050.7 374.1,1050.7 374.1,1044.6  M394.9,976.2 C394.9,981.5 390.6,981.5 390.6,986.8 C390.6,993.0 394.6,993.0 394.6,999.2 C394.6,1005.5 390.8,1005.5 390.8,1011.7 C390.8,1018.0 394.4,1018.0 394.4,1024.2  M393.1,1091.4 C393.1,1086.2 388.8,1086.2 388.8,1081.1 C388.8,1075.0 392.8,1075.0 392.8,1068.8 C392.8,1062.7 389.0,1062.7 389.0,1056.6 C389.0,1050.5 392.6,1050.5 392.6,1044.4  M413.9,978.0 C413.9,983.3 409.6,983.3 409.6,988.6 C409.6,994.8 413.6,994.8 413.6,1001.1 C413.6,1007.3 409.8,1007.3 409.8,1013.6 C409.8,1019.8 413.4,1019.8 413.4,1026.0  M415.4,1091.5 C415.4,1086.3 411.1,1086.3 411.1,1081.2 C411.1,1075.1 415.1,1075.1 415.1,1069.0 C415.1,1062.8 411.3,1062.8 411.3,1056.7 C411.3,1050.6 414.9,1050.6 414.9,1044.5  M431.6,977.4 C431.6,982.7 427.3,982.7 427.3,988.0 C427.3,994.2 431.3,994.2 431.3,1000.5 C431.3,1006.7 427.5,1006.7 427.5,1013.0 C427.5,1019.2 431.1,1019.2 431.1,1025.4  M432.3,1091.4 C432.3,1086.3 428.0,1086.3 428.0,1081.1 C428.0,1075.0 432.0,1075.0 432.0,1068.9 C432.0,1062.8 428.2,1062.8 428.2,1056.7 C428.2,1050.6 431.8,1050.6 431.8,1044.4  M450.7,976.2 C450.7,981.5 446.4,981.5 446.4,986.7 C446.4,993.0 450.4,993.0 450.4,999.2 C450.4,1005.5 446.6,1005.5 446.6,1011.7 C446.6,1017.9 450.2,1017.9 450.2,1024.2  M452.9,1093.4 C452.9,1088.3 448.6,1088.3 448.6,1083.1 C448.6,1077.0 452.6,1077.0 452.6,1070.9 C452.6,1064.8 448.8,1064.8 448.8,1058.6 C448.8,1052.5 452.4,1052.5 452.4,1046.4  M473.6,978.5 C473.6,983.8 469.3,983.8 469.3,989.1 C469.3,995.3 473.3,995.3 473.3,1001.6 C473.3,1007.8 469.5,1007.8 469.5,1014.1 C469.5,1020.3 473.1,1020.3 473.1,1026.5  M472.3,1090.6 C472.3,1085.4 468.0,1085.4 468.0,1080.2 C468.0,1074.1 472.0,1074.1 472.0,1068.0 C472.0,1061.9 468.2,1061.9 468.2,1055.8 C468.2,1049.7 471.8,1049.7 471.8,1043.6  M490.0,977.7 C490.0,983.0 485.7,983.0 485.7,988.3 C485.7,994.5 489.7,994.5 489.7,1000.8 C489.7,1007.0 485.9,1007.0 485.9,1013.3 C485.9,1019.5 489.5,1019.5 489.5,1025.7  M490.4,1090.5 C490.4,1085.4 486.1,1085.4 486.1,1080.2 C486.1,1074.1 490.1,1074.1 490.1,1068.0 C490.1,1061.9 486.3,1061.9 486.3,1055.7 C486.3,1049.6 489.9,1049.6 489.9,1043.5  M512.2,978.9 C512.2,984.1 507.9,984.1 507.9,989.4 C507.9,995.7 511.9,995.7 511.9,1001.9 C511.9,1008.1 508.1,1008.1 508.1,1014.4 C508.1,1020.6 511.7,1020.6 511.7,1026.9  M512.7,1091.1 C512.7,1085.9 508.4,1085.9 508.4,1080.7 C508.4,1074.6 512.4,1074.6 512.4,1068.5 C512.4,1062.4 508.6,1062.4 508.6,1056.3 C508.6,1050.2 512.2,1050.2 512.2,1044.1  M528.5,978.8 C528.5,984.1 524.2,984.1 524.2,989.4 C524.2,995.6 528.2,995.6 528.2,1001.9 C528.2,1008.1 524.4,1008.1 524.4,1014.3 C524.4,1020.6 528.0,1020.6 528.0,1026.8  M529.0,1091.5 C529.0,1086.4 524.7,1086.4 524.7,1081.2 C524.7,1075.1 528.7,1075.1 528.7,1069.0 C528.7,1062.9 524.9,1062.9 524.9,1056.8 C524.9,1050.6 528.5,1050.6 528.5,1044.5  M549.9,978.3 C549.9,983.6 545.6,983.6 545.6,988.9 C545.6,995.1 549.6,995.1 549.6,1001.4 C549.6,1007.6 545.8,1007.6 545.8,1013.8 C545.8,1020.1 549.4,1020.1 549.4,1026.3  M550.1,1090.8 C550.1,1085.7 545.8,1085.7 545.8,1080.5 C545.8,1074.4 549.8,1074.4 549.8,1068.3 C549.8,1062.2 546.0,1062.2 546.0,1056.0 C546.0,1049.9 549.6,1049.9 549.6,1043.8  M569.4,978.6 C569.4,983.9 565.1,983.9 565.1,989.1 C565.1,995.4 569.1,995.4 569.1,1001.6 C569.1,1007.9 565.3,1007.9 565.3,1014.1 C565.3,1020.3 568.9,1020.3 568.9,1026.6  M566.8,1090.6 C566.8,1085.4 562.5,1085.4 562.5,1080.3 C562.5,1074.2 566.5,1074.2 566.5,1068.0 C566.5,1061.9 562.7,1061.9 562.7,1055.8 C562.7,1049.7 566.3,1049.7 566.3,1043.6  M589.4,977.0 C589.4,982.3 585.1,982.3 585.1,987.6 C585.1,993.8 589.1,993.8 589.1,1000.1 C589.1,1006.3 585.3,1006.3 585.3,1012.5 C585.3,1018.8 588.9,1018.8 588.9,1025.0  M587.7,1092.3 C587.7,1087.2 583.4,1087.2 583.4,1082.0 C583.4,1075.9 587.4,1075.9 587.4,1069.8 C587.4,1063.7 583.6,1063.7 583.6,1057.6 C583.6,1051.4 587.2,1051.4 587.2,1045.3  M607.1,978.8 C607.1,984.1 602.8,984.1 602.8,989.3 C602.8,995.6 606.8,995.6 606.8,1001.8 C606.8,1008.1 603.0,1008.1 603.0,1014.3 C603.0,1020.5 606.6,1020.5 606.6,1026.8  M607.1,1092.1 C607.1,1087.0 602.8,1087.0 602.8,1081.8 C602.8,1075.7 606.8,1075.7 606.8,1069.6 C606.8,1063.5 603.0,1063.5 603.0,1057.4 C603.0,1051.2 606.6,1051.2 606.6,1045.1  M624.6,976.5 C624.6,981.8 620.3,981.8 620.3,987.1 C620.3,993.3 624.3,993.3 624.3,999.6 C624.3,1005.8 620.5,1005.8 620.5,1012.1 C620.5,1018.3 624.1,1018.3 624.1,1024.5  M626.3,1090.7 C626.3,1085.6 622.0,1085.6 622.0,1080.4 C622.0,1074.3 626.0,1074.3 626.0,1068.2 C626.0,1062.1 622.2,1062.1 622.2,1056.0 C622.2,1049.8 625.8,1049.8 625.8,1043.7  M644.2,979.0 C644.2,984.3 639.9,984.3 639.9,989.6 C639.9,995.8 643.9,995.8 643.9,1002.0 C643.9,1008.3 640.1,1008.3 640.1,1014.5 C640.1,1020.8 643.7,1020.8 643.7,1027.0  M647.0,1091.0 C647.0,1085.8 642.7,1085.8 642.7,1080.6 C642.7,1074.5 646.7,1074.5 646.7,1068.4 C646.7,1062.3 642.9,1062.3 642.9,1056.2 C642.9,1050.1 646.5,1050.1 646.5,1044.0  M664.4,977.6 C664.4,982.9 660.1,982.9 660.1,988.2 C660.1,994.4 664.1,994.4 664.1,1000.6 C664.1,1006.9 660.3,1006.9 660.3,1013.1 C660.3,1019.4 663.9,1019.4 663.9,1025.6  M665.4,1091.7 C665.4,1086.5 661.1,1086.5 661.1,1081.4 C661.1,1075.3 665.1,1075.3 665.1,1069.2 C665.1,1063.0 661.3,1063.0 661.3,1056.9 C661.3,1050.8 664.9,1050.8 664.9,1044.7  M685.8,978.5 C685.8,983.8 681.5,983.8 681.5,989.0 C681.5,995.3 685.5,995.3 685.5,1001.5 C685.5,1007.8 681.7,1007.8 681.7,1014.0 C681.7,1020.2 685.3,1020.2 685.3,1026.5  M684.7,1091.9 C684.7,1086.7 680.4,1086.7 680.4,1081.5 C680.4,1075.4 684.4,1075.4 684.4,1069.3 C684.4,1063.2 680.6,1063.2 680.6,1057.1 C680.6,1051.0 684.2,1051.0 684.2,1044.9  M705.1,978.7 C705.1,984.0 700.8,984.0 700.8,989.3 C700.8,995.5 704.8,995.5 704.8,1001.8 C704.8,1008.0 701.0,1008.0 701.0,1014.3 C701.0,1020.5 704.6,1020.5 704.6,1026.7  M706.1,1090.6 C706.1,1085.4 701.8,1085.4 701.8,1080.3 C701.8,1074.1 705.8,1074.1 705.8,1068.0 C705.8,1061.9 702.0,1061.9 702.0,1055.8 C702.0,1049.7 705.6,1049.7 705.6,1043.6  M724.4,976.4 C724.4,981.7 720.1,981.7 720.1,987.0 C720.1,993.2 724.1,993.2 724.1,999.4 C724.1,1005.7 720.3,1005.7 720.3,1011.9 C720.3,1018.2 723.9,1018.2 723.9,1024.4  M723.5,1092.7 C723.5,1087.5 719.2,1087.5 719.2,1082.4 C719.2,1076.2 723.2,1076.2 723.2,1070.1 C723.2,1064.0 719.4,1064.0 719.4,1057.9 C719.4,1051.8 723.0,1051.8 723.0,1045.7  M743.8,978.4 C743.8,983.6 739.5,983.6 739.5,988.9 C739.5,995.2 743.5,995.2 743.5,1001.4 C743.5,1007.6 739.7,1007.6 739.7,1013.9 C739.7,1020.1 743.3,1020.1 743.3,1026.4  M742.9,1090.8 C742.9,1085.6 738.6,1085.6 738.6,1080.5 C738.6,1074.4 742.6,1074.4 742.6,1068.3 C742.6,1062.1 738.8,1062.1 738.8,1056.0 C738.8,1049.9 742.4,1049.9 742.4,1043.8  M761.7,978.5 C761.7,983.8 757.4,983.8 757.4,989.1 C757.4,995.3 761.4,995.3 761.4,1001.6 C761.4,1007.8 757.6,1007.8 757.6,1014.1 C757.6,1020.3 761.2,1020.3 761.2,1026.5  M763.3,1091.4 C763.3,1086.2 759.0,1086.2 759.0,1081.0 C759.0,1074.9 763.0,1074.9 763.0,1068.8 C763.0,1062.7 759.2,1062.7 759.2,1056.6 C759.2,1050.5 762.8,1050.5 762.8,1044.4  M782.2,978.6 C782.2,983.8 777.9,983.8 777.9,989.1 C777.9,995.4 781.9,995.4 781.9,1001.6 C781.9,1007.8 778.1,1007.8 778.1,1014.1 C778.1,1020.3 781.7,1020.3 781.7,1026.6  M782.3,1093.4 C782.3,1088.3 778.0,1088.3 778.0,1083.1 C778.0,1077.0 782.0,1077.0 782.0,1070.9 C782.0,1064.8 778.2,1064.8 778.2,1058.6 C778.2,1052.5 781.8,1052.5 781.8,1046.4  M800.9,978.2 C800.9,983.5 796.6,983.5 796.6,988.7 C796.6,995.0 800.6,995.0 800.6,1001.2 C800.6,1007.5 796.8,1007.5 796.8,1013.7 C796.8,1019.9 800.4,1019.9 800.4,1026.2  M801.2,1091.9 C801.2,1086.8 796.9,1086.8 796.9,1081.6 C796.9,1075.5 800.9,1075.5 800.9,1069.4 C800.9,1063.3 797.1,1063.3 797.1,1057.2 C797.1,1051.0 800.7,1051.0 800.7,1044.9 " fill="none" stroke="#e9e7f2" stroke-width="1.3"/><rect x="285.0" y="957.7" width="21" height="19" fill="#c3c9e8" opacity="0.6"/><rect x="304.7" y="958.6" width="21" height="19" fill="#c3c9e8" opacity="0.6"/><rect x="324.4" y="960.8" width="21" height="19" fill="#c3c9e8" opacity="0.6"/><rect x="343.9" y="960.7" width="21" height="19" fill="#c3c9e8" opacity="0.6"/><rect x="363.7" y="959.5" width="21" height="19" fill="#c3c9e8" opacity="0.6"/><rect x="382.6" y="959.0" width="21" height="19" fill="#c3c9e8" opacity="0.6"/><rect x="402.4" y="958.4" width="21" height="19" fill="#c3c9e8" opacity="0.6"/><rect x="419.7" y="957.5" width="21" height="19" fill="#c3c9e8" opacity="0.6"/><rect x="440.1" y="958.2" width="21" height="19" fill="#c3c9e8" opacity="0.6"/><rect x="460.7" y="960.0" width="21" height="19" fill="#c3c9e8" opacity="0.6"/><rect x="479.4" y="960.3" width="21" height="19" fill="#c3c9e8" opacity="0.6"/><rect x="499.4" y="958.5" width="21" height="19" fill="#c3c9e8" opacity="0.6"/><rect x="516.9" y="960.0" width="21" height="19" fill="#c3c9e8" opacity="0.6"/><rect x="537.2" y="960.0" width="21" height="19" fill="#c3c9e8" opacity="0.6"/><rect x="556.0" y="959.7" width="21" height="19" fill="#c3c9e8" opacity="0.6"/><rect x="576.2" y="959.6" width="21" height="19" fill="#c3c9e8" opacity="0.6"/><rect x="595.6" y="959.9" width="21" height="19" fill="#c3c9e8" opacity="0.6"/><rect x="613.7" y="958.5" width="21" height="19" fill="#c3c9e8" opacity="0.6"/><rect x="633.6" y="959.7" width="21" height="19" fill="#c3c9e8" opacity="0.6"/><rect x="653.1" y="958.2" width="21" height="19" fill="#c3c9e8" opacity="0.6"/><rect x="674.1" y="958.9" width="21" height="19" fill="#c3c9e8" opacity="0.6"/><rect x="693.1" y="960.0" width="21" height="19" fill="#c3c9e8" opacity="0.6"/><rect x="711.1" y="959.7" width="21" height="19" fill="#c3c9e8" opacity="0.6"/><rect x="732.0" y="958.3" width="21" height="19" fill="#c3c9e8" opacity="0.6"/><rect x="749.8" y="960.6" width="21" height="19" fill="#c3c9e8" opacity="0.6"/><rect x="770.4" y="959.5" width="21" height="19" fill="#c3c9e8" opacity="0.6"/><rect x="789.5" y="959.3" width="21" height="19" fill="#c3c9e8" opacity="0.6"/><ellipse cx="295.5" cy="967.2" rx="10.4" ry="9.8" fill="url(#g1)" stroke="#231815" stroke-width="1.8"/><ellipse cx="315.2" cy="968.1" rx="10.4" ry="9.8" fill="url(#g1)" stroke="#231815" stroke-width="1.8"/><ellipse cx="334.9" cy="970.3" rx="10.4" ry="9.8" fill="url(#g1)" stroke="#231815" stroke-width="1.8"/><ellipse cx="354.4" cy="970.2" rx="10.4" ry="9.8" fill="url(#g1)" stroke="#231815" stroke-width="1.8"/><ellipse cx="374.2" cy="969.0" rx="10.4" ry="9.8" fill="url(#g1)" stroke="#231815" stroke-width="1.8"/><ellipse cx="393.1" cy="968.5" rx="10.4" ry="9.8" fill="url(#g1)" stroke="#231815" stroke-width="1.8"/><ellipse cx="412.9" cy="967.9" rx="10.4" ry="9.8" fill="url(#g1)" stroke="#231815" stroke-width="1.8"/><ellipse cx="430.2" cy="967.0" rx="10.4" ry="9.8" fill="url(#g1)" stroke="#231815" stroke-width="1.8"/><ellipse cx="450.6" cy="967.7" rx="10.4" ry="9.8" fill="url(#g1)" stroke="#231815" stroke-width="1.8"/><ellipse cx="471.2" cy="969.5" rx="10.4" ry="9.8" fill="url(#g1)" stroke="#231815" stroke-width="1.8"/><ellipse cx="489.9" cy="969.8" rx="10.4" ry="9.8" fill="url(#g1)" stroke="#231815" stroke-width="1.8"/><ellipse cx="509.9" cy="968.0" rx="10.4" ry="9.8" fill="url(#g1)" stroke="#231815" stroke-width="1.8"/><ellipse cx="527.4" cy="969.5" rx="10.4" ry="9.8" fill="url(#g1)" stroke="#231815" stroke-width="1.8"/><ellipse cx="547.7" cy="969.5" rx="10.4" ry="9.8" fill="url(#g1)" stroke="#231815" stroke-width="1.8"/><ellipse cx="566.5" cy="969.2" rx="10.4" ry="9.8" fill="url(#g1)" stroke="#231815" stroke-width="1.8"/><ellipse cx="586.7" cy="969.1" rx="10.4" ry="9.8" fill="url(#g1)" stroke="#231815" stroke-width="1.8"/><ellipse cx="606.1" cy="969.4" rx="10.4" ry="9.8" fill="url(#g1)" stroke="#231815" stroke-width="1.8"/><ellipse cx="624.2" cy="968.0" rx="10.4" ry="9.8" fill="url(#g1)" stroke="#231815" stroke-width="1.8"/><ellipse cx="644.1" cy="969.2" rx="10.4" ry="9.8" fill="url(#g1)" stroke="#231815" stroke-width="1.8"/><ellipse cx="663.6" cy="967.7" rx="10.4" ry="9.8" fill="url(#g1)" stroke="#231815" stroke-width="1.8"/><ellipse cx="684.6" cy="968.4" rx="10.4" ry="9.8" fill="url(#g1)" stroke="#231815" stroke-width="1.8"/><ellipse cx="703.6" cy="969.5" rx="10.4" ry="9.8" fill="url(#g1)" stroke="#231815" stroke-width="1.8"/><ellipse cx="721.6" cy="969.2" rx="10.4" ry="9.8" fill="url(#g1)" stroke="#231815" stroke-width="1.8"/><ellipse cx="742.5" cy="967.8" rx="10.4" ry="9.8" fill="url(#g1)" stroke="#231815" stroke-width="1.8"/><ellipse cx="760.3" cy="970.1" rx="10.4" ry="9.8" fill="url(#g1)" stroke="#231815" stroke-width="1.8"/><ellipse cx="780.9" cy="969.0" rx="10.4" ry="9.8" fill="url(#g1)" stroke="#231815" stroke-width="1.8"/><ellipse cx="800.0" cy="968.8" rx="10.4" ry="9.8" fill="url(#g1)" stroke="#231815" stroke-width="1.8"/><rect x="285.0" y="1089.7" width="21" height="19" fill="#c3c9e8" opacity="0.6"/><rect x="304.7" y="1091.7" width="21" height="19" fill="#c3c9e8" opacity="0.6"/><rect x="324.4" y="1090.6" width="21" height="19" fill="#c3c9e8" opacity="0.6"/><rect x="343.9" y="1092.1" width="21" height="19" fill="#c3c9e8" opacity="0.6"/><rect x="363.7" y="1091.4" width="21" height="19" fill="#c3c9e8" opacity="0.6"/><rect x="382.6" y="1092.6" width="21" height="19" fill="#c3c9e8" opacity="0.6"/><rect x="402.4" y="1092.0" width="21" height="19" fill="#c3c9e8" opacity="0.6"/><rect x="419.7" y="1092.6" width="21" height="19" fill="#c3c9e8" opacity="0.6"/><rect x="440.1" y="1091.0" width="21" height="19" fill="#c3c9e8" opacity="0.6"/><rect x="460.7" y="1092.0" width="21" height="19" fill="#c3c9e8" opacity="0.6"/><rect x="479.4" y="1092.4" width="21" height="19" fill="#c3c9e8" opacity="0.6"/><rect x="499.4" y="1092.7" width="21" height="19" fill="#c3c9e8" opacity="0.6"/><rect x="516.9" y="1091.0" width="21" height="19" fill="#c3c9e8" opacity="0.6"/><rect x="537.2" y="1092.7" width="21" height="19" fill="#c3c9e8" opacity="0.6"/><rect x="556.0" y="1092.8" width="21" height="19" fill="#c3c9e8" opacity="0.6"/><rect x="576.2" y="1092.2" width="21" height="19" fill="#c3c9e8" opacity="0.6"/><rect x="595.6" y="1093.2" width="21" height="19" fill="#c3c9e8" opacity="0.6"/><rect x="613.7" y="1093.1" width="21" height="19" fill="#c3c9e8" opacity="0.6"/><rect x="633.6" y="1091.6" width="21" height="19" fill="#c3c9e8" opacity="0.6"/><rect x="653.1" y="1091.6" width="21" height="19" fill="#c3c9e8" opacity="0.6"/><rect x="674.1" y="1090.3" width="21" height="19" fill="#c3c9e8" opacity="0.6"/><rect x="693.1" y="1092.7" width="21" height="19" fill="#c3c9e8" opacity="0.6"/><rect x="711.1" y="1093.1" width="21" height="19" fill="#c3c9e8" opacity="0.6"/><rect x="732.0" y="1091.4" width="21" height="19" fill="#c3c9e8" opacity="0.6"/><rect x="749.8" y="1092.2" width="21" height="19" fill="#c3c9e8" opacity="0.6"/><rect x="770.4" y="1092.3" width="21" height="19" fill="#c3c9e8" opacity="0.6"/><rect x="789.5" y="1092.3" width="21" height="19" fill="#c3c9e8" opacity="0.6"/><ellipse cx="295.5" cy="1099.2" rx="10.4" ry="9.8" fill="url(#g1)" stroke="#231815" stroke-width="1.8"/><ellipse cx="315.2" cy="1101.2" rx="10.4" ry="9.8" fill="url(#g1)" stroke="#231815" stroke-width="1.8"/><ellipse cx="334.9" cy="1100.1" rx="10.4" ry="9.8" fill="url(#g1)" stroke="#231815" stroke-width="1.8"/><ellipse cx="354.4" cy="1101.6" rx="10.4" ry="9.8" fill="url(#g1)" stroke="#231815" stroke-width="1.8"/><ellipse cx="374.2" cy="1100.9" rx="10.4" ry="9.8" fill="url(#g1)" stroke="#231815" stroke-width="1.8"/><ellipse cx="393.1" cy="1102.1" rx="10.4" ry="9.8" fill="url(#g1)" stroke="#231815" stroke-width="1.8"/><ellipse cx="412.9" cy="1101.5" rx="10.4" ry="9.8" fill="url(#g1)" stroke="#231815" stroke-width="1.8"/><ellipse cx="430.2" cy="1102.1" rx="10.4" ry="9.8" fill="url(#g1)" stroke="#231815" stroke-width="1.8"/><ellipse cx="450.6" cy="1100.5" rx="10.4" ry="9.8" fill="url(#g1)" stroke="#231815" stroke-width="1.8"/><ellipse cx="471.2" cy="1101.5" rx="10.4" ry="9.8" fill="url(#g1)" stroke="#231815" stroke-width="1.8"/><ellipse cx="489.9" cy="1101.9" rx="10.4" ry="9.8" fill="url(#g1)" stroke="#231815" stroke-width="1.8"/><ellipse cx="509.9" cy="1102.2" rx="10.4" ry="9.8" fill="url(#g1)" stroke="#231815" stroke-width="1.8"/><ellipse cx="527.4" cy="1100.5" rx="10.4" ry="9.8" fill="url(#g1)" stroke="#231815" stroke-width="1.8"/><ellipse cx="547.7" cy="1102.2" rx="10.4" ry="9.8" fill="url(#g1)" stroke="#231815" stroke-width="1.8"/><ellipse cx="566.5" cy="1102.3" rx="10.4" ry="9.8" fill="url(#g1)" stroke="#231815" stroke-width="1.8"/><ellipse cx="586.7" cy="1101.7" rx="10.4" ry="9.8" fill="url(#g1)" stroke="#231815" stroke-width="1.8"/><ellipse cx="606.1" cy="1102.7" rx="10.4" ry="9.8" fill="url(#g1)" stroke="#231815" stroke-width="1.8"/><ellipse cx="624.2" cy="1102.6" rx="10.4" ry="9.8" fill="url(#g1)" stroke="#231815" stroke-width="1.8"/><ellipse cx="644.1" cy="1101.1" rx="10.4" ry="9.8" fill="url(#g1)" stroke="#231815" stroke-width="1.8"/><ellipse cx="663.6" cy="1101.1" rx="10.4" ry="9.8" fill="url(#g1)" stroke="#231815" stroke-width="1.8"/><ellipse cx="684.6" cy="1099.8" rx="10.4" ry="9.8" fill="url(#g1)" stroke="#231815" stroke-width="1.8"/><ellipse cx="703.6" cy="1102.2" rx="10.4" ry="9.8" fill="url(#g1)" stroke="#231815" stroke-width="1.8"/><ellipse cx="721.6" cy="1102.6" rx="10.4" ry="9.8" fill="url(#g1)" stroke="#231815" stroke-width="1.8"/><ellipse cx="742.5" cy="1100.9" rx="10.4" ry="9.8" fill="url(#g1)" stroke="#231815" stroke-width="1.8"/><ellipse cx="760.3" cy="1101.7" rx="10.4" ry="9.8" fill="url(#g1)" stroke="#231815" stroke-width="1.8"/><ellipse cx="780.9" cy="1101.8" rx="10.4" ry="9.8" fill="url(#g1)" stroke="#231815" stroke-width="1.8"/><ellipse cx="800.0" cy="1101.8" rx="10.4" ry="9.8" fill="url(#g1)" stroke="#231815" stroke-width="1.8"/></g>
<g><rect x="1030.0" y="991.0" width="7" height="47" fill="#c3c9e8" opacity="0.45"/><rect x="1028.6" y="1057.5" width="7" height="46" fill="#c3c9e8" opacity="0.45"/><rect x="1048.3" y="991.0" width="7" height="47" fill="#c3c9e8" opacity="0.45"/><rect x="1049.7" y="1057.5" width="7" height="46" fill="#c3c9e8" opacity="0.45"/><rect x="1070.0" y="991.0" width="7" height="47" fill="#c3c9e8" opacity="0.45"/><rect x="1067.9" y="1057.5" width="7" height="46" fill="#c3c9e8" opacity="0.45"/><rect x="1087.9" y="991.0" width="7" height="47" fill="#c3c9e8" opacity="0.45"/><rect x="1086.3" y="1057.5" width="7" height="46" fill="#c3c9e8" opacity="0.45"/><rect x="1110.3" y="991.0" width="7" height="47" fill="#c3c9e8" opacity="0.45"/><rect x="1108.8" y="1057.5" width="7" height="46" fill="#c3c9e8" opacity="0.45"/><rect x="1125.3" y="991.0" width="7" height="47" fill="#c3c9e8" opacity="0.45"/><rect x="1126.8" y="1057.5" width="7" height="46" fill="#c3c9e8" opacity="0.45"/><rect x="1148.6" y="991.0" width="7" height="47" fill="#c3c9e8" opacity="0.45"/><rect x="1145.9" y="1057.5" width="7" height="46" fill="#c3c9e8" opacity="0.45"/><rect x="1166.7" y="991.0" width="7" height="47" fill="#c3c9e8" opacity="0.45"/><rect x="1167.0" y="1057.5" width="7" height="46" fill="#c3c9e8" opacity="0.45"/><rect x="1184.2" y="991.0" width="7" height="47" fill="#c3c9e8" opacity="0.45"/><rect x="1185.9" y="1057.5" width="7" height="46" fill="#c3c9e8" opacity="0.45"/><rect x="1206.3" y="991.0" width="7" height="47" fill="#c3c9e8" opacity="0.45"/><rect x="1204.6" y="1057.5" width="7" height="46" fill="#c3c9e8" opacity="0.45"/><rect x="1225.9" y="991.0" width="7" height="47" fill="#c3c9e8" opacity="0.45"/><rect x="1226.5" y="1057.5" width="7" height="46" fill="#c3c9e8" opacity="0.45"/><rect x="1244.9" y="991.0" width="7" height="47" fill="#c3c9e8" opacity="0.45"/><rect x="1244.1" y="1057.5" width="7" height="46" fill="#c3c9e8" opacity="0.45"/><rect x="1265.6" y="991.0" width="7" height="47" fill="#c3c9e8" opacity="0.45"/><rect x="1264.4" y="1057.5" width="7" height="46" fill="#c3c9e8" opacity="0.45"/><rect x="1284.0" y="991.0" width="7" height="47" fill="#c3c9e8" opacity="0.45"/><rect x="1284.3" y="1057.5" width="7" height="46" fill="#c3c9e8" opacity="0.45"/><rect x="1302.9" y="991.0" width="7" height="47" fill="#c3c9e8" opacity="0.45"/><rect x="1302.2" y="1057.5" width="7" height="46" fill="#c3c9e8" opacity="0.45"/><rect x="1324.5" y="991.0" width="7" height="47" fill="#c3c9e8" opacity="0.45"/><rect x="1322.2" y="1057.5" width="7" height="46" fill="#c3c9e8" opacity="0.45"/><rect x="1341.8" y="991.0" width="7" height="47" fill="#c3c9e8" opacity="0.45"/><rect x="1342.4" y="1057.5" width="7" height="46" fill="#c3c9e8" opacity="0.45"/><rect x="1361.3" y="991.0" width="7" height="47" fill="#c3c9e8" opacity="0.45"/><rect x="1360.7" y="1057.5" width="7" height="46" fill="#c3c9e8" opacity="0.45"/><rect x="1380.4" y="991.0" width="7" height="47" fill="#c3c9e8" opacity="0.45"/><rect x="1381.9" y="1057.5" width="7" height="46" fill="#c3c9e8" opacity="0.45"/><rect x="1400.3" y="991.0" width="7" height="47" fill="#c3c9e8" opacity="0.45"/><rect x="1402.3" y="1057.5" width="7" height="46" fill="#c3c9e8" opacity="0.45"/><rect x="1423.2" y="991.0" width="7" height="47" fill="#c3c9e8" opacity="0.45"/><rect x="1420.8" y="1057.5" width="7" height="46" fill="#c3c9e8" opacity="0.45"/><rect x="1440.9" y="991.0" width="7" height="47" fill="#c3c9e8" opacity="0.45"/><rect x="1439.1" y="1057.5" width="7" height="46" fill="#c3c9e8" opacity="0.45"/><rect x="1460.2" y="991.0" width="7" height="47" fill="#c3c9e8" opacity="0.45"/><rect x="1460.9" y="1057.5" width="7" height="46" fill="#c3c9e8" opacity="0.45"/><rect x="1478.1" y="991.0" width="7" height="47" fill="#c3c9e8" opacity="0.45"/><rect x="1479.3" y="1057.5" width="7" height="46" fill="#c3c9e8" opacity="0.45"/><rect x="1499.7" y="991.0" width="7" height="47" fill="#c3c9e8" opacity="0.45"/><rect x="1500.1" y="1057.5" width="7" height="46" fill="#c3c9e8" opacity="0.45"/><rect x="1518.1" y="991.0" width="7" height="47" fill="#c3c9e8" opacity="0.45"/><rect x="1518.3" y="1057.5" width="7" height="46" fill="#c3c9e8" opacity="0.45"/><rect x="1536.5" y="991.0" width="7" height="47" fill="#c3c9e8" opacity="0.45"/><rect x="1538.2" y="1057.5" width="7" height="46" fill="#c3c9e8" opacity="0.45"/><rect x="1558.0" y="991.0" width="7" height="47" fill="#c3c9e8" opacity="0.45"/><rect x="1556.8" y="1057.5" width="7" height="46" fill="#c3c9e8" opacity="0.45"/><rect x="1576.7" y="991.0" width="7" height="47" fill="#c3c9e8" opacity="0.45"/><rect x="1578.0" y="1057.5" width="7" height="46" fill="#c3c9e8" opacity="0.45"/><rect x="1595.6" y="991.0" width="7" height="47" fill="#c3c9e8" opacity="0.45"/><rect x="1595.0" y="1057.5" width="7" height="46" fill="#c3c9e8" opacity="0.45"/><rect x="1615.4" y="991.0" width="7" height="47" fill="#c3c9e8" opacity="0.45"/><rect x="1614.9" y="1057.5" width="7" height="46" fill="#c3c9e8" opacity="0.45"/><rect x="1636.5" y="991.0" width="7" height="47" fill="#c3c9e8" opacity="0.45"/><rect x="1635.3" y="1057.5" width="7" height="46" fill="#c3c9e8" opacity="0.45"/><rect x="1656.0" y="991.0" width="7" height="47" fill="#c3c9e8" opacity="0.45"/><rect x="1655.7" y="1057.5" width="7" height="46" fill="#c3c9e8" opacity="0.45"/><rect x="1674.4" y="991.0" width="7" height="47" fill="#c3c9e8" opacity="0.45"/><rect x="1675.5" y="1057.5" width="7" height="46" fill="#c3c9e8" opacity="0.45"/><rect x="1695.2" y="991.0" width="7" height="47" fill="#c3c9e8" opacity="0.45"/><rect x="1694.5" y="1057.5" width="7" height="46" fill="#c3c9e8" opacity="0.45"/><rect x="1712.0" y="991.0" width="7" height="47" fill="#c3c9e8" opacity="0.45"/><rect x="1713.8" y="1057.5" width="7" height="46" fill="#c3c9e8" opacity="0.45"/><rect x="1734.8" y="991.0" width="7" height="47" fill="#c3c9e8" opacity="0.45"/><rect x="1733.0" y="1057.5" width="7" height="46" fill="#c3c9e8" opacity="0.45"/><rect x="1755.0" y="991.0" width="7" height="47" fill="#c3c9e8" opacity="0.45"/><rect x="1753.1" y="1057.5" width="7" height="46" fill="#c3c9e8" opacity="0.45"/><rect x="1772.9" y="991.0" width="7" height="47" fill="#c3c9e8" opacity="0.45"/><rect x="1773.6" y="1057.5" width="7" height="46" fill="#c3c9e8" opacity="0.45"/><path d="M1035.5,988.7 C1035.5,993.9 1031.2,993.9 1031.2,999.2 C1031.2,1005.5 1035.2,1005.5 1035.2,1011.7 C1035.2,1017.9 1031.4,1017.9 1031.4,1024.2 C1031.4,1030.4 1035.0,1030.4 1035.0,1036.7  M1034.1,1104.1 C1034.1,1099.0 1029.8,1099.0 1029.8,1093.8 C1029.8,1087.7 1033.8,1087.7 1033.8,1081.6 C1033.8,1075.5 1030.0,1075.5 1030.0,1069.4 C1030.0,1063.2 1033.6,1063.2 1033.6,1057.1  M1053.8,989.8 C1053.8,995.1 1049.5,995.1 1049.5,1000.3 C1049.5,1006.6 1053.5,1006.6 1053.5,1012.8 C1053.5,1019.1 1049.7,1019.1 1049.7,1025.3 C1049.7,1031.5 1053.3,1031.5 1053.3,1037.8  M1055.2,1105.7 C1055.2,1100.5 1050.9,1100.5 1050.9,1095.4 C1050.9,1089.3 1054.9,1089.3 1054.9,1083.2 C1054.9,1077.0 1051.1,1077.0 1051.1,1070.9 C1051.1,1064.8 1054.7,1064.8 1054.7,1058.7  M1075.5,988.9 C1075.5,994.1 1071.2,994.1 1071.2,999.4 C1071.2,1005.7 1075.2,1005.7 1075.2,1011.9 C1075.2,1018.1 1071.4,1018.1 1071.4,1024.4 C1071.4,1030.6 1075.0,1030.6 1075.0,1036.9  M1073.4,1104.7 C1073.4,1099.6 1069.1,1099.6 1069.1,1094.4 C1069.1,1088.3 1073.1,1088.3 1073.1,1082.2 C1073.1,1076.1 1069.3,1076.1 1069.3,1070.0 C1069.3,1063.8 1072.9,1063.8 1072.9,1057.7  M1093.4,988.5 C1093.4,993.8 1089.1,993.8 1089.1,999.1 C1089.1,1005.3 1093.1,1005.3 1093.1,1011.6 C1093.1,1017.8 1089.3,1017.8 1089.3,1024.0 C1089.3,1030.3 1092.9,1030.3 1092.9,1036.5  M1091.8,1103.3 C1091.8,1098.1 1087.5,1098.1 1087.5,1092.9 C1087.5,1086.8 1091.5,1086.8 1091.5,1080.7 C1091.5,1074.6 1087.7,1074.6 1087.7,1068.5 C1087.7,1062.4 1091.3,1062.4 1091.3,1056.3  M1115.8,988.8 C1115.8,994.0 1111.5,994.0 1111.5,999.3 C1111.5,1005.6 1115.5,1005.6 1115.5,1011.8 C1115.5,1018.0 1111.7,1018.0 1111.7,1024.3 C1111.7,1030.5 1115.3,1030.5 1115.3,1036.8  M1114.3,1104.5 C1114.3,1099.3 1110.0,1099.3 1110.0,1094.2 C1110.0,1088.0 1114.0,1088.0 1114.0,1081.9 C1114.0,1075.8 1110.2,1075.8 1110.2,1069.7 C1110.2,1063.6 1113.8,1063.6 1113.8,1057.5  M1130.8,989.7 C1130.8,995.0 1126.5,995.0 1126.5,1000.3 C1126.5,1006.5 1130.5,1006.5 1130.5,1012.7 C1130.5,1019.0 1126.7,1019.0 1126.7,1025.2 C1126.7,1031.5 1130.3,1031.5 1130.3,1037.7  M1132.3,1104.9 C1132.3,1099.7 1128.0,1099.7 1128.0,1094.6 C1128.0,1088.5 1132.0,1088.5 1132.0,1082.4 C1132.0,1076.2 1128.2,1076.2 1128.2,1070.1 C1128.2,1064.0 1131.8,1064.0 1131.8,1057.9  M1154.1,989.0 C1154.1,994.3 1149.8,994.3 1149.8,999.6 C1149.8,1005.8 1153.8,1005.8 1153.8,1012.1 C1153.8,1018.3 1150.0,1018.3 1150.0,1024.5 C1150.0,1030.8 1153.6,1030.8 1153.6,1037.0  M1151.4,1104.8 C1151.4,1099.7 1147.1,1099.7 1147.1,1094.5 C1147.1,1088.4 1151.1,1088.4 1151.1,1082.3 C1151.1,1076.2 1147.3,1076.2 1147.3,1070.0 C1147.3,1063.9 1150.9,1063.9 1150.9,1057.8  M1172.2,990.2 C1172.2,995.4 1167.9,995.4 1167.9,1000.7 C1167.9,1007.0 1171.9,1007.0 1171.9,1013.2 C1171.9,1019.4 1168.1,1019.4 1168.1,1025.7 C1168.1,1031.9 1171.7,1031.9 1171.7,1038.2  M1172.5,1104.8 C1172.5,1099.6 1168.2,1099.6 1168.2,1094.5 C1168.2,1088.4 1172.2,1088.4 1172.2,1082.3 C1172.2,1076.1 1168.4,1076.1 1168.4,1070.0 C1168.4,1063.9 1172.0,1063.9 1172.0,1057.8  M1189.7,991.5 C1189.7,996.8 1185.4,996.8 1185.4,1002.0 C1185.4,1008.3 1189.4,1008.3 1189.4,1014.5 C1189.4,1020.8 1185.6,1020.8 1185.6,1027.0 C1185.6,1033.2 1189.2,1033.2 1189.2,1039.5  M1191.4,1106.0 C1191.4,1100.8 1187.1,1100.8 1187.1,1095.7 C1187.1,1089.5 1191.1,1089.5 1191.1,1083.4 C1191.1,1077.3 1187.3,1077.3 1187.3,1071.2 C1187.3,1065.1 1190.9,1065.1 1190.9,1059.0  M1211.8,991.4 C1211.8,996.6 1207.5,996.6 1207.5,1001.9 C1207.5,1008.2 1211.5,1008.2 1211.5,1014.4 C1211.5,1020.6 1207.7,1020.6 1207.7,1026.9 C1207.7,1033.1 1211.3,1033.1 1211.3,1039.4  M1210.1,1103.7 C1210.1,1098.5 1205.8,1098.5 1205.8,1093.4 C1205.8,1087.3 1209.8,1087.3 1209.8,1081.2 C1209.8,1075.0 1206.0,1075.0 1206.0,1068.9 C1206.0,1062.8 1209.6,1062.8 1209.6,1056.7  M1231.4,989.6 C1231.4,994.9 1227.1,994.9 1227.1,1000.2 C1227.1,1006.4 1231.1,1006.4 1231.1,1012.6 C1231.1,1018.9 1227.3,1018.9 1227.3,1025.1 C1227.3,1031.4 1230.9,1031.4 1230.9,1037.6  M1232.0,1105.0 C1232.0,1099.9 1227.7,1099.9 1227.7,1094.7 C1227.7,1088.6 1231.7,1088.6 1231.7,1082.5 C1231.7,1076.4 1227.9,1076.4 1227.9,1070.2 C1227.9,1064.1 1231.5,1064.1 1231.5,1058.0  M1250.4,988.8 C1250.4,994.0 1246.1,994.0 1246.1,999.3 C1246.1,1005.6 1250.1,1005.6 1250.1,1011.8 C1250.1,1018.0 1246.3,1018.0 1246.3,1024.3 C1246.3,1030.5 1249.9,1030.5 1249.9,1036.8  M1249.6,1104.0 C1249.6,1098.9 1245.3,1098.9 1245.3,1093.7 C1245.3,1087.6 1249.3,1087.6 1249.3,1081.5 C1249.3,1075.4 1245.5,1075.4 1245.5,1069.3 C1245.5,1063.2 1249.1,1063.2 1249.1,1057.0  M1271.1,989.9 C1271.1,995.1 1266.8,995.1 1266.8,1000.4 C1266.8,1006.7 1270.8,1006.7 1270.8,1012.9 C1270.8,1019.1 1267.0,1019.1 1267.0,1025.4 C1267.0,1031.6 1270.6,1031.6 1270.6,1037.9  M1269.9,1104.2 C1269.9,1099.0 1265.6,1099.0 1265.6,1093.9 C1265.6,1087.8 1269.6,1087.8 1269.6,1081.6 C1269.6,1075.5 1265.8,1075.5 1265.8,1069.4 C1265.8,1063.3 1269.4,1063.3 1269.4,1057.2  M1289.5,988.6 C1289.5,993.8 1285.2,993.8 1285.2,999.1 C1285.2,1005.4 1289.2,1005.4 1289.2,1011.6 C1289.2,1017.8 1285.4,1017.8 1285.4,1024.1 C1285.4,1030.3 1289.0,1030.3 1289.0,1036.6  M1289.8,1105.4 C1289.8,1100.2 1285.5,1100.2 1285.5,1095.1 C1285.5,1088.9 1289.5,1088.9 1289.5,1082.8 C1289.5,1076.7 1285.7,1076.7 1285.7,1070.6 C1285.7,1064.5 1289.3,1064.5 1289.3,1058.4  M1308.4,989.1 C1308.4,994.4 1304.1,994.4 1304.1,999.7 C1304.1,1005.9 1308.1,1005.9 1308.1,1012.2 C1308.1,1018.4 1304.3,1018.4 1304.3,1024.7 C1304.3,1030.9 1307.9,1030.9 1307.9,1037.1  M1307.7,1104.3 C1307.7,1099.2 1303.4,1099.2 1303.4,1094.0 C1303.4,1087.9 1307.4,1087.9 1307.4,1081.8 C1307.4,1075.7 1303.6,1075.7 1303.6,1069.6 C1303.6,1063.4 1307.2,1063.4 1307.2,1057.3  M1330.0,990.4 C1330.0,995.7 1325.7,995.7 1325.7,1000.9 C1325.7,1007.2 1329.7,1007.2 1329.7,1013.4 C1329.7,1019.7 1325.9,1019.7 1325.9,1025.9 C1325.9,1032.1 1329.5,1032.1 1329.5,1038.4  M1327.7,1103.3 C1327.7,1098.1 1323.4,1098.1 1323.4,1093.0 C1323.4,1086.9 1327.4,1086.9 1327.4,1080.7 C1327.4,1074.6 1323.6,1074.6 1323.6,1068.5 C1323.6,1062.4 1327.2,1062.4 1327.2,1056.3  M1347.3,990.8 C1347.3,996.1 1343.0,996.1 1343.0,1001.4 C1343.0,1007.6 1347.0,1007.6 1347.0,1013.9 C1347.0,1020.1 1343.2,1020.1 1343.2,1026.4 C1343.2,1032.6 1346.8,1032.6 1346.8,1038.8  M1347.9,1105.4 C1347.9,1100.3 1343.6,1100.3 1343.6,1095.1 C1343.6,1089.0 1347.6,1089.0 1347.6,1082.9 C1347.6,1076.8 1343.8,1076.8 1343.8,1070.6 C1343.8,1064.5 1347.4,1064.5 1347.4,1058.4  M1366.8,989.2 C1366.8,994.5 1362.5,994.5 1362.5,999.8 C1362.5,1006.0 1366.5,1006.0 1366.5,1012.3 C1366.5,1018.5 1362.7,1018.5 1362.7,1024.8 C1362.7,1031.0 1366.3,1031.0 1366.3,1037.2  M1366.2,1105.2 C1366.2,1100.0 1361.9,1100.0 1361.9,1094.9 C1361.9,1088.8 1365.9,1088.8 1365.9,1082.7 C1365.9,1076.5 1362.1,1076.5 1362.1,1070.4 C1362.1,1064.3 1365.7,1064.3 1365.7,1058.2  M1385.9,991.4 C1385.9,996.7 1381.6,996.7 1381.6,1002.0 C1381.6,1008.2 1385.6,1008.2 1385.6,1014.4 C1385.6,1020.7 1381.8,1020.7 1381.8,1026.9 C1381.8,1033.2 1385.4,1033.2 1385.4,1039.4  M1387.4,1104.2 C1387.4,1099.0 1383.1,1099.0 1383.1,1093.9 C1383.1,1087.8 1387.1,1087.8 1387.1,1081.6 C1387.1,1075.5 1383.3,1075.5 1383.3,1069.4 C1383.3,1063.3 1386.9,1063.3 1386.9,1057.2  M1405.8,989.6 C1405.8,994.9 1401.5,994.9 1401.5,1000.2 C1401.5,1006.4 1405.5,1006.4 1405.5,1012.6 C1405.5,1018.9 1401.7,1018.9 1401.7,1025.1 C1401.7,1031.4 1405.3,1031.4 1405.3,1037.6  M1407.8,1105.0 C1407.8,1099.8 1403.5,1099.8 1403.5,1094.7 C1403.5,1088.6 1407.5,1088.6 1407.5,1082.4 C1407.5,1076.3 1403.7,1076.3 1403.7,1070.2 C1403.7,1064.1 1407.3,1064.1 1407.3,1058.0  M1428.7,989.3 C1428.7,994.6 1424.4,994.6 1424.4,999.8 C1424.4,1006.1 1428.4,1006.1 1428.4,1012.3 C1428.4,1018.6 1424.6,1018.6 1424.6,1024.8 C1424.6,1031.0 1428.2,1031.0 1428.2,1037.3  M1426.3,1103.2 C1426.3,1098.0 1422.0,1098.0 1422.0,1092.8 C1422.0,1086.7 1426.0,1086.7 1426.0,1080.6 C1426.0,1074.5 1422.2,1074.5 1422.2,1068.4 C1422.2,1062.3 1425.8,1062.3 1425.8,1056.2  M1446.4,991.3 C1446.4,996.6 1442.1,996.6 1442.1,1001.9 C1442.1,1008.1 1446.1,1008.1 1446.1,1014.4 C1446.1,1020.6 1442.3,1020.6 1442.3,1026.9 C1442.3,1033.1 1445.9,1033.1 1445.9,1039.3  M1444.6,1106.0 C1444.6,1100.8 1440.3,1100.8 1440.3,1095.6 C1440.3,1089.5 1444.3,1089.5 1444.3,1083.4 C1444.3,1077.3 1440.5,1077.3 1440.5,1071.2 C1440.5,1065.1 1444.1,1065.1 1444.1,1059.0  M1465.7,988.7 C1465.7,994.0 1461.4,994.0 1461.4,999.2 C1461.4,1005.5 1465.4,1005.5 1465.4,1011.7 C1465.4,1018.0 1461.6,1018.0 1461.6,1024.2 C1461.6,1030.4 1465.2,1030.4 1465.2,1036.7  M1466.4,1103.6 C1466.4,1098.5 1462.1,1098.5 1462.1,1093.3 C1462.1,1087.2 1466.1,1087.2 1466.1,1081.1 C1466.1,1075.0 1462.3,1075.0 1462.3,1068.8 C1462.3,1062.7 1465.9,1062.7 1465.9,1056.6  M1483.6,991.4 C1483.6,996.7 1479.3,996.7 1479.3,1002.0 C1479.3,1008.2 1483.3,1008.2 1483.3,1014.4 C1483.3,1020.7 1479.5,1020.7 1479.5,1026.9 C1479.5,1033.2 1483.1,1033.2 1483.1,1039.4  M1484.8,1104.1 C1484.8,1098.9 1480.5,1098.9 1480.5,1093.7 C1480.5,1087.6 1484.5,1087.6 1484.5,1081.5 C1484.5,1075.4 1480.7,1075.4 1480.7,1069.3 C1480.7,1063.2 1484.3,1063.2 1484.3,1057.1  M1505.2,988.9 C1505.2,994.2 1500.9,994.2 1500.9,999.5 C1500.9,1005.7 1504.9,1005.7 1504.9,1012.0 C1504.9,1018.2 1501.1,1018.2 1501.1,1024.4 C1501.1,1030.7 1504.7,1030.7 1504.7,1036.9  M1505.6,1103.3 C1505.6,1098.1 1501.3,1098.1 1501.3,1092.9 C1501.3,1086.8 1505.3,1086.8 1505.3,1080.7 C1505.3,1074.6 1501.5,1074.6 1501.5,1068.5 C1501.5,1062.4 1505.1,1062.4 1505.1,1056.3  M1523.6,988.7 C1523.6,994.0 1519.3,994.0 1519.3,999.3 C1519.3,1005.5 1523.3,1005.5 1523.3,1011.7 C1523.3,1018.0 1519.5,1018.0 1519.5,1024.2 C1519.5,1030.5 1523.1,1030.5 1523.1,1036.7  M1523.8,1104.4 C1523.8,1099.2 1519.5,1099.2 1519.5,1094.0 C1519.5,1087.9 1523.5,1087.9 1523.5,1081.8 C1523.5,1075.7 1519.7,1075.7 1519.7,1069.6 C1519.7,1063.5 1523.3,1063.5 1523.3,1057.4  M1542.0,989.6 C1542.0,994.9 1537.7,994.9 1537.7,1000.2 C1537.7,1006.4 1541.7,1006.4 1541.7,1012.7 C1541.7,1018.9 1537.9,1018.9 1537.9,1025.2 C1537.9,1031.4 1541.5,1031.4 1541.5,1037.6  M1543.7,1105.7 C1543.7,1100.5 1539.4,1100.5 1539.4,1095.3 C1539.4,1089.2 1543.4,1089.2 1543.4,1083.1 C1543.4,1077.0 1539.6,1077.0 1539.6,1070.9 C1539.6,1064.8 1543.2,1064.8 1543.2,1058.7  M1563.5,990.8 C1563.5,996.1 1559.2,996.1 1559.2,1001.4 C1559.2,1007.6 1563.2,1007.6 1563.2,1013.9 C1563.2,1020.1 1559.4,1020.1 1559.4,1026.3 C1559.4,1032.6 1563.0,1032.6 1563.0,1038.8  M1562.3,1105.6 C1562.3,1100.5 1558.0,1100.5 1558.0,1095.3 C1558.0,1089.2 1562.0,1089.2 1562.0,1083.1 C1562.0,1077.0 1558.2,1077.0 1558.2,1070.9 C1558.2,1064.8 1561.8,1064.8 1561.8,1058.6  M1582.2,988.6 C1582.2,993.9 1577.9,993.9 1577.9,999.2 C1577.9,1005.4 1581.9,1005.4 1581.9,1011.7 C1581.9,1017.9 1578.1,1017.9 1578.1,1024.2 C1578.1,1030.4 1581.7,1030.4 1581.7,1036.6  M1583.5,1104.6 C1583.5,1099.4 1579.2,1099.4 1579.2,1094.2 C1579.2,1088.1 1583.2,1088.1 1583.2,1082.0 C1583.2,1075.9 1579.4,1075.9 1579.4,1069.8 C1579.4,1063.7 1583.0,1063.7 1583.0,1057.6  M1601.1,988.8 C1601.1,994.0 1596.8,994.0 1596.8,999.3 C1596.8,1005.6 1600.8,1005.6 1600.8,1011.8 C1600.8,1018.0 1597.0,1018.0 1597.0,1024.3 C1597.0,1030.5 1600.6,1030.5 1600.6,1036.8  M1600.5,1105.3 C1600.5,1100.2 1596.2,1100.2 1596.2,1095.0 C1596.2,1088.9 1600.2,1088.9 1600.2,1082.8 C1600.2,1076.7 1596.4,1076.7 1596.4,1070.6 C1596.4,1064.5 1600.0,1064.5 1600.0,1058.3  M1620.9,989.0 C1620.9,994.3 1616.6,994.3 1616.6,999.6 C1616.6,1005.8 1620.6,1005.8 1620.6,1012.1 C1620.6,1018.3 1616.8,1018.3 1616.8,1024.5 C1616.8,1030.8 1620.4,1030.8 1620.4,1037.0  M1620.4,1104.4 C1620.4,1099.2 1616.1,1099.2 1616.1,1094.0 C1616.1,1087.9 1620.1,1087.9 1620.1,1081.8 C1620.1,1075.7 1616.3,1075.7 1616.3,1069.6 C1616.3,1063.5 1619.9,1063.5 1619.9,1057.4  M1642.0,989.0 C1642.0,994.3 1637.7,994.3 1637.7,999.6 C1637.7,1005.8 1641.7,1005.8 1641.7,1012.1 C1641.7,1018.3 1637.9,1018.3 1637.9,1024.5 C1637.9,1030.8 1641.5,1030.8 1641.5,1037.0  M1640.8,1104.4 C1640.8,1099.3 1636.5,1099.3 1636.5,1094.1 C1636.5,1088.0 1640.5,1088.0 1640.5,1081.9 C1640.5,1075.8 1636.7,1075.8 1636.7,1069.7 C1636.7,1063.6 1640.3,1063.6 1640.3,1057.4  M1661.5,991.3 C1661.5,996.6 1657.2,996.6 1657.2,1001.9 C1657.2,1008.1 1661.2,1008.1 1661.2,1014.4 C1661.2,1020.6 1657.4,1020.6 1657.4,1026.8 C1657.4,1033.1 1661.0,1033.1 1661.0,1039.3  M1661.2,1103.1 C1661.2,1097.9 1656.9,1097.9 1656.9,1092.7 C1656.9,1086.6 1660.9,1086.6 1660.9,1080.5 C1660.9,1074.4 1657.1,1074.4 1657.1,1068.3 C1657.1,1062.2 1660.7,1062.2 1660.7,1056.1  M1679.9,990.1 C1679.9,995.4 1675.6,995.4 1675.6,1000.7 C1675.6,1006.9 1679.6,1006.9 1679.6,1013.2 C1679.6,1019.4 1675.8,1019.4 1675.8,1025.7 C1675.8,1031.9 1679.4,1031.9 1679.4,1038.1  M1681.0,1104.6 C1681.0,1099.4 1676.7,1099.4 1676.7,1094.2 C1676.7,1088.1 1680.7,1088.1 1680.7,1082.0 C1680.7,1075.9 1676.9,1075.9 1676.9,1069.8 C1676.9,1063.7 1680.5,1063.7 1680.5,1057.6  M1700.7,988.7 C1700.7,994.0 1696.4,994.0 1696.4,999.3 C1696.4,1005.5 1700.4,1005.5 1700.4,1011.7 C1700.4,1018.0 1696.6,1018.0 1696.6,1024.2 C1696.6,1030.5 1700.2,1030.5 1700.2,1036.7  M1700.0,1104.9 C1700.0,1099.8 1695.7,1099.8 1695.7,1094.6 C1695.7,1088.5 1699.7,1088.5 1699.7,1082.4 C1699.7,1076.3 1695.9,1076.3 1695.9,1070.1 C1695.9,1064.0 1699.5,1064.0 1699.5,1057.9  M1717.5,990.7 C1717.5,996.0 1713.2,996.0 1713.2,1001.2 C1713.2,1007.5 1717.2,1007.5 1717.2,1013.7 C1717.2,1020.0 1713.4,1020.0 1713.4,1026.2 C1713.4,1032.4 1717.0,1032.4 1717.0,1038.7  M1719.3,1105.2 C1719.3,1100.0 1715.0,1100.0 1715.0,1094.8 C1715.0,1088.7 1719.0,1088.7 1719.0,1082.6 C1719.0,1076.5 1715.2,1076.5 1715.2,1070.4 C1715.2,1064.3 1718.8,1064.3 1718.8,1058.2  M1740.3,989.9 C1740.3,995.1 1736.0,995.1 1736.0,1000.4 C1736.0,1006.7 1740.0,1006.7 1740.0,1012.9 C1740.0,1019.1 1736.2,1019.1 1736.2,1025.4 C1736.2,1031.6 1739.8,1031.6 1739.8,1037.9  M1738.5,1104.5 C1738.5,1099.3 1734.2,1099.3 1734.2,1094.1 C1734.2,1088.0 1738.2,1088.0 1738.2,1081.9 C1738.2,1075.8 1734.4,1075.8 1734.4,1069.7 C1734.4,1063.6 1738.0,1063.6 1738.0,1057.5  M1760.5,990.3 C1760.5,995.6 1756.2,995.6 1756.2,1000.9 C1756.2,1007.1 1760.2,1007.1 1760.2,1013.3 C1760.2,1019.6 1756.4,1019.6 1756.4,1025.8 C1756.4,1032.1 1760.0,1032.1 1760.0,1038.3  M1758.6,1104.1 C1758.6,1098.9 1754.3,1098.9 1754.3,1093.8 C1754.3,1087.7 1758.3,1087.7 1758.3,1081.6 C1758.3,1075.4 1754.5,1075.4 1754.5,1069.3 C1754.5,1063.2 1758.1,1063.2 1758.1,1057.1  M1778.4,991.0 C1778.4,996.2 1774.1,996.2 1774.1,1001.5 C1774.1,1007.8 1778.1,1007.8 1778.1,1014.0 C1778.1,1020.2 1774.3,1020.2 1774.3,1026.5 C1774.3,1032.7 1777.9,1032.7 1777.9,1039.0  M1779.1,1105.2 C1779.1,1100.0 1774.8,1100.0 1774.8,1094.8 C1774.8,1088.7 1778.8,1088.7 1778.8,1082.6 C1778.8,1076.5 1775.0,1076.5 1775.0,1070.4 C1775.0,1064.3 1778.6,1064.3 1778.6,1058.2 " fill="none" stroke="#231815" stroke-width="4.6"/><path d="M1035.5,988.7 C1035.5,993.9 1031.2,993.9 1031.2,999.2 C1031.2,1005.5 1035.2,1005.5 1035.2,1011.7 C1035.2,1017.9 1031.4,1017.9 1031.4,1024.2 C1031.4,1030.4 1035.0,1030.4 1035.0,1036.7  M1034.1,1104.1 C1034.1,1099.0 1029.8,1099.0 1029.8,1093.8 C1029.8,1087.7 1033.8,1087.7 1033.8,1081.6 C1033.8,1075.5 1030.0,1075.5 1030.0,1069.4 C1030.0,1063.2 1033.6,1063.2 1033.6,1057.1  M1053.8,989.8 C1053.8,995.1 1049.5,995.1 1049.5,1000.3 C1049.5,1006.6 1053.5,1006.6 1053.5,1012.8 C1053.5,1019.1 1049.7,1019.1 1049.7,1025.3 C1049.7,1031.5 1053.3,1031.5 1053.3,1037.8  M1055.2,1105.7 C1055.2,1100.5 1050.9,1100.5 1050.9,1095.4 C1050.9,1089.3 1054.9,1089.3 1054.9,1083.2 C1054.9,1077.0 1051.1,1077.0 1051.1,1070.9 C1051.1,1064.8 1054.7,1064.8 1054.7,1058.7  M1075.5,988.9 C1075.5,994.1 1071.2,994.1 1071.2,999.4 C1071.2,1005.7 1075.2,1005.7 1075.2,1011.9 C1075.2,1018.1 1071.4,1018.1 1071.4,1024.4 C1071.4,1030.6 1075.0,1030.6 1075.0,1036.9  M1073.4,1104.7 C1073.4,1099.6 1069.1,1099.6 1069.1,1094.4 C1069.1,1088.3 1073.1,1088.3 1073.1,1082.2 C1073.1,1076.1 1069.3,1076.1 1069.3,1070.0 C1069.3,1063.8 1072.9,1063.8 1072.9,1057.7  M1093.4,988.5 C1093.4,993.8 1089.1,993.8 1089.1,999.1 C1089.1,1005.3 1093.1,1005.3 1093.1,1011.6 C1093.1,1017.8 1089.3,1017.8 1089.3,1024.0 C1089.3,1030.3 1092.9,1030.3 1092.9,1036.5  M1091.8,1103.3 C1091.8,1098.1 1087.5,1098.1 1087.5,1092.9 C1087.5,1086.8 1091.5,1086.8 1091.5,1080.7 C1091.5,1074.6 1087.7,1074.6 1087.7,1068.5 C1087.7,1062.4 1091.3,1062.4 1091.3,1056.3  M1115.8,988.8 C1115.8,994.0 1111.5,994.0 1111.5,999.3 C1111.5,1005.6 1115.5,1005.6 1115.5,1011.8 C1115.5,1018.0 1111.7,1018.0 1111.7,1024.3 C1111.7,1030.5 1115.3,1030.5 1115.3,1036.8  M1114.3,1104.5 C1114.3,1099.3 1110.0,1099.3 1110.0,1094.2 C1110.0,1088.0 1114.0,1088.0 1114.0,1081.9 C1114.0,1075.8 1110.2,1075.8 1110.2,1069.7 C1110.2,1063.6 1113.8,1063.6 1113.8,1057.5  M1130.8,989.7 C1130.8,995.0 1126.5,995.0 1126.5,1000.3 C1126.5,1006.5 1130.5,1006.5 1130.5,1012.7 C1130.5,1019.0 1126.7,1019.0 1126.7,1025.2 C1126.7,1031.5 1130.3,1031.5 1130.3,1037.7  M1132.3,1104.9 C1132.3,1099.7 1128.0,1099.7 1128.0,1094.6 C1128.0,1088.5 1132.0,1088.5 1132.0,1082.4 C1132.0,1076.2 1128.2,1076.2 1128.2,1070.1 C1128.2,1064.0 1131.8,1064.0 1131.8,1057.9  M1154.1,989.0 C1154.1,994.3 1149.8,994.3 1149.8,999.6 C1149.8,1005.8 1153.8,1005.8 1153.8,1012.1 C1153.8,1018.3 1150.0,1018.3 1150.0,1024.5 C1150.0,1030.8 1153.6,1030.8 1153.6,1037.0  M1151.4,1104.8 C1151.4,1099.7 1147.1,1099.7 1147.1,1094.5 C1147.1,1088.4 1151.1,1088.4 1151.1,1082.3 C1151.1,1076.2 1147.3,1076.2 1147.3,1070.0 C1147.3,1063.9 1150.9,1063.9 1150.9,1057.8  M1172.2,990.2 C1172.2,995.4 1167.9,995.4 1167.9,1000.7 C1167.9,1007.0 1171.9,1007.0 1171.9,1013.2 C1171.9,1019.4 1168.1,1019.4 1168.1,1025.7 C1168.1,1031.9 1171.7,1031.9 1171.7,1038.2  M1172.5,1104.8 C1172.5,1099.6 1168.2,1099.6 1168.2,1094.5 C1168.2,1088.4 1172.2,1088.4 1172.2,1082.3 C1172.2,1076.1 1168.4,1076.1 1168.4,1070.0 C1168.4,1063.9 1172.0,1063.9 1172.0,1057.8  M1189.7,991.5 C1189.7,996.8 1185.4,996.8 1185.4,1002.0 C1185.4,1008.3 1189.4,1008.3 1189.4,1014.5 C1189.4,1020.8 1185.6,1020.8 1185.6,1027.0 C1185.6,1033.2 1189.2,1033.2 1189.2,1039.5  M1191.4,1106.0 C1191.4,1100.8 1187.1,1100.8 1187.1,1095.7 C1187.1,1089.5 1191.1,1089.5 1191.1,1083.4 C1191.1,1077.3 1187.3,1077.3 1187.3,1071.2 C1187.3,1065.1 1190.9,1065.1 1190.9,1059.0  M1211.8,991.4 C1211.8,996.6 1207.5,996.6 1207.5,1001.9 C1207.5,1008.2 1211.5,1008.2 1211.5,1014.4 C1211.5,1020.6 1207.7,1020.6 1207.7,1026.9 C1207.7,1033.1 1211.3,1033.1 1211.3,1039.4  M1210.1,1103.7 C1210.1,1098.5 1205.8,1098.5 1205.8,1093.4 C1205.8,1087.3 1209.8,1087.3 1209.8,1081.2 C1209.8,1075.0 1206.0,1075.0 1206.0,1068.9 C1206.0,1062.8 1209.6,1062.8 1209.6,1056.7  M1231.4,989.6 C1231.4,994.9 1227.1,994.9 1227.1,1000.2 C1227.1,1006.4 1231.1,1006.4 1231.1,1012.6 C1231.1,1018.9 1227.3,1018.9 1227.3,1025.1 C1227.3,1031.4 1230.9,1031.4 1230.9,1037.6  M1232.0,1105.0 C1232.0,1099.9 1227.7,1099.9 1227.7,1094.7 C1227.7,1088.6 1231.7,1088.6 1231.7,1082.5 C1231.7,1076.4 1227.9,1076.4 1227.9,1070.2 C1227.9,1064.1 1231.5,1064.1 1231.5,1058.0  M1250.4,988.8 C1250.4,994.0 1246.1,994.0 1246.1,999.3 C1246.1,1005.6 1250.1,1005.6 1250.1,1011.8 C1250.1,1018.0 1246.3,1018.0 1246.3,1024.3 C1246.3,1030.5 1249.9,1030.5 1249.9,1036.8  M1249.6,1104.0 C1249.6,1098.9 1245.3,1098.9 1245.3,1093.7 C1245.3,1087.6 1249.3,1087.6 1249.3,1081.5 C1249.3,1075.4 1245.5,1075.4 1245.5,1069.3 C1245.5,1063.2 1249.1,1063.2 1249.1,1057.0  M1271.1,989.9 C1271.1,995.1 1266.8,995.1 1266.8,1000.4 C1266.8,1006.7 1270.8,1006.7 1270.8,1012.9 C1270.8,1019.1 1267.0,1019.1 1267.0,1025.4 C1267.0,1031.6 1270.6,1031.6 1270.6,1037.9  M1269.9,1104.2 C1269.9,1099.0 1265.6,1099.0 1265.6,1093.9 C1265.6,1087.8 1269.6,1087.8 1269.6,1081.6 C1269.6,1075.5 1265.8,1075.5 1265.8,1069.4 C1265.8,1063.3 1269.4,1063.3 1269.4,1057.2  M1289.5,988.6 C1289.5,993.8 1285.2,993.8 1285.2,999.1 C1285.2,1005.4 1289.2,1005.4 1289.2,1011.6 C1289.2,1017.8 1285.4,1017.8 1285.4,1024.1 C1285.4,1030.3 1289.0,1030.3 1289.0,1036.6  M1289.8,1105.4 C1289.8,1100.2 1285.5,1100.2 1285.5,1095.1 C1285.5,1088.9 1289.5,1088.9 1289.5,1082.8 C1289.5,1076.7 1285.7,1076.7 1285.7,1070.6 C1285.7,1064.5 1289.3,1064.5 1289.3,1058.4  M1308.4,989.1 C1308.4,994.4 1304.1,994.4 1304.1,999.7 C1304.1,1005.9 1308.1,1005.9 1308.1,1012.2 C1308.1,1018.4 1304.3,1018.4 1304.3,1024.7 C1304.3,1030.9 1307.9,1030.9 1307.9,1037.1  M1307.7,1104.3 C1307.7,1099.2 1303.4,1099.2 1303.4,1094.0 C1303.4,1087.9 1307.4,1087.9 1307.4,1081.8 C1307.4,1075.7 1303.6,1075.7 1303.6,1069.6 C1303.6,1063.4 1307.2,1063.4 1307.2,1057.3  M1330.0,990.4 C1330.0,995.7 1325.7,995.7 1325.7,1000.9 C1325.7,1007.2 1329.7,1007.2 1329.7,1013.4 C1329.7,1019.7 1325.9,1019.7 1325.9,1025.9 C1325.9,1032.1 1329.5,1032.1 1329.5,1038.4  M1327.7,1103.3 C1327.7,1098.1 1323.4,1098.1 1323.4,1093.0 C1323.4,1086.9 1327.4,1086.9 1327.4,1080.7 C1327.4,1074.6 1323.6,1074.6 1323.6,1068.5 C1323.6,1062.4 1327.2,1062.4 1327.2,1056.3  M1347.3,990.8 C1347.3,996.1 1343.0,996.1 1343.0,1001.4 C1343.0,1007.6 1347.0,1007.6 1347.0,1013.9 C1347.0,1020.1 1343.2,1020.1 1343.2,1026.4 C1343.2,1032.6 1346.8,1032.6 1346.8,1038.8  M1347.9,1105.4 C1347.9,1100.3 1343.6,1100.3 1343.6,1095.1 C1343.6,1089.0 1347.6,1089.0 1347.6,1082.9 C1347.6,1076.8 1343.8,1076.8 1343.8,1070.6 C1343.8,1064.5 1347.4,1064.5 1347.4,1058.4  M1366.8,989.2 C1366.8,994.5 1362.5,994.5 1362.5,999.8 C1362.5,1006.0 1366.5,1006.0 1366.5,1012.3 C1366.5,1018.5 1362.7,1018.5 1362.7,1024.8 C1362.7,1031.0 1366.3,1031.0 1366.3,1037.2  M1366.2,1105.2 C1366.2,1100.0 1361.9,1100.0 1361.9,1094.9 C1361.9,1088.8 1365.9,1088.8 1365.9,1082.7 C1365.9,1076.5 1362.1,1076.5 1362.1,1070.4 C1362.1,1064.3 1365.7,1064.3 1365.7,1058.2  M1385.9,991.4 C1385.9,996.7 1381.6,996.7 1381.6,1002.0 C1381.6,1008.2 1385.6,1008.2 1385.6,1014.4 C1385.6,1020.7 1381.8,1020.7 1381.8,1026.9 C1381.8,1033.2 1385.4,1033.2 1385.4,1039.4  M1387.4,1104.2 C1387.4,1099.0 1383.1,1099.0 1383.1,1093.9 C1383.1,1087.8 1387.1,1087.8 1387.1,1081.6 C1387.1,1075.5 1383.3,1075.5 1383.3,1069.4 C1383.3,1063.3 1386.9,1063.3 1386.9,1057.2  M1405.8,989.6 C1405.8,994.9 1401.5,994.9 1401.5,1000.2 C1401.5,1006.4 1405.5,1006.4 1405.5,1012.6 C1405.5,1018.9 1401.7,1018.9 1401.7,1025.1 C1401.7,1031.4 1405.3,1031.4 1405.3,1037.6  M1407.8,1105.0 C1407.8,1099.8 1403.5,1099.8 1403.5,1094.7 C1403.5,1088.6 1407.5,1088.6 1407.5,1082.4 C1407.5,1076.3 1403.7,1076.3 1403.7,1070.2 C1403.7,1064.1 1407.3,1064.1 1407.3,1058.0  M1428.7,989.3 C1428.7,994.6 1424.4,994.6 1424.4,999.8 C1424.4,1006.1 1428.4,1006.1 1428.4,1012.3 C1428.4,1018.6 1424.6,1018.6 1424.6,1024.8 C1424.6,1031.0 1428.2,1031.0 1428.2,1037.3  M1426.3,1103.2 C1426.3,1098.0 1422.0,1098.0 1422.0,1092.8 C1422.0,1086.7 1426.0,1086.7 1426.0,1080.6 C1426.0,1074.5 1422.2,1074.5 1422.2,1068.4 C1422.2,1062.3 1425.8,1062.3 1425.8,1056.2  M1446.4,991.3 C1446.4,996.6 1442.1,996.6 1442.1,1001.9 C1442.1,1008.1 1446.1,1008.1 1446.1,1014.4 C1446.1,1020.6 1442.3,1020.6 1442.3,1026.9 C1442.3,1033.1 1445.9,1033.1 1445.9,1039.3  M1444.6,1106.0 C1444.6,1100.8 1440.3,1100.8 1440.3,1095.6 C1440.3,1089.5 1444.3,1089.5 1444.3,1083.4 C1444.3,1077.3 1440.5,1077.3 1440.5,1071.2 C1440.5,1065.1 1444.1,1065.1 1444.1,1059.0  M1465.7,988.7 C1465.7,994.0 1461.4,994.0 1461.4,999.2 C1461.4,1005.5 1465.4,1005.5 1465.4,1011.7 C1465.4,1018.0 1461.6,1018.0 1461.6,1024.2 C1461.6,1030.4 1465.2,1030.4 1465.2,1036.7  M1466.4,1103.6 C1466.4,1098.5 1462.1,1098.5 1462.1,1093.3 C1462.1,1087.2 1466.1,1087.2 1466.1,1081.1 C1466.1,1075.0 1462.3,1075.0 1462.3,1068.8 C1462.3,1062.7 1465.9,1062.7 1465.9,1056.6  M1483.6,991.4 C1483.6,996.7 1479.3,996.7 1479.3,1002.0 C1479.3,1008.2 1483.3,1008.2 1483.3,1014.4 C1483.3,1020.7 1479.5,1020.7 1479.5,1026.9 C1479.5,1033.2 1483.1,1033.2 1483.1,1039.4  M1484.8,1104.1 C1484.8,1098.9 1480.5,1098.9 1480.5,1093.7 C1480.5,1087.6 1484.5,1087.6 1484.5,1081.5 C1484.5,1075.4 1480.7,1075.4 1480.7,1069.3 C1480.7,1063.2 1484.3,1063.2 1484.3,1057.1  M1505.2,988.9 C1505.2,994.2 1500.9,994.2 1500.9,999.5 C1500.9,1005.7 1504.9,1005.7 1504.9,1012.0 C1504.9,1018.2 1501.1,1018.2 1501.1,1024.4 C1501.1,1030.7 1504.7,1030.7 1504.7,1036.9  M1505.6,1103.3 C1505.6,1098.1 1501.3,1098.1 1501.3,1092.9 C1501.3,1086.8 1505.3,1086.8 1505.3,1080.7 C1505.3,1074.6 1501.5,1074.6 1501.5,1068.5 C1501.5,1062.4 1505.1,1062.4 1505.1,1056.3  M1523.6,988.7 C1523.6,994.0 1519.3,994.0 1519.3,999.3 C1519.3,1005.5 1523.3,1005.5 1523.3,1011.7 C1523.3,1018.0 1519.5,1018.0 1519.5,1024.2 C1519.5,1030.5 1523.1,1030.5 1523.1,1036.7  M1523.8,1104.4 C1523.8,1099.2 1519.5,1099.2 1519.5,1094.0 C1519.5,1087.9 1523.5,1087.9 1523.5,1081.8 C1523.5,1075.7 1519.7,1075.7 1519.7,1069.6 C1519.7,1063.5 1523.3,1063.5 1523.3,1057.4  M1542.0,989.6 C1542.0,994.9 1537.7,994.9 1537.7,1000.2 C1537.7,1006.4 1541.7,1006.4 1541.7,1012.7 C1541.7,1018.9 1537.9,1018.9 1537.9,1025.2 C1537.9,1031.4 1541.5,1031.4 1541.5,1037.6  M1543.7,1105.7 C1543.7,1100.5 1539.4,1100.5 1539.4,1095.3 C1539.4,1089.2 1543.4,1089.2 1543.4,1083.1 C1543.4,1077.0 1539.6,1077.0 1539.6,1070.9 C1539.6,1064.8 1543.2,1064.8 1543.2,1058.7  M1563.5,990.8 C1563.5,996.1 1559.2,996.1 1559.2,1001.4 C1559.2,1007.6 1563.2,1007.6 1563.2,1013.9 C1563.2,1020.1 1559.4,1020.1 1559.4,1026.3 C1559.4,1032.6 1563.0,1032.6 1563.0,1038.8  M1562.3,1105.6 C1562.3,1100.5 1558.0,1100.5 1558.0,1095.3 C1558.0,1089.2 1562.0,1089.2 1562.0,1083.1 C1562.0,1077.0 1558.2,1077.0 1558.2,1070.9 C1558.2,1064.8 1561.8,1064.8 1561.8,1058.6  M1582.2,988.6 C1582.2,993.9 1577.9,993.9 1577.9,999.2 C1577.9,1005.4 1581.9,1005.4 1581.9,1011.7 C1581.9,1017.9 1578.1,1017.9 1578.1,1024.2 C1578.1,1030.4 1581.7,1030.4 1581.7,1036.6  M1583.5,1104.6 C1583.5,1099.4 1579.2,1099.4 1579.2,1094.2 C1579.2,1088.1 1583.2,1088.1 1583.2,1082.0 C1583.2,1075.9 1579.4,1075.9 1579.4,1069.8 C1579.4,1063.7 1583.0,1063.7 1583.0,1057.6  M1601.1,988.8 C1601.1,994.0 1596.8,994.0 1596.8,999.3 C1596.8,1005.6 1600.8,1005.6 1600.8,1011.8 C1600.8,1018.0 1597.0,1018.0 1597.0,1024.3 C1597.0,1030.5 1600.6,1030.5 1600.6,1036.8  M1600.5,1105.3 C1600.5,1100.2 1596.2,1100.2 1596.2,1095.0 C1596.2,1088.9 1600.2,1088.9 1600.2,1082.8 C1600.2,1076.7 1596.4,1076.7 1596.4,1070.6 C1596.4,1064.5 1600.0,1064.5 1600.0,1058.3  M1620.9,989.0 C1620.9,994.3 1616.6,994.3 1616.6,999.6 C1616.6,1005.8 1620.6,1005.8 1620.6,1012.1 C1620.6,1018.3 1616.8,1018.3 1616.8,1024.5 C1616.8,1030.8 1620.4,1030.8 1620.4,1037.0  M1620.4,1104.4 C1620.4,1099.2 1616.1,1099.2 1616.1,1094.0 C1616.1,1087.9 1620.1,1087.9 1620.1,1081.8 C1620.1,1075.7 1616.3,1075.7 1616.3,1069.6 C1616.3,1063.5 1619.9,1063.5 1619.9,1057.4  M1642.0,989.0 C1642.0,994.3 1637.7,994.3 1637.7,999.6 C1637.7,1005.8 1641.7,1005.8 1641.7,1012.1 C1641.7,1018.3 1637.9,1018.3 1637.9,1024.5 C1637.9,1030.8 1641.5,1030.8 1641.5,1037.0  M1640.8,1104.4 C1640.8,1099.3 1636.5,1099.3 1636.5,1094.1 C1636.5,1088.0 1640.5,1088.0 1640.5,1081.9 C1640.5,1075.8 1636.7,1075.8 1636.7,1069.7 C1636.7,1063.6 1640.3,1063.6 1640.3,1057.4  M1661.5,991.3 C1661.5,996.6 1657.2,996.6 1657.2,1001.9 C1657.2,1008.1 1661.2,1008.1 1661.2,1014.4 C1661.2,1020.6 1657.4,1020.6 1657.4,1026.8 C1657.4,1033.1 1661.0,1033.1 1661.0,1039.3  M1661.2,1103.1 C1661.2,1097.9 1656.9,1097.9 1656.9,1092.7 C1656.9,1086.6 1660.9,1086.6 1660.9,1080.5 C1660.9,1074.4 1657.1,1074.4 1657.1,1068.3 C1657.1,1062.2 1660.7,1062.2 1660.7,1056.1  M1679.9,990.1 C1679.9,995.4 1675.6,995.4 1675.6,1000.7 C1675.6,1006.9 1679.6,1006.9 1679.6,1013.2 C1679.6,1019.4 1675.8,1019.4 1675.8,1025.7 C1675.8,1031.9 1679.4,1031.9 1679.4,1038.1  M1681.0,1104.6 C1681.0,1099.4 1676.7,1099.4 1676.7,1094.2 C1676.7,1088.1 1680.7,1088.1 1680.7,1082.0 C1680.7,1075.9 1676.9,1075.9 1676.9,1069.8 C1676.9,1063.7 1680.5,1063.7 1680.5,1057.6  M1700.7,988.7 C1700.7,994.0 1696.4,994.0 1696.4,999.3 C1696.4,1005.5 1700.4,1005.5 1700.4,1011.7 C1700.4,1018.0 1696.6,1018.0 1696.6,1024.2 C1696.6,1030.5 1700.2,1030.5 1700.2,1036.7  M1700.0,1104.9 C1700.0,1099.8 1695.7,1099.8 1695.7,1094.6 C1695.7,1088.5 1699.7,1088.5 1699.7,1082.4 C1699.7,1076.3 1695.9,1076.3 1695.9,1070.1 C1695.9,1064.0 1699.5,1064.0 1699.5,1057.9  M1717.5,990.7 C1717.5,996.0 1713.2,996.0 1713.2,1001.2 C1713.2,1007.5 1717.2,1007.5 1717.2,1013.7 C1717.2,1020.0 1713.4,1020.0 1713.4,1026.2 C1713.4,1032.4 1717.0,1032.4 1717.0,1038.7  M1719.3,1105.2 C1719.3,1100.0 1715.0,1100.0 1715.0,1094.8 C1715.0,1088.7 1719.0,1088.7 1719.0,1082.6 C1719.0,1076.5 1715.2,1076.5 1715.2,1070.4 C1715.2,1064.3 1718.8,1064.3 1718.8,1058.2  M1740.3,989.9 C1740.3,995.1 1736.0,995.1 1736.0,1000.4 C1736.0,1006.7 1740.0,1006.7 1740.0,1012.9 C1740.0,1019.1 1736.2,1019.1 1736.2,1025.4 C1736.2,1031.6 1739.8,1031.6 1739.8,1037.9  M1738.5,1104.5 C1738.5,1099.3 1734.2,1099.3 1734.2,1094.1 C1734.2,1088.0 1738.2,1088.0 1738.2,1081.9 C1738.2,1075.8 1734.4,1075.8 1734.4,1069.7 C1734.4,1063.6 1738.0,1063.6 1738.0,1057.5  M1760.5,990.3 C1760.5,995.6 1756.2,995.6 1756.2,1000.9 C1756.2,1007.1 1760.2,1007.1 1760.2,1013.3 C1760.2,1019.6 1756.4,1019.6 1756.4,1025.8 C1756.4,1032.1 1760.0,1032.1 1760.0,1038.3  M1758.6,1104.1 C1758.6,1098.9 1754.3,1098.9 1754.3,1093.8 C1754.3,1087.7 1758.3,1087.7 1758.3,1081.6 C1758.3,1075.4 1754.5,1075.4 1754.5,1069.3 C1754.5,1063.2 1758.1,1063.2 1758.1,1057.1  M1778.4,991.0 C1778.4,996.2 1774.1,996.2 1774.1,1001.5 C1774.1,1007.8 1778.1,1007.8 1778.1,1014.0 C1778.1,1020.2 1774.3,1020.2 1774.3,1026.5 C1774.3,1032.7 1777.9,1032.7 1777.9,1039.0  M1779.1,1105.2 C1779.1,1100.0 1774.8,1100.0 1774.8,1094.8 C1774.8,1088.7 1778.8,1088.7 1778.8,1082.6 C1778.8,1076.5 1775.0,1076.5 1775.0,1070.4 C1775.0,1064.3 1778.6,1064.3 1778.6,1058.2 " fill="none" stroke="#e9e7f2" stroke-width="1.3"/><rect x="1023.5" y="969.8" width="21" height="19" fill="#c3c9e8" opacity="0.6"/><rect x="1043.0" y="971.8" width="21" height="19" fill="#c3c9e8" opacity="0.6"/><rect x="1062.3" y="971.9" width="21" height="19" fill="#c3c9e8" opacity="0.6"/><rect x="1081.3" y="972.1" width="21" height="19" fill="#c3c9e8" opacity="0.6"/><rect x="1102.5" y="971.2" width="21" height="19" fill="#c3c9e8" opacity="0.6"/><rect x="1120.0" y="969.9" width="21" height="19" fill="#c3c9e8" opacity="0.6"/><rect x="1140.7" y="970.4" width="21" height="19" fill="#c3c9e8" opacity="0.6"/><rect x="1161.2" y="971.9" width="21" height="19" fill="#c3c9e8" opacity="0.6"/><rect x="1178.8" y="970.4" width="21" height="19" fill="#c3c9e8" opacity="0.6"/><rect x="1199.5" y="969.9" width="21" height="19" fill="#c3c9e8" opacity="0.6"/><rect x="1219.2" y="971.0" width="21" height="19" fill="#c3c9e8" opacity="0.6"/><rect x="1237.3" y="971.4" width="21" height="19" fill="#c3c9e8" opacity="0.6"/><rect x="1257.7" y="971.6" width="21" height="19" fill="#c3c9e8" opacity="0.6"/><rect x="1278.0" y="969.8" width="21" height="19" fill="#c3c9e8" opacity="0.6"/><rect x="1296.9" y="972.5" width="21" height="19" fill="#c3c9e8" opacity="0.6"/><rect x="1317.1" y="970.9" width="21" height="19" fill="#c3c9e8" opacity="0.6"/><rect x="1335.3" y="972.5" width="21" height="19" fill="#c3c9e8" opacity="0.6"/><rect x="1355.0" y="969.7" width="21" height="19" fill="#c3c9e8" opacity="0.6"/><rect x="1374.3" y="973.1" width="21" height="19" fill="#c3c9e8" opacity="0.6"/><rect x="1394.8" y="971.8" width="21" height="19" fill="#c3c9e8" opacity="0.6"/><rect x="1415.3" y="973.2" width="21" height="19" fill="#c3c9e8" opacity="0.6"/><rect x="1434.0" y="973.3" width="21" height="19" fill="#c3c9e8" opacity="0.6"/><rect x="1454.0" y="972.7" width="21" height="19" fill="#c3c9e8" opacity="0.6"/><rect x="1472.6" y="970.1" width="21" height="19" fill="#c3c9e8" opacity="0.6"/><rect x="1493.0" y="971.0" width="21" height="19" fill="#c3c9e8" opacity="0.6"/><rect x="1511.0" y="970.5" width="21" height="19" fill="#c3c9e8" opacity="0.6"/><rect x="1531.0" y="972.5" width="21" height="19" fill="#c3c9e8" opacity="0.6"/><rect x="1551.5" y="970.4" width="21" height="19" fill="#c3c9e8" opacity="0.6"/><rect x="1571.1" y="970.5" width="21" height="19" fill="#c3c9e8" opacity="0.6"/><rect x="1590.0" y="970.1" width="21" height="19" fill="#c3c9e8" opacity="0.6"/><rect x="1608.7" y="970.1" width="21" height="19" fill="#c3c9e8" opacity="0.6"/><rect x="1628.7" y="973.1" width="21" height="19" fill="#c3c9e8" opacity="0.6"/><rect x="1648.1" y="973.2" width="21" height="19" fill="#c3c9e8" opacity="0.6"/><rect x="1667.8" y="971.0" width="21" height="19" fill="#c3c9e8" opacity="0.6"/><rect x="1688.6" y="972.4" width="21" height="19" fill="#c3c9e8" opacity="0.6"/><rect x="1706.7" y="971.4" width="21" height="19" fill="#c3c9e8" opacity="0.6"/><rect x="1727.8" y="971.6" width="21" height="19" fill="#c3c9e8" opacity="0.6"/><rect x="1747.4" y="971.0" width="21" height="19" fill="#c3c9e8" opacity="0.6"/><rect x="1766.0" y="972.0" width="21" height="19" fill="#c3c9e8" opacity="0.6"/><ellipse cx="1034.0" cy="979.3" rx="10.4" ry="9.8" fill="url(#g1)" stroke="#231815" stroke-width="1.8"/><ellipse cx="1053.5" cy="981.3" rx="10.4" ry="9.8" fill="url(#g1)" stroke="#231815" stroke-width="1.8"/><ellipse cx="1072.8" cy="981.4" rx="10.4" ry="9.8" fill="url(#g1)" stroke="#231815" stroke-width="1.8"/><ellipse cx="1091.8" cy="981.6" rx="10.4" ry="9.8" fill="url(#g1)" stroke="#231815" stroke-width="1.8"/><ellipse cx="1113.0" cy="980.7" rx="10.4" ry="9.8" fill="url(#g1)" stroke="#231815" stroke-width="1.8"/><ellipse cx="1130.5" cy="979.4" rx="10.4" ry="9.8" fill="url(#g1)" stroke="#231815" stroke-width="1.8"/><ellipse cx="1151.2" cy="979.9" rx="10.4" ry="9.8" fill="url(#g1)" stroke="#231815" stroke-width="1.8"/><ellipse cx="1171.7" cy="981.4" rx="10.4" ry="9.8" fill="url(#g1)" stroke="#231815" stroke-width="1.8"/><ellipse cx="1189.3" cy="979.9" rx="10.4" ry="9.8" fill="url(#g1)" stroke="#231815" stroke-width="1.8"/><ellipse cx="1210.0" cy="979.4" rx="10.4" ry="9.8" fill="url(#g1)" stroke="#231815" stroke-width="1.8"/><ellipse cx="1229.7" cy="980.5" rx="10.4" ry="9.8" fill="url(#g1)" stroke="#231815" stroke-width="1.8"/><ellipse cx="1247.8" cy="980.9" rx="10.4" ry="9.8" fill="url(#g1)" stroke="#231815" stroke-width="1.8"/><ellipse cx="1268.2" cy="981.1" rx="10.4" ry="9.8" fill="url(#g1)" stroke="#231815" stroke-width="1.8"/><ellipse cx="1288.5" cy="979.3" rx="10.4" ry="9.8" fill="url(#g1)" stroke="#231815" stroke-width="1.8"/><ellipse cx="1307.4" cy="982.0" rx="10.4" ry="9.8" fill="url(#g1)" stroke="#231815" stroke-width="1.8"/><ellipse cx="1327.6" cy="980.4" rx="10.4" ry="9.8" fill="url(#g1)" stroke="#231815" stroke-width="1.8"/><ellipse cx="1345.8" cy="982.0" rx="10.4" ry="9.8" fill="url(#g1)" stroke="#231815" stroke-width="1.8"/><ellipse cx="1365.5" cy="979.2" rx="10.4" ry="9.8" fill="url(#g1)" stroke="#231815" stroke-width="1.8"/><ellipse cx="1384.8" cy="982.6" rx="10.4" ry="9.8" fill="url(#g1)" stroke="#231815" stroke-width="1.8"/><ellipse cx="1405.3" cy="981.3" rx="10.4" ry="9.8" fill="url(#g1)" stroke="#231815" stroke-width="1.8"/><ellipse cx="1425.8" cy="982.7" rx="10.4" ry="9.8" fill="url(#g1)" stroke="#231815" stroke-width="1.8"/><ellipse cx="1444.5" cy="982.8" rx="10.4" ry="9.8" fill="url(#g1)" stroke="#231815" stroke-width="1.8"/><ellipse cx="1464.5" cy="982.2" rx="10.4" ry="9.8" fill="url(#g1)" stroke="#231815" stroke-width="1.8"/><ellipse cx="1483.1" cy="979.6" rx="10.4" ry="9.8" fill="url(#g1)" stroke="#231815" stroke-width="1.8"/><ellipse cx="1503.5" cy="980.5" rx="10.4" ry="9.8" fill="url(#g1)" stroke="#231815" stroke-width="1.8"/><ellipse cx="1521.5" cy="980.0" rx="10.4" ry="9.8" fill="url(#g1)" stroke="#231815" stroke-width="1.8"/><ellipse cx="1541.5" cy="982.0" rx="10.4" ry="9.8" fill="url(#g1)" stroke="#231815" stroke-width="1.8"/><ellipse cx="1562.0" cy="979.9" rx="10.4" ry="9.8" fill="url(#g1)" stroke="#231815" stroke-width="1.8"/><ellipse cx="1581.6" cy="980.0" rx="10.4" ry="9.8" fill="url(#g1)" stroke="#231815" stroke-width="1.8"/><ellipse cx="1600.5" cy="979.6" rx="10.4" ry="9.8" fill="url(#g1)" stroke="#231815" stroke-width="1.8"/><ellipse cx="1619.2" cy="979.6" rx="10.4" ry="9.8" fill="url(#g1)" stroke="#231815" stroke-width="1.8"/><ellipse cx="1639.2" cy="982.6" rx="10.4" ry="9.8" fill="url(#g1)" stroke="#231815" stroke-width="1.8"/><ellipse cx="1658.6" cy="982.7" rx="10.4" ry="9.8" fill="url(#g1)" stroke="#231815" stroke-width="1.8"/><ellipse cx="1678.3" cy="980.5" rx="10.4" ry="9.8" fill="url(#g1)" stroke="#231815" stroke-width="1.8"/><ellipse cx="1699.1" cy="981.9" rx="10.4" ry="9.8" fill="url(#g1)" stroke="#231815" stroke-width="1.8"/><ellipse cx="1717.2" cy="980.9" rx="10.4" ry="9.8" fill="url(#g1)" stroke="#231815" stroke-width="1.8"/><ellipse cx="1738.3" cy="981.1" rx="10.4" ry="9.8" fill="url(#g1)" stroke="#231815" stroke-width="1.8"/><ellipse cx="1757.9" cy="980.5" rx="10.4" ry="9.8" fill="url(#g1)" stroke="#231815" stroke-width="1.8"/><ellipse cx="1776.5" cy="981.5" rx="10.4" ry="9.8" fill="url(#g1)" stroke="#231815" stroke-width="1.8"/><rect x="1023.5" y="1103.1" width="21" height="19" fill="#c3c9e8" opacity="0.6"/><rect x="1043.0" y="1103.1" width="21" height="19" fill="#c3c9e8" opacity="0.6"/><rect x="1062.3" y="1104.1" width="21" height="19" fill="#c3c9e8" opacity="0.6"/><rect x="1081.3" y="1102.9" width="21" height="19" fill="#c3c9e8" opacity="0.6"/><rect x="1102.5" y="1103.8" width="21" height="19" fill="#c3c9e8" opacity="0.6"/><rect x="1120.0" y="1105.6" width="21" height="19" fill="#c3c9e8" opacity="0.6"/><rect x="1140.7" y="1102.3" width="21" height="19" fill="#c3c9e8" opacity="0.6"/><rect x="1161.2" y="1102.6" width="21" height="19" fill="#c3c9e8" opacity="0.6"/><rect x="1178.8" y="1105.1" width="21" height="19" fill="#c3c9e8" opacity="0.6"/><rect x="1199.5" y="1102.4" width="21" height="19" fill="#c3c9e8" opacity="0.6"/><rect x="1219.2" y="1103.1" width="21" height="19" fill="#c3c9e8" opacity="0.6"/><rect x="1237.3" y="1105.3" width="21" height="19" fill="#c3c9e8" opacity="0.6"/><rect x="1257.7" y="1104.4" width="21" height="19" fill="#c3c9e8" opacity="0.6"/><rect x="1278.0" y="1103.0" width="21" height="19" fill="#c3c9e8" opacity="0.6"/><rect x="1296.9" y="1102.4" width="21" height="19" fill="#c3c9e8" opacity="0.6"/><rect x="1317.1" y="1103.2" width="21" height="19" fill="#c3c9e8" opacity="0.6"/><rect x="1335.3" y="1103.3" width="21" height="19" fill="#c3c9e8" opacity="0.6"/><rect x="1355.0" y="1105.1" width="21" height="19" fill="#c3c9e8" opacity="0.6"/><rect x="1374.3" y="1105.7" width="21" height="19" fill="#c3c9e8" opacity="0.6"/><rect x="1394.8" y="1105.0" width="21" height="19" fill="#c3c9e8" opacity="0.6"/><rect x="1415.3" y="1105.4" width="21" height="19" fill="#c3c9e8" opacity="0.6"/><rect x="1434.0" y="1105.6" width="21" height="19" fill="#c3c9e8" opacity="0.6"/><rect x="1454.0" y="1105.4" width="21" height="19" fill="#c3c9e8" opacity="0.6"/><rect x="1472.6" y="1105.5" width="21" height="19" fill="#c3c9e8" opacity="0.6"/><rect x="1493.0" y="1105.7" width="21" height="19" fill="#c3c9e8" opacity="0.6"/><rect x="1511.0" y="1102.5" width="21" height="19" fill="#c3c9e8" opacity="0.6"/><rect x="1531.0" y="1103.3" width="21" height="19" fill="#c3c9e8" opacity="0.6"/><rect x="1551.5" y="1103.1" width="21" height="19" fill="#c3c9e8" opacity="0.6"/><rect x="1571.1" y="1104.4" width="21" height="19" fill="#c3c9e8" opacity="0.6"/><rect x="1590.0" y="1104.0" width="21" height="19" fill="#c3c9e8" opacity="0.6"/><rect x="1608.7" y="1103.4" width="21" height="19" fill="#c3c9e8" opacity="0.6"/><rect x="1628.7" y="1105.2" width="21" height="19" fill="#c3c9e8" opacity="0.6"/><rect x="1648.1" y="1103.6" width="21" height="19" fill="#c3c9e8" opacity="0.6"/><rect x="1667.8" y="1103.0" width="21" height="19" fill="#c3c9e8" opacity="0.6"/><rect x="1688.6" y="1103.2" width="21" height="19" fill="#c3c9e8" opacity="0.6"/><rect x="1706.7" y="1103.9" width="21" height="19" fill="#c3c9e8" opacity="0.6"/><rect x="1727.8" y="1104.4" width="21" height="19" fill="#c3c9e8" opacity="0.6"/><rect x="1747.4" y="1104.2" width="21" height="19" fill="#c3c9e8" opacity="0.6"/><rect x="1766.0" y="1103.8" width="21" height="19" fill="#c3c9e8" opacity="0.6"/><ellipse cx="1034.0" cy="1112.6" rx="10.4" ry="9.8" fill="url(#g1)" stroke="#231815" stroke-width="1.8"/><ellipse cx="1053.5" cy="1112.6" rx="10.4" ry="9.8" fill="url(#g1)" stroke="#231815" stroke-width="1.8"/><ellipse cx="1072.8" cy="1113.6" rx="10.4" ry="9.8" fill="url(#g1)" stroke="#231815" stroke-width="1.8"/><ellipse cx="1091.8" cy="1112.4" rx="10.4" ry="9.8" fill="url(#g1)" stroke="#231815" stroke-width="1.8"/><ellipse cx="1113.0" cy="1113.3" rx="10.4" ry="9.8" fill="url(#g1)" stroke="#231815" stroke-width="1.8"/><ellipse cx="1130.5" cy="1115.1" rx="10.4" ry="9.8" fill="url(#g1)" stroke="#231815" stroke-width="1.8"/><ellipse cx="1151.2" cy="1111.8" rx="10.4" ry="9.8" fill="url(#g1)" stroke="#231815" stroke-width="1.8"/><ellipse cx="1171.7" cy="1112.1" rx="10.4" ry="9.8" fill="url(#g1)" stroke="#231815" stroke-width="1.8"/><ellipse cx="1189.3" cy="1114.6" rx="10.4" ry="9.8" fill="url(#g1)" stroke="#231815" stroke-width="1.8"/><ellipse cx="1210.0" cy="1111.9" rx="10.4" ry="9.8" fill="url(#g1)" stroke="#231815" stroke-width="1.8"/><ellipse cx="1229.7" cy="1112.6" rx="10.4" ry="9.8" fill="url(#g1)" stroke="#231815" stroke-width="1.8"/><ellipse cx="1247.8" cy="1114.8" rx="10.4" ry="9.8" fill="url(#g1)" stroke="#231815" stroke-width="1.8"/><ellipse cx="1268.2" cy="1113.9" rx="10.4" ry="9.8" fill="url(#g1)" stroke="#231815" stroke-width="1.8"/><ellipse cx="1288.5" cy="1112.5" rx="10.4" ry="9.8" fill="url(#g1)" stroke="#231815" stroke-width="1.8"/><ellipse cx="1307.4" cy="1111.9" rx="10.4" ry="9.8" fill="url(#g1)" stroke="#231815" stroke-width="1.8"/><ellipse cx="1327.6" cy="1112.7" rx="10.4" ry="9.8" fill="url(#g1)" stroke="#231815" stroke-width="1.8"/><ellipse cx="1345.8" cy="1112.8" rx="10.4" ry="9.8" fill="url(#g1)" stroke="#231815" stroke-width="1.8"/><ellipse cx="1365.5" cy="1114.6" rx="10.4" ry="9.8" fill="url(#g1)" stroke="#231815" stroke-width="1.8"/><ellipse cx="1384.8" cy="1115.2" rx="10.4" ry="9.8" fill="url(#g1)" stroke="#231815" stroke-width="1.8"/><ellipse cx="1405.3" cy="1114.5" rx="10.4" ry="9.8" fill="url(#g1)" stroke="#231815" stroke-width="1.8"/><ellipse cx="1425.8" cy="1114.9" rx="10.4" ry="9.8" fill="url(#g1)" stroke="#231815" stroke-width="1.8"/><ellipse cx="1444.5" cy="1115.1" rx="10.4" ry="9.8" fill="url(#g1)" stroke="#231815" stroke-width="1.8"/><ellipse cx="1464.5" cy="1114.9" rx="10.4" ry="9.8" fill="url(#g1)" stroke="#231815" stroke-width="1.8"/><ellipse cx="1483.1" cy="1115.0" rx="10.4" ry="9.8" fill="url(#g1)" stroke="#231815" stroke-width="1.8"/><ellipse cx="1503.5" cy="1115.2" rx="10.4" ry="9.8" fill="url(#g1)" stroke="#231815" stroke-width="1.8"/><ellipse cx="1521.5" cy="1112.0" rx="10.4" ry="9.8" fill="url(#g1)" stroke="#231815" stroke-width="1.8"/><ellipse cx="1541.5" cy="1112.8" rx="10.4" ry="9.8" fill="url(#g1)" stroke="#231815" stroke-width="1.8"/><ellipse cx="1562.0" cy="1112.6" rx="10.4" ry="9.8" fill="url(#g1)" stroke="#231815" stroke-width="1.8"/><ellipse cx="1581.6" cy="1113.9" rx="10.4" ry="9.8" fill="url(#g1)" stroke="#231815" stroke-width="1.8"/><ellipse cx="1600.5" cy="1113.5" rx="10.4" ry="9.8" fill="url(#g1)" stroke="#231815" stroke-width="1.8"/><ellipse cx="1619.2" cy="1112.9" rx="10.4" ry="9.8" fill="url(#g1)" stroke="#231815" stroke-width="1.8"/><ellipse cx="1639.2" cy="1114.7" rx="10.4" ry="9.8" fill="url(#g1)" stroke="#231815" stroke-width="1.8"/><ellipse cx="1658.6" cy="1113.1" rx="10.4" ry="9.8" fill="url(#g1)" stroke="#231815" stroke-width="1.8"/><ellipse cx="1678.3" cy="1112.5" rx="10.4" ry="9.8" fill="url(#g1)" stroke="#231815" stroke-width="1.8"/><ellipse cx="1699.1" cy="1112.7" rx="10.4" ry="9.8" fill="url(#g1)" stroke="#231815" stroke-width="1.8"/><ellipse cx="1717.2" cy="1113.4" rx="10.4" ry="9.8" fill="url(#g1)" stroke="#231815" stroke-width="1.8"/><ellipse cx="1738.3" cy="1113.9" rx="10.4" ry="9.8" fill="url(#g1)" stroke="#231815" stroke-width="1.8"/><ellipse cx="1757.9" cy="1113.7" rx="10.4" ry="9.8" fill="url(#g1)" stroke="#231815" stroke-width="1.8"/><ellipse cx="1776.5" cy="1113.3" rx="10.4" ry="9.8" fill="url(#g1)" stroke="#231815" stroke-width="1.8"/></g>
<path d="M692,275 L692,183.2 A49,49 0 0 1 652.2,139.4 Q655.5,142 661,142 L684,142 Q696.4,142 696.4,129 L696.4,109 Q696.4,97 684,97 L670.1,97 A49,49 0 1 1 718.6,180.7 L718.6,275 Z" fill="#fddad5" stroke="#231815" stroke-width="2"/>
<path d="M527,203.5 L569.5,203.5 Q562,206 561.5,215 L561.5,240 Q561.5,251 571,251 L581,251 Q585.5,251 588.5,246.5 L588.5,373 Q588.5,385 576.5,385 L527,385 Q515,385 515,373 L515,215.5 Q515,203.5 527,203.5 Z" fill="#fddad5" stroke="#231815" stroke-width="2"/>
<path d="M618.5,203.5 L661,203.5 Q673,203.5 673,215.5 L673,373 Q673,385 661,385 L611,385 Q599,385 599,373 L599,246.5 Q602,251 606.5,251 L616,251 Q625.8,251 625.8,240 L625.8,215 Q625.5,206 618.5,203.5 Z" fill="#fddad5" stroke="#231815" stroke-width="2"/>
<circle cx="555.5" cy="425" r="39" fill="#fddad5" stroke="#231815" stroke-width="2"/>
<circle cx="637.5" cy="423.5" r="40" fill="#fddad5" stroke="#231815" stroke-width="2"/>
<path d="M593.5,191 L594.5,514.5 L760,512.5" fill="none" stroke="#231815" stroke-width="1.6"/>
<path d="M771.0,512.3 L758.0,517.3 L758.0,507.3 Z" fill="#231815"/>
<text transform="translate(706.5,174.5) rotate(-90)" x="0" y="10.0" font-size="29.1" font-weight="bold" fill="#231815" text-anchor="middle" textLength="49.0" lengthAdjust="spacingAndGlyphs">NrtA</text>
<text transform="translate(551.0,311.0) rotate(-90)" x="0" y="10.5" font-size="30.5" font-weight="bold" fill="#231815" text-anchor="middle" textLength="48.0" lengthAdjust="spacingAndGlyphs">NrtB</text>
<text transform="translate(637.7,306.0) rotate(-90)" x="0" y="10.5" font-size="30.5" font-weight="bold" fill="#231815" text-anchor="middle" textLength="48.0" lengthAdjust="spacingAndGlyphs">NrtB</text>
<text transform="translate(556.0,423.5) rotate(-90)" x="0" y="10.8" font-size="31.3" font-weight="bold" fill="#231815" text-anchor="middle" textLength="48.0" lengthAdjust="spacingAndGlyphs">NrtC</text>
<text transform="translate(637.7,421.8) rotate(-90)" x="0" y="10.8" font-size="31.3" font-weight="bold" fill="#231815" text-anchor="middle" textLength="48.0" lengthAdjust="spacingAndGlyphs">NrtD</text>
<text x="577.8" y="175.7" font-size="30.2" font-weight="bold" fill="#231815" text-anchor="start" textLength="31.3" lengthAdjust="spacingAndGlyphs" stroke="#231815" stroke-width="0.35">NO</text>
<text x="610.1" y="184.5" font-size="17.5" font-weight="normal" fill="#231815" text-anchor="start" textLength="6.8" lengthAdjust="spacingAndGlyphs" stroke="#231815" stroke-width="0.4">3</text>
<rect x="617.2" y="161.4" width="3.8" height="2.2" fill="#231815"/>
<text x="635.8" y="125.8" font-size="30.2" font-weight="bold" fill="#231815" text-anchor="start" textLength="31.4" lengthAdjust="spacingAndGlyphs" stroke="#231815" stroke-width="0.35">NO</text>
<text x="668.2" y="135.2" font-size="17.5" font-weight="normal" fill="#231815" text-anchor="start" textLength="6.8" lengthAdjust="spacingAndGlyphs" stroke="#231815" stroke-width="0.4">3</text>
<rect x="675.0" y="111.9" width="4.0" height="2.2" fill="#231815"/>
<text x="235.0" y="316.0" font-size="43.9" font-weight="bold" fill="#231815" text-anchor="start" textLength="50.0" lengthAdjust="spacingAndGlyphs" stroke="#231815" stroke-width="0.35">PM</text>
<rect x="778" y="397" width="652" height="241.5" fill="url(#g2)"/>
<ellipse cx="1104.2" cy="517.5" rx="326.2" ry="121.8" fill="none" stroke="#231815" stroke-width="2"/>
<ellipse cx="1075" cy="427.7" rx="34.6" ry="24" fill="#f7a9b6" stroke="#231815" stroke-width="1.8"/>
<ellipse cx="1013" cy="446" rx="32.8" ry="19.3" fill="#e60012" stroke="#231815" stroke-width="1.8"/>
<text x="990.4" y="457.4" font-size="25.3" font-weight="bold" fill="#fff100" text-anchor="start" textLength="43.7" lengthAdjust="spacingAndGlyphs" stroke="#fff100" stroke-width="0.35">PirN</text>
<text x="1062.4" y="438.3" font-size="28.0" font-weight="bold" fill="#231815" text-anchor="start" textLength="25.5" lengthAdjust="spacingAndGlyphs" stroke="#231815" stroke-width="0.35">PII</text>
<text x="919.4" y="493.0" font-size="28.0" font-weight="bold" fill="#231815" text-anchor="start" textLength="52.8" lengthAdjust="spacingAndGlyphs" stroke="#231815" stroke-width="0.35">NarB</text>
<text x="1099.0" y="493.0" font-size="28.0" font-weight="bold" fill="#231815" text-anchor="start" textLength="46.6" lengthAdjust="spacingAndGlyphs" stroke="#231815" stroke-width="0.35">NirA</text>
<text x="832.0" y="521.2" font-size="32.4" font-weight="bold" fill="#231815" text-anchor="start" textLength="37.3" lengthAdjust="spacingAndGlyphs" stroke="#231815" stroke-width="0.35">NO</text>
<text x="869.3" y="532.0" font-size="18.0" font-weight="normal" fill="#231815" text-anchor="start" textLength="7.3" lengthAdjust="spacingAndGlyphs" stroke="#231815" stroke-width="0.4">3</text>
<rect x="878.4" y="504.6" width="3.6" height="2.2" fill="#231815"/>
<text x="1014.0" y="521.2" font-size="32.4" font-weight="bold" fill="#231815" text-anchor="start" textLength="32.9" lengthAdjust="spacingAndGlyphs" stroke="#231815" stroke-width="0.35">NO</text>
<text x="1047.4" y="529.4" font-size="17.0" font-weight="normal" fill="#231815" text-anchor="start" textLength="6.8" lengthAdjust="spacingAndGlyphs" stroke="#231815" stroke-width="0.4">2</text>
<rect x="1056.0" y="506.4" width="3.0" height="2.2" fill="#231815"/>
<text x="1186.5" y="519.3" font-size="29.3" font-weight="bold" fill="#231815" text-anchor="start" textLength="31.0" lengthAdjust="spacingAndGlyphs" stroke="#231815" stroke-width="0.35">NH</text>
<text x="1218.4" y="528.5" font-size="17.0" font-weight="normal" fill="#231815" text-anchor="start" textLength="7.3" lengthAdjust="spacingAndGlyphs" stroke="#231815" stroke-width="0.4">4</text>
<text x="1226.0" y="511.0" font-size="15.9" font-weight="normal" fill="#231815" text-anchor="start" textLength="7.5" lengthAdjust="spacingAndGlyphs" stroke="#231815" stroke-width="0.4">+</text>
<text x="876.6" y="561.2" font-size="32.4" font-weight="bold" fill="#231815" text-anchor="start" textLength="28.2" lengthAdjust="spacingAndGlyphs" stroke="#231815" stroke-width="0.35">Fd</text>
<text x="906.6" y="572.0" font-size="17.5" font-weight="normal" fill="#231815" text-anchor="start" textLength="21.9" lengthAdjust="spacingAndGlyphs" stroke="#231815" stroke-width="0.7">red</text>
<text x="984.0" y="566.7" font-size="32.4" font-weight="bold" fill="#231815" text-anchor="start" textLength="28.3" lengthAdjust="spacingAndGlyphs" stroke="#231815" stroke-width="0.35">Fd</text>
<text x="1014.0" y="577.6" font-size="19.6" font-weight="bold" fill="#231815" text-anchor="start" textLength="21.0" lengthAdjust="spacingAndGlyphs" stroke="#231815" stroke-width="0.35">OX</text>
<text x="1059.6" y="566.7" font-size="32.4" font-weight="bold" fill="#231815" text-anchor="start" textLength="28.3" lengthAdjust="spacingAndGlyphs" stroke="#231815" stroke-width="0.35">Fd</text>
<text x="1089.7" y="578.0" font-size="17.5" font-weight="normal" fill="#231815" text-anchor="start" textLength="22.5" lengthAdjust="spacingAndGlyphs" stroke="#231815" stroke-width="0.7">red</text>
<text x="1167.4" y="564.9" font-size="32.4" font-weight="bold" fill="#231815" text-anchor="start" textLength="28.2" lengthAdjust="spacingAndGlyphs" stroke="#231815" stroke-width="0.35">Fd</text>
<text x="1197.5" y="574.9" font-size="19.6" font-weight="bold" fill="#231815" text-anchor="start" textLength="20.0" lengthAdjust="spacingAndGlyphs" stroke="#231815" stroke-width="0.35">OX</text>
<text x="1279.4" y="515.7" font-size="28.0" font-weight="bold" fill="#231815" text-anchor="start" textLength="120.3" lengthAdjust="spacingAndGlyphs" stroke="#231815" stroke-width="0.35">GS-GOGAT</text>
<text x="1317.7" y="464.7" font-size="23.9" font-weight="bold" fill="#231815" text-anchor="start" textLength="35.5" lengthAdjust="spacingAndGlyphs" stroke="#231815" stroke-width="0.35">Gln</text>
<text x="1320.4" y="566.7" font-size="23.9" font-weight="bold" fill="#231815" text-anchor="start" textLength="35.6" lengthAdjust="spacingAndGlyphs" stroke="#231815" stroke-width="0.35">Glu</text>
<path d="M894.8,508.4 L996,508.4" fill="none" stroke="#231815" stroke-width="1.6"/>
<path d="M1004.0,508.4 L994.0,512.6 L994.0,504.2 Z" fill="#231815"/>
<path d="M1070,508.4 L1171,508.4" fill="none" stroke="#231815" stroke-width="1.6"/>
<path d="M1179.0,508.4 L1169.0,512.6 L1169.0,504.2 Z" fill="#231815"/>
<path d="M901,535.7 C920,510 965,505 986,530" fill="none" stroke="#231815" stroke-width="1.6"/>
<path d="M993.5,538.0 L982.5,532.5 L991.3,525.9 Z" fill="#231815"/>
<path d="M1078,535.7 C1097,510 1142,505 1163,530" fill="none" stroke="#231815" stroke-width="1.6"/>
<path d="M1170.5,538.0 L1159.5,532.5 L1168.3,525.9 Z" fill="#231815"/>
<path d="M1243,511 C1258,511 1264,502 1265,492 C1268,472 1285,461 1303,459" fill="none" stroke="#231815" stroke-width="1.6"/>
<path d="M1313.0,458.7 L1302.3,464.7 L1301.7,453.8 Z" fill="#231815"/>
<path d="M1362,459 C1395,461 1413,490 1412,515 C1411,545 1392,559 1373,560" fill="none" stroke="#231815" stroke-width="1.6"/>
<path d="M1363.0,560.5 L1373.7,554.5 L1374.3,565.4 Z" fill="#231815"/>
<path d="M1314,560 C1285,559 1262,540 1263,510 C1263,500 1265,495 1267,488" fill="none" stroke="#231815" stroke-width="1.6"/>
<path d="M1409,535 C1412,515 1425,505 1437,504" fill="none" stroke="#231815" stroke-width="1.6"/>
<circle cx="1567.7" cy="471.3" r="58.5" fill="#f9b7aa"/>
<circle cx="1567.7" cy="471.3" r="44" fill="none" stroke="#231815" stroke-width="1.8"/>
<path d="M1569.0,427.0 L1580.4,422.4 L1579.5,433.4 Z" fill="#231815"/>
<path d="M1524.5,478.0 L1518.5,467.3 L1529.4,466.7 Z" fill="#231815"/>
<path d="M1566.0,515.3 L1554.6,519.9 L1555.5,508.9 Z" fill="#231815"/>
<path d="M1611.7,465.0 L1617.7,475.7 L1606.8,476.3 Z" fill="#231815"/>
<text x="1543.6" y="478.0" font-size="27.4" font-weight="bold" fill="#231815" text-anchor="start" textLength="47.9" lengthAdjust="spacingAndGlyphs" stroke="#231815" stroke-width="0.35">CBB</text>
<text x="1439.0" y="513.6" font-size="25.7" font-weight="bold" fill="#231815" text-anchor="start" textLength="52.3" lengthAdjust="spacingAndGlyphs" stroke="#231815" stroke-width="0.35">2-OG</text>
<path d="M1523.5,473 C1523,488 1515,496 1505,500" fill="none" stroke="#231815" stroke-width="1.7"/>
<path d="M1496.5,502.5 L1505.1,493.7 L1508.7,504.1 Z" fill="#231815"/>
<text x="1688.4" y="595.0" font-size="27.4" font-weight="bold" fill="#231815" text-anchor="start" textLength="32.3" lengthAdjust="spacingAndGlyphs" stroke="#231815" stroke-width="0.35">CO</text>
<text x="1721.8" y="603.8" font-size="15.4" font-weight="normal" fill="#231815" text-anchor="start" textLength="6.7" lengthAdjust="spacingAndGlyphs" stroke="#231815" stroke-width="0.4">2</text>
<path d="M1700.6,568 C1680,538 1662,516 1637,497" fill="none" stroke="#231815" stroke-width="1.7"/>
<path d="M1629.4,491.3 L1642.3,494.1 L1635.7,502.9 Z" fill="#231815"/>
<path d="M1668,660 C1632,612 1612,565 1611.7,530" fill="none" stroke="#231815" stroke-width="1.7"/>
<path d="M1611.5,517.5 L1617.2,529.9 L1606.3,530.1 Z" fill="#231815"/>
<path d="M1352.6,788.5 C1450,718 1540,650 1544.5,548" fill="none" stroke="#231815" stroke-width="1.7"/>
<path d="M1544.7,534.8 L1549.9,547.4 L1539.0,547.2 Z" fill="#231815"/>
<text x="1508.0" y="696.2" font-size="25.7" font-weight="bold" fill="#231815" text-anchor="start" textLength="45.6" lengthAdjust="spacingAndGlyphs" stroke="#231815" stroke-width="0.35">ADP</text>
<text x="1645.0" y="696.2" font-size="25.7" font-weight="bold" fill="#231815" text-anchor="start" textLength="41.0" lengthAdjust="spacingAndGlyphs" stroke="#231815" stroke-width="0.35">ATP</text>
<text x="1586.0" y="680.6" font-size="27.4" font-weight="bold" fill="#231815" text-anchor="start" textLength="13.5" lengthAdjust="spacingAndGlyphs" stroke="#231815" stroke-width="0.35">H</text>
<text x="1601.5" y="670.0" font-size="20.1" font-weight="bold" fill="#231815" text-anchor="start" textLength="8.8" lengthAdjust="spacingAndGlyphs" stroke="#231815" stroke-width="0.35">+</text>
<path d="M1665,672 Q1600,630 1545,660" fill="none" stroke="#231815" stroke-width="1.7"/>
<path d="M1530.0,675.1 L1537.1,650.1 L1540.5,661.9 L1552.8,662.5 Z" fill="#231815"/>
<path d="M1531,702 Q1595,750 1655,709" fill="none" stroke="#231815" stroke-width="1.7"/>
<path d="M1594.7,734 L1594.7,700" fill="none" stroke="#231815" stroke-width="2"/>
<path d="M1594.8,687.3 L1605.8,713.3 L1594.8,708.1 L1583.8,713.3 Z" fill="#231815"/>
<text x="1175.0" y="816.9" font-size="27.4" font-weight="bold" fill="#231815" text-anchor="start" textLength="60.4" lengthAdjust="spacingAndGlyphs" stroke="#231815" stroke-width="0.35">NADP</text>
<text x="1237.0" y="809.0" font-size="14.8" font-weight="bold" fill="#231815" text-anchor="start" textLength="7.0" lengthAdjust="spacingAndGlyphs" stroke="#231815" stroke-width="0.35">+</text>
<text x="1318.3" y="812.8" font-size="26.7" font-weight="bold" fill="#231815" text-anchor="start" textLength="76.9" lengthAdjust="spacingAndGlyphs" stroke="#231815" stroke-width="0.35">NADPH</text>
<path d="M1203.4,824 Q1280,864 1350,825" fill="none" stroke="#231815" stroke-width="1.7"/>
<path d="M1357.3,820.0 L1349.8,831.4 L1343.8,822.2 Z" fill="#231815"/>
<path d="M1233,883 C1190,897 1150,862 1110,820 C1060,768 1000,680 958,582" fill="none" stroke="#231815" stroke-width="1.7"/>
<path d="M952.5,570.7 L962.9,580.3 L952.8,584.8 Z" fill="#231815"/>
<path d="M1110,820 C1104,740 1098,650 1128,590" fill="none" stroke="#231815" stroke-width="1.7"/>
<path d="M1133.6,577.8 L1133.3,591.9 L1123.2,587.4 Z" fill="#231815"/>
<rect x="398.9" y="753.4" width="51.7" height="52.9" fill="url(#g3)"/><rect x="418.7" y="771.7" width="51.7" height="52.9" fill="url(#g3)"/><rect x="438.6" y="790.0" width="51.7" height="52.9" fill="url(#g3)"/><rect x="458.4" y="808.3" width="51.7" height="52.9" fill="url(#g3)"/>
<path d="M398.9,788.0 L478.2,861.2 M430.7,753.4 L510.1,826.7" stroke="#231815" stroke-width="1.8" fill="none"/><ellipse cx="414.8" cy="770.7" rx="23.5" ry="7.0" transform="rotate(132.7 414.8 770.7)" stroke="#231815" stroke-width="1.6" fill="none"/><path d="M418.7,806.3 A23.5,5.2 132.7 0 0 450.6,771.7" stroke="#231815" stroke-width="1.8" fill="none"/><path d="M438.6,824.6 A23.5,5.2 132.7 0 0 470.4,790.0" stroke="#231815" stroke-width="1.8" fill="none"/><path d="M458.4,842.9 A23.5,5.2 132.7 0 0 490.3,808.3" stroke="#231815" stroke-width="1.8" fill="none"/><path d="M478.2,861.2 A23.5,5.2 132.7 0 0 510.1,826.7" stroke="#231815" stroke-width="1.0" fill="none"/>
<rect x="463.9" y="718.1" width="54.8" height="40.9" fill="url(#g3)"/><rect x="472.0" y="745.0" width="54.8" height="40.9" fill="url(#g3)"/><rect x="480.1" y="771.8" width="54.8" height="40.9" fill="url(#g3)"/><rect x="488.2" y="798.6" width="54.8" height="40.9" fill="url(#g3)"/>
<path d="M463.9,732.3 L496.3,839.5 M510.7,718.1 L543.0,825.4" stroke="#231815" stroke-width="1.8" fill="none"/><ellipse cx="487.3" cy="725.2" rx="24.4" ry="7.0" transform="rotate(163.2 487.3 725.2)" stroke="#231815" stroke-width="1.6" fill="none"/><path d="M472.0,759.1 A24.4,5.2 163.2 0 0 518.8,745.0" stroke="#231815" stroke-width="1.8" fill="none"/><path d="M480.1,785.9 A24.4,5.2 163.2 0 0 526.8,771.8" stroke="#231815" stroke-width="1.8" fill="none"/><path d="M488.2,812.7 A24.4,5.2 163.2 0 0 534.9,798.6" stroke="#231815" stroke-width="1.8" fill="none"/><path d="M496.3,839.5 A24.4,5.2 163.2 0 0 543.0,825.4" stroke="#231815" stroke-width="1.0" fill="none"/>
<rect x="546.7" y="718.1" width="54.8" height="40.9" fill="url(#g3)"/><rect x="538.7" y="745.0" width="54.8" height="40.9" fill="url(#g3)"/><rect x="530.6" y="771.8" width="54.8" height="40.9" fill="url(#g3)"/><rect x="522.5" y="798.6" width="54.8" height="40.9" fill="url(#g3)"/>
<path d="M554.8,718.1 L522.5,825.4 M601.6,732.3 L569.2,839.5" stroke="#231815" stroke-width="1.8" fill="none"/><ellipse cx="578.2" cy="725.2" rx="24.4" ry="7.0" transform="rotate(-163.2 578.2 725.2)" stroke="#231815" stroke-width="1.6" fill="none"/><path d="M546.7,745.0 A24.4,5.2 -163.2 0 0 593.5,759.1" stroke="#231815" stroke-width="1.8" fill="none"/><path d="M538.7,771.8 A24.4,5.2 -163.2 0 0 585.4,785.9" stroke="#231815" stroke-width="1.8" fill="none"/><path d="M530.6,798.6 A24.4,5.2 -163.2 0 0 577.3,812.7" stroke="#231815" stroke-width="1.8" fill="none"/><path d="M522.5,825.4 A24.4,5.2 -163.2 0 0 569.2,839.5" stroke="#231815" stroke-width="1.0" fill="none"/>
<rect x="617.2" y="753.2" width="52.0" height="52.6" fill="url(#g3)"/><rect x="597.7" y="771.8" width="52.0" height="52.6" fill="url(#g3)"/><rect x="578.2" y="790.5" width="52.0" height="52.6" fill="url(#g3)"/><rect x="558.6" y="809.1" width="52.0" height="52.6" fill="url(#g3)"/>
<path d="M636.8,753.2 L558.6,827.8 M669.2,787.2 L591.1,861.8" stroke="#231815" stroke-width="1.8" fill="none"/><ellipse cx="653.0" cy="770.2" rx="23.5" ry="7.0" transform="rotate(-133.7 653.0 770.2)" stroke="#231815" stroke-width="1.6" fill="none"/><path d="M617.2,771.8 A23.5,5.2 -133.7 0 0 649.7,805.8" stroke="#231815" stroke-width="1.8" fill="none"/><path d="M597.7,790.5 A23.5,5.2 -133.7 0 0 630.2,824.5" stroke="#231815" stroke-width="1.8" fill="none"/><path d="M578.2,809.1 A23.5,5.2 -133.7 0 0 610.6,843.1" stroke="#231815" stroke-width="1.8" fill="none"/><path d="M558.6,827.8 A23.5,5.2 -133.7 0 0 591.1,861.8" stroke="#231815" stroke-width="1.0" fill="none"/>
<rect x="487.4" y="854.8" width="47.0" height="47.0" fill="url(#g3)"/>
<circle cx="510.9" cy="878.3" r="23.5" fill="url(#g4)" stroke="#231815" stroke-width="1.5"/>
<rect x="533.7" y="854.1" width="46.6" height="46.6" fill="url(#g3)"/>
<circle cx="557.0" cy="877.4" r="23.3" fill="url(#g4)" stroke="#231815" stroke-width="1.5"/>
<rect x="508" y="822" width="47" height="47" fill="url(#g3)"/>
<circle cx="531.5" cy="845.3" r="23.3" fill="url(#g4)" stroke="#231815" stroke-width="1.8"/>
<rect x="374.6" y="819.5" width="39.9" height="51.7" fill="url(#g3)"/><rect x="402.0" y="827.3" width="39.9" height="51.7" fill="url(#g3)"/><rect x="429.4" y="835.1" width="39.9" height="51.7" fill="url(#g3)"/><rect x="456.8" y="842.9" width="39.9" height="51.7" fill="url(#g3)"/>
<path d="M374.6,863.3 L484.2,894.6 M387.0,819.5 L496.7,850.7" stroke="#231815" stroke-width="1.8" fill="none"/><ellipse cx="380.8" cy="841.4" rx="22.8" ry="7.0" transform="rotate(105.9 380.8 841.4)" stroke="#231815" stroke-width="1.6" fill="none"/><path d="M402.0,871.1 A22.8,5.2 105.9 0 0 414.5,827.3" stroke="#231815" stroke-width="1.8" fill="none"/><path d="M429.4,878.9 A22.8,5.2 105.9 0 0 441.9,835.1" stroke="#231815" stroke-width="1.8" fill="none"/><path d="M456.8,886.7 A22.8,5.2 105.9 0 0 469.3,842.9" stroke="#231815" stroke-width="1.8" fill="none"/><path d="M484.2,894.6 A22.8,5.2 105.9 0 0 496.7,850.7" stroke="#231815" stroke-width="1.0" fill="none"/>
<rect x="654.4" y="828.0" width="39.6" height="51.5" fill="url(#g3)"/><rect x="626.9" y="835.6" width="39.6" height="51.5" fill="url(#g3)"/><rect x="599.4" y="843.2" width="39.6" height="51.5" fill="url(#g3)"/><rect x="571.9" y="850.8" width="39.6" height="51.5" fill="url(#g3)"/>
<path d="M681.8,828.0 L571.9,858.3 M694.0,872.0 L584.1,902.3" stroke="#231815" stroke-width="1.8" fill="none"/><ellipse cx="687.9" cy="850.0" rx="22.8" ry="7.0" transform="rotate(-105.4 687.9 850.0)" stroke="#231815" stroke-width="1.6" fill="none"/><path d="M654.4,835.6 A22.8,5.2 -105.4 0 0 666.5,879.6" stroke="#231815" stroke-width="1.8" fill="none"/><path d="M626.9,843.2 A22.8,5.2 -105.4 0 0 639.0,887.1" stroke="#231815" stroke-width="1.8" fill="none"/><path d="M599.4,850.8 A22.8,5.2 -105.4 0 0 611.5,894.7" stroke="#231815" stroke-width="1.8" fill="none"/><path d="M571.9,858.3 A22.8,5.2 -105.4 0 0 584.1,902.3" stroke="#231815" stroke-width="1.0" fill="none"/>
<circle cx="510.9" cy="878.3" r="23.5" fill="url(#g4)" fill-opacity="0.45" stroke="#231815" stroke-width="1.1" stroke-opacity="0.8"/>
<circle cx="557.0" cy="877.4" r="23.3" fill="url(#g4)" fill-opacity="0.45" stroke="#231815" stroke-width="1.1" stroke-opacity="0.8"/>
<circle cx="531.5" cy="845.3" r="23.3" fill="url(#g4)" fill-opacity="0.85" stroke="#231815" stroke-width="1.8"/>
<rect x="353" y="912.8" width="206" height="344" fill="url(#g5)"/>
<rect x="592.4" y="897" width="80" height="238.6" fill="url(#g6)"/>
<rect x="417" y="901.4" width="175.6" height="16" fill="url(#g7)"/>
<rect x="440" y="917" width="182" height="218.6" fill="url(#g8)"/>
<rect x="632" y="944" width="20.5" height="186.5" fill="url(#g9)"/>
<path d="M632,958.5 L632,954.4 a10.1,10.1 0 0 1 20.3,0 L652.3,1121.7 a10.1,10.1 0 0 1 -20.3,0 L632,1106" stroke="#231815" stroke-width="2" fill="none"/>
<rect x="597" y="959" width="53.5" height="147" fill="url(#g10)"/>
<path d="M515,916 C460,911 400,915 364.6,921.6 C360,926 359,940 364,962 C380,1030 420,1110 456,1183" stroke="#231815" stroke-width="2" fill="none"/>
<path d="M517,916 C515,950 560,1010 597,1056.7" stroke="#231815" stroke-width="2" fill="none"/>
<path d="M509.3,939 C485,985 462,1040 455,1085 C452,1105 455,1112 470,1118 C490,1126 505,1132 522.5,1135.6 L566,1135.6 C580,1126 592,1115 604,1106" stroke="#231815" stroke-width="2" fill="none"/>
<path d="M506.7,912 Q545,890 583,917" stroke="#231815" stroke-width="2" fill="none"/>
<path d="M600,897 L648,897 Q672.3,897 672.3,921 L672.5,1112 Q672.5,1135.6 651,1135.6 L622,1135.6" stroke="#231815" stroke-width="2" fill="none"/>
<rect x="-8" y="-77" width="16" height="154" rx="8" transform="translate(624.3,1031.5) rotate(-15.06)" stroke="#231815" stroke-width="2" fill="none"/>
<rect x="523" y="887" width="23" height="28" fill="url(#g3)"/>
<ellipse cx="534.4" cy="901.2" rx="11.1" ry="14.2" fill="url(#g4)" stroke="#231815" stroke-width="1.5"/>
<text x="408.4" y="1009.3" font-size="23.1" font-weight="bold" fill="#231815" text-anchor="start" textLength="43.9" lengthAdjust="spacingAndGlyphs" stroke="#231815" stroke-width="0.35">PsbB</text>
<text x="541.8" y="943.5" font-size="21.6" font-weight="bold" fill="#231815" text-anchor="start" textLength="20.2" lengthAdjust="spacingAndGlyphs" stroke="#231815" stroke-width="0.35">D1</text>
<text x="597.9" y="934.7" font-size="21.6" font-weight="bold" fill="#231815" text-anchor="start" textLength="43.9" lengthAdjust="spacingAndGlyphs" stroke="#231815" stroke-width="0.35">PsbC</text>
<text x="515.4" y="1040.9" font-size="20.3" font-weight="bold" fill="#231815" text-anchor="start" textLength="22.0" lengthAdjust="spacingAndGlyphs" stroke="#231815" stroke-width="0.35">D2</text>
<text x="616.3" y="1025.0" font-size="21.6" font-weight="bold" fill="#231815" text-anchor="start" textLength="8.7" lengthAdjust="spacingAndGlyphs" stroke="#231815" stroke-width="0.35">F</text>
<text x="635.6" y="1020.7" font-size="23.0" font-weight="bold" fill="#231815" text-anchor="start" textLength="10.4" lengthAdjust="spacingAndGlyphs" stroke="#231815" stroke-width="0.35">E</text>
<rect x="454.4" y="1136.7" width="202.3" height="101.7" fill="url(#g11)"/>
<ellipse cx="556.7" cy="1187.3" rx="100" ry="51.1" fill="none" stroke="#231815" stroke-width="2"/>
<rect x="455" y="1154.4" width="55" height="73.8" fill="url(#g12)"/>
<path d="M477.8,1154.4 C492,1156 509,1175 509,1188 C508,1200 492,1223 480,1223.3 C470,1223 457,1205 456.7,1181 C457,1165 468,1154 477.8,1154.4 Z" stroke="#231815" stroke-width="2" fill="none"/>
<text x="460.0" y="1200.0" font-size="22.2" font-weight="bold" fill="#231815" text-anchor="start" textLength="47.8" lengthAdjust="spacingAndGlyphs" stroke="#231815" stroke-width="0.35">PsbO</text>
<text x="543.3" y="1195.6" font-size="33.9" font-weight="bold" fill="#231815" text-anchor="start" textLength="58.9" lengthAdjust="spacingAndGlyphs" stroke="#231815" stroke-width="0.35">OEC</text>
<ellipse cx="416" cy="1196.7" rx="38" ry="22.2" fill="#e60012" stroke="#231815" stroke-width="1.8"/>
<text x="390.7" y="1208.9" font-size="29.1" font-weight="bold" fill="#fff100" text-anchor="start" textLength="50.3" lengthAdjust="spacingAndGlyphs" stroke="#fff100" stroke-width="0.35">PirN</text>
<path d="M425.6,1275.6 C470,1232 520,1212 562,1212.7 C620,1213 680,1240 715,1275" fill="none" stroke="#231815" stroke-width="1.7" stroke-dasharray="9,7"/>
<path d="M722.0,1283.3 L709.1,1277.5 L717.2,1270.0 Z" fill="#231815"/>
<text x="219.1" y="813.0" font-size="31.9" font-weight="bold" fill="#000" text-anchor="start" textLength="173.2" lengthAdjust="spacingAndGlyphs" stroke="#000" stroke-width="0.35">Phycobilisome</text>
<text x="238.6" y="1146.5" font-size="29.7" font-weight="bold" fill="#231815" text-anchor="start" textLength="173.1" lengthAdjust="spacingAndGlyphs" stroke="#231815" stroke-width="0.35">Photosystem II</text>
<text x="226.7" y="1044.8" font-size="45.8" font-weight="bold" fill="#231815" text-anchor="start" textLength="46.8" lengthAdjust="spacingAndGlyphs" stroke="#231815" stroke-width="0.35">TM</text>
<text x="390.7" y="1302.2" font-size="30.8" font-weight="bold" fill="#231815" text-anchor="start" textLength="38.2" lengthAdjust="spacingAndGlyphs" stroke="#231815" stroke-width="0.35">2 H</text>
<text x="430.0" y="1312.0" font-size="17.0" font-weight="normal" fill="#231815" text-anchor="start" textLength="7.1" lengthAdjust="spacingAndGlyphs" stroke="#231815" stroke-width="0.4">2</text>
<text x="437.8" y="1302.2" font-size="30.8" font-weight="bold" fill="#231815" text-anchor="start" textLength="18.9" lengthAdjust="spacingAndGlyphs" stroke="#231815" stroke-width="0.35">O</text>
<text x="678.9" y="1307.8" font-size="30.8" font-weight="bold" fill="#231815" text-anchor="start" textLength="17.8" lengthAdjust="spacingAndGlyphs" stroke="#231815" stroke-width="0.35">O</text>
<text x="697.8" y="1317.8" font-size="17.0" font-weight="normal" fill="#231815" text-anchor="start" textLength="7.8" lengthAdjust="spacingAndGlyphs" stroke="#231815" stroke-width="0.4">2</text>
<text x="706.7" y="1307.8" font-size="30.8" font-weight="bold" fill="#231815" text-anchor="start" textLength="62.2" lengthAdjust="spacingAndGlyphs" stroke="#231815" stroke-width="0.35">+ 4 H</text>
<text x="769.8" y="1297.5" font-size="13.8" font-weight="bold" fill="#231815" text-anchor="start" textLength="6.2" lengthAdjust="spacingAndGlyphs" stroke="#231815" stroke-width="0.35">+</text>
<rect x="925.2" y="907.9" width="51.8" height="260.3" fill="url(#g13)"/>
<path d="M925.2,907.9 L955,907.9 Q977,907.9 977,930 L977,1146 Q977,1168.2 955,1168.2 L925.2,1168.2" fill="none" stroke="#231815" stroke-width="2"/>
<rect x="801.9" y="905" width="123.3" height="267" fill="url(#g14)"/>
<ellipse cx="857.6" cy="1038.5" rx="55.8" ry="133.5" fill="url(#g15)" stroke="#231815" stroke-width="2"/>
<rect x="954.5" y="920" width="73.4" height="234.5" fill="url(#g16)"/>
<rect x="913.4" y="938.2" width="43" height="197.7" fill="url(#g17)"/>
<rect x="913.4" y="938.2" width="49" height="197.7" rx="24.5" ry="24.5" fill="url(#g18)" stroke="#231815" stroke-width="2"/>
<ellipse cx="994.7" cy="1037.2" rx="32.5" ry="117.3" fill="url(#g19)" stroke="#231815" stroke-width="2"/>
<text x="829.3" y="1051.0" font-size="22.6" font-weight="bold" fill="#231815" text-anchor="start" textLength="39.1" lengthAdjust="spacingAndGlyphs" stroke="#231815" stroke-width="0.35">PetB</text>
<text x="929.0" y="1048.0" font-size="22.6" font-weight="bold" fill="#231815" text-anchor="start" textLength="11.0" lengthAdjust="spacingAndGlyphs" stroke="#231815" stroke-width="0.35">D</text>
<text x="967.0" y="1048.0" font-size="22.6" font-weight="bold" fill="#231815" text-anchor="start" textLength="39.4" lengthAdjust="spacingAndGlyphs" stroke="#231815" stroke-width="0.35">PetC</text>
<text x="826.0" y="1202.4" font-size="30.2" font-weight="bold" fill="#231815" text-anchor="start" textLength="90.0" lengthAdjust="spacingAndGlyphs" stroke="#231815" stroke-width="0.35">Cyt b6f</text>
<path d="M926.1,866.2 L926.1,907.9" fill="none" stroke="#231815" stroke-width="1.8"/>
<text x="914.4" y="864.2" font-size="33.1" font-weight="bold" fill="#231815" text-anchor="start" textLength="16.6" lengthAdjust="spacingAndGlyphs" stroke="#231815" stroke-width="0.35">H</text>
<text x="933.0" y="854.0" font-size="15.9" font-weight="bold" fill="#231815" text-anchor="start" textLength="7.2" lengthAdjust="spacingAndGlyphs" stroke="#231815" stroke-width="0.35">+</text>
<path d="M926.4,1168 L926.4,1228" fill="none" stroke="#231815" stroke-width="1.8"/>
<path d="M926.4,1237.1 L918.2,1217.5 L926.4,1223.8 L934.6,1217.5 Z" fill="#231815"/>
<text x="917.0" y="1277.8" font-size="33.1" font-weight="bold" fill="#231815" text-anchor="start" textLength="14.7" lengthAdjust="spacingAndGlyphs" stroke="#231815" stroke-width="0.35">H</text>
<text x="933.8" y="1266.2" font-size="15.9" font-weight="bold" fill="#231815" text-anchor="start" textLength="7.4" lengthAdjust="spacingAndGlyphs" stroke="#231815" stroke-width="0.35">+</text>
<path d="M924.2,1284.6 L924.2,1305.7 M789,1305.7 L1550,1305.7 Q1593.6,1305.7 1593.6,1262 L1593.6,1215" fill="none" stroke="#231815" stroke-width="1.8"/>
<path d="M1593.6,1195.6 L1604.1,1220.8 L1593.6,1215.3 L1583.1,1220.8 Z" fill="#231815"/>
<ellipse cx="1034.4" cy="1204" rx="40" ry="26.9" fill="#64a3cb" stroke="#231815" stroke-width="2"/>
<text x="1019.7" y="1215.0" font-size="31.6" font-weight="bold" fill="#231815" text-anchor="start" textLength="32.3" lengthAdjust="spacingAndGlyphs" stroke="#231815" stroke-width="0.35">PC</text>
<path d="M936.6,1173 Q960,1192 984.5,1201.4" fill="none" stroke="#231815" stroke-width="1.7" stroke-dasharray="9,7"/>
<ellipse cx="738" cy="1033" rx="56" ry="40" fill="none" stroke="#231815" stroke-width="1.8" stroke-dasharray="9,9"/>
<rect x="676" y="1015" width="125" height="36" fill="none"/>
<path d="M682.4,1038.3 L693.7,1042.5 L686.6,1049.6 Z" fill="#231815"/>
<path d="M790.0,1022.5 L799.8,1015.4 L801.8,1025.2 Z" fill="#231815"/>
<text x="705.9" y="1039.4" font-size="21.1" font-weight="bold" fill="#231815" text-anchor="start" textLength="71.6" lengthAdjust="spacingAndGlyphs" opacity="0.92" stroke="#231815" stroke-width="0.35">PQ Pool</text>
<rect x="1045.8" y="931.9" width="183.5" height="244.7" fill="url(#g20)"/>
<rect x="1229.3" y="940.8" width="177.4" height="230.9" fill="url(#g21)"/>
<rect x="1110.2" y="970" width="82.1" height="187" fill="url(#g22)"/>
<rect x="1279" y="978.5" width="54.8" height="168.9" fill="url(#g23)"/>
<path d="M1079.8,952.3 C1100,940 1130,933 1160,932" stroke="#231815" stroke-width="1.9" fill="none"/>
<path d="M1064,965 C1120,975 1180,972 1229.3,964" stroke="#231815" stroke-width="1.9" fill="none"/>
<path d="M1064,965 C1058,1010 1060,1080 1067.7,1123 C1080,1133 1095,1140 1110,1143.8" stroke="#231815" stroke-width="1.9" fill="none"/>
<path d="M1192.8,1148.6 C1205,1147 1217,1144 1229.3,1141.3" stroke="#231815" stroke-width="1.9" fill="none"/>
<path d="M1112.6,1007.7 C1120,990 1150,973 1178,970.5 C1186,970 1188,975 1187,985 L1173.4,1138 C1172,1150 1165,1155 1158.8,1154.7 C1145,1154 1132,1140 1128.4,1129.2 Z" stroke="#231815" stroke-width="1.9" fill="none"/>
<path d="M1243.9,959 C1270,946 1300,940 1320,941 C1345,942 1365,950 1378.7,959" stroke="#231815" stroke-width="1.9" fill="none"/>
<path d="M1243.9,959 C1280,972 1330,978 1393.3,971.2" stroke="#231815" stroke-width="1.9" fill="none"/>
<path d="M1393.3,971.2 C1400,1020 1395,1090 1388.4,1124.3 C1370,1135 1350,1143 1333.8,1146.2" stroke="#231815" stroke-width="1.9" fill="none"/>
<path d="M1243.9,959 C1236,1010 1237,1090 1241.4,1130.4 C1255,1136 1268,1140 1279,1142.5" stroke="#231815" stroke-width="1.9" fill="none"/>
<rect x="1279" y="977.3" width="20.7" height="169.4" rx="10.3" ry="10.3" stroke="#231815" stroke-width="1.9" fill="none"/>
<rect x="1299.7" y="978.5" width="35.3" height="168.2" rx="17.6" ry="17.6" stroke="#231815" stroke-width="1.9" fill="url(#g24)"/>
<rect x="1160" y="924.6" width="51" height="27.2" fill="url(#g25)"/>
<rect x="1211.8" y="927.5" width="66.1" height="26.7" fill="url(#g26)"/>
<rect x="1260.9" y="924.6" width="66.8" height="29.4" fill="url(#g27)"/>
<ellipse cx="1185.5" cy="938.4" rx="26" ry="13.4" stroke="#231815" stroke-width="1.9" fill="none"/>
<ellipse cx="1294.4" cy="938.4" rx="33.4" ry="13.4" fill="url(#g28)" stroke="#231815" stroke-width="1.9"/>
<ellipse cx="1236" cy="941.6" rx="24.5" ry="13" fill="url(#g29)" stroke="#231815" stroke-width="1.9"/>
<rect x="1242.6" y="846" width="76.1" height="40.2" rx="13" ry="13" fill="#f7a69e" stroke="#231815" stroke-width="1.9"/>
<rect x="1203" y="887.4" width="76" height="39.6" rx="13" ry="13" fill="#f7a69e" stroke="#231815" stroke-width="1.9"/>
<text x="1262.0" y="872.0" font-size="26.2" font-weight="bold" fill="#231815" text-anchor="start" textLength="41.4" lengthAdjust="spacingAndGlyphs" stroke="#231815" stroke-width="0.35">FNR</text>
<text x="1225.6" y="919.7" font-size="26.2" font-weight="bold" fill="#231815" text-anchor="start" textLength="24.4" lengthAdjust="spacingAndGlyphs" stroke="#231815" stroke-width="0.35">Fd</text>
<text x="1168.5" y="944.5" font-size="18.5" font-weight="bold" fill="#231815" text-anchor="start" textLength="35.3" lengthAdjust="spacingAndGlyphs" stroke="#231815" stroke-width="0.35">PsaC</text>
<text x="1218.3" y="948.1" font-size="18.5" font-weight="bold" fill="#231815" text-anchor="start" textLength="34.1" lengthAdjust="spacingAndGlyphs" stroke="#231815" stroke-width="0.35">PsaD</text>
<text x="1273.0" y="944.0" font-size="18.5" font-weight="bold" fill="#231815" text-anchor="start" textLength="32.8" lengthAdjust="spacingAndGlyphs" stroke="#231815" stroke-width="0.35">PsaE</text>
<text x="1066.0" y="1078.0" font-size="24.3" font-weight="bold" fill="#231815" text-anchor="start" textLength="43.0" lengthAdjust="spacingAndGlyphs" stroke="#231815" stroke-width="0.35">PsaA</text>
<text x="1124.8" y="1075.7" font-size="24.3" font-weight="bold" fill="#231815" text-anchor="start" textLength="41.2" lengthAdjust="spacingAndGlyphs" stroke="#231815" stroke-width="0.35">PsaL</text>
<text x="1284.7" y="1066.0" font-size="24.3" font-weight="bold" fill="#231815" text-anchor="start" textLength="3.6" lengthAdjust="spacingAndGlyphs" stroke="#231815" stroke-width="0.35">I</text>
<text x="1309.5" y="1066.0" font-size="24.3" font-weight="bold" fill="#231815" text-anchor="start" textLength="13.3" lengthAdjust="spacingAndGlyphs" stroke="#231815" stroke-width="0.35">M</text>
<text x="1342.3" y="1063.6" font-size="24.3" font-weight="bold" fill="#231815" text-anchor="start" textLength="43.7" lengthAdjust="spacingAndGlyphs" stroke="#231815" stroke-width="0.35">PsaB</text>
<text x="1169.7" y="1181.4" font-size="28.0" font-weight="bold" fill="#231815" text-anchor="start" textLength="165.3" lengthAdjust="spacingAndGlyphs" stroke="#231815" stroke-width="0.35">Photosystem I</text>
<path d="M1122,1147 C1112,1080 1118,1000 1165,950 C1185,930 1225,905 1280,883" fill="none" stroke="#231815" stroke-width="1.7" stroke-dasharray="9,7"/>
<path d="M1288.5,880.0 L1278.7,888.9 L1275.4,878.4 Z" fill="#231815"/>
<path d="M1081.4,1203.4 Q1112,1194 1136,1172" fill="none" stroke="#231815" stroke-width="1.7" stroke-dasharray="9,7"/>
<path d="M1145.0,1163.3 L1139.5,1175.3 L1132.3,1167.0 Z" fill="#231815"/>
<path d="M1487.4,833 L1510,1000 L1548,1000 L1530,830 Z" fill="#4a7cc0" stroke="#231815" stroke-width="2"/>
<path d="M1539,760 C1530,735 1515,730 1504,730 C1480,730 1468,750 1468,775 L1468,805 C1468,822 1485,834 1502,835 L1530,835 Z" fill="#4a7cc0" stroke="#231815" stroke-width="2"/>
<ellipse cx="1566" cy="832" rx="45" ry="92" transform="rotate(-6 1566 832)" fill="#4a7cc0" stroke="#231815" stroke-width="2"/>
<ellipse cx="1661" cy="832" rx="45" ry="92" transform="rotate(8 1661 832)" fill="#4a7cc0" stroke="#231815" stroke-width="2"/>
<ellipse cx="1611.5" cy="820" rx="48" ry="90" fill="#4a7cc0" stroke="#231815" stroke-width="2"/>
<path d="M1501.6,819 C1500,800 1505,792 1511,791 L1530,880 L1553,976 L1553,1030 C1545,1030 1538,1026 1532,1015 C1520,990 1512,920 1501.6,819 Z" fill="#4a7cc0" stroke="#231815" stroke-width="2"/>
<ellipse cx="1551" cy="835.6" rx="41.5" ry="87" transform="rotate(-3 1551 835.6)" fill="#4a7cc0" stroke="#231815" stroke-width="2"/>
<ellipse cx="1673.7" cy="837.6" rx="41" ry="86.5" transform="rotate(3 1673.7 837.6)" fill="#4a7cc0" stroke="#231815" stroke-width="2"/>
<path d="M1642,918 L1660,918 C1680,920 1684,940 1682,950 C1678,965 1665,968 1650,967 L1642,967 Z" fill="#4a7cc0" stroke="#231815" stroke-width="2"/>
<rect x="1584" y="900" width="58.2" height="115" fill="#4a7cc0" stroke="#231815" stroke-width="2"/>
<ellipse cx="1613" cy="851.8" rx="48" ry="86.5" fill="#4a7cc0" stroke="#231815" stroke-width="2"/>
<rect x="1576.0" y="968.0" width="16.0" height="152.0" rx="8.0" ry="9.0" fill="#4a7cc0" stroke="#231815" stroke-width="2"/>
<rect x="1642.0" y="967.0" width="20.0" height="153.0" rx="10.0" ry="9.0" fill="#4a7cc0" stroke="#231815" stroke-width="2"/>
<rect x="1553.0" y="974.5" width="28.5" height="147.5" rx="14.2" ry="9.0" fill="#4a7cc0" stroke="#231815" stroke-width="2"/>
<rect x="1656.0" y="974.5" width="25.6" height="147.5" rx="12.8" ry="9.0" fill="#4a7cc0" stroke="#231815" stroke-width="2"/>
<ellipse cx="1524.3" cy="1059" rx="27" ry="75.5" fill="#4a7cc0" stroke="#231815" stroke-width="2"/>
<path d="M1520.7,982.6 C1525,1005 1532,1020 1541,1027 L1553,1027 L1553,976 Z" fill="#4a7cc0"/>
<path d="M1519.5,975 C1523,1000 1530,1018 1541,1027" fill="none" stroke="#231815" stroke-width="2"/>
<rect x="1541.0" y="987.7" width="28.3" height="132.6" rx="14.1" ry="9.0" fill="#4a7cc0" stroke="#231815" stroke-width="2"/>
<rect x="1673.6" y="987.7" width="28.4" height="133.3" rx="14.2" ry="9.0" fill="#4a7cc0" stroke="#231815" stroke-width="2"/>
<rect x="1553.0" y="998.8" width="28.5" height="134.6" rx="14.2" ry="9.0" fill="#4a7cc0" stroke="#231815" stroke-width="2"/>
<rect x="1660.4" y="998.8" width="29.4" height="134.6" rx="14.7" ry="9.0" fill="#4a7cc0" stroke="#231815" stroke-width="2"/>
<rect x="1577.4" y="1010.0" width="27.9" height="133.6" rx="13.9" ry="9.0" fill="#4a7cc0" stroke="#231815" stroke-width="2"/>
<rect x="1605.3" y="1012.0" width="28.7" height="134.6" rx="14.4" ry="9.0" fill="#4a7cc0" stroke="#231815" stroke-width="2"/>
<rect x="1635.0" y="1010.0" width="28.4" height="133.6" rx="14.2" ry="9.0" fill="#4a7cc0" stroke="#231815" stroke-width="2"/>
<text x="1489.5" y="788.0" font-size="28.6" font-weight="bold" fill="#231815" text-anchor="start" textLength="13.5" lengthAdjust="spacingAndGlyphs" stroke="#231815" stroke-width="0.35">&#948;</text>
<text x="1533.0" y="844.0" font-size="28.6" font-weight="bold" fill="#231815" text-anchor="start" textLength="14.0" lengthAdjust="spacingAndGlyphs" stroke="#231815" stroke-width="0.35">&#945;</text>
<text x="1603.8" y="862.0" font-size="28.6" font-weight="bold" fill="#231815" text-anchor="start" textLength="13.2" lengthAdjust="spacingAndGlyphs" stroke="#231815" stroke-width="0.35">&#946;</text>
<text x="1676.7" y="844.0" font-size="28.6" font-weight="bold" fill="#231815" text-anchor="start" textLength="14.3" lengthAdjust="spacingAndGlyphs" stroke="#231815" stroke-width="0.35">&#945;</text>
<text x="1522.8" y="957.3" font-size="30.0" font-weight="bold" fill="#231815" text-anchor="start" textLength="13.2" lengthAdjust="spacingAndGlyphs" stroke="#231815" stroke-width="0.35">b</text>
<text x="1655.0" y="956.3" font-size="27.6" font-weight="bold" fill="#231815" text-anchor="start" textLength="10.5" lengthAdjust="spacingAndGlyphs" stroke="#231815" stroke-width="0.35">&#949;</text>
<text x="1609.8" y="970.0" font-size="27.6" font-weight="bold" fill="#231815" text-anchor="start" textLength="12.2" lengthAdjust="spacingAndGlyphs" stroke="#231815" stroke-width="0.35">&#947;</text>
<text x="1515.7" y="1061.6" font-size="27.6" font-weight="bold" fill="#231815" text-anchor="start" textLength="12.1" lengthAdjust="spacingAndGlyphs" stroke="#231815" stroke-width="0.35">a</text>
<text x="1608.8" y="1090.0" font-size="27.6" font-weight="bold" fill="#231815" text-anchor="start" textLength="12.2" lengthAdjust="spacingAndGlyphs" stroke="#231815" stroke-width="0.35">c</text>
<text x="1696.0" y="959.0" font-size="29.6" font-weight="bold" fill="#231815" text-anchor="start" textLength="90.0" lengthAdjust="spacingAndGlyphs" stroke="#231815" stroke-width="0.35">Cytosol</text>
<text x="1708.0" y="1159.8" font-size="30.8" font-weight="bold" fill="#231815" text-anchor="start" textLength="79.0" lengthAdjust="spacingAndGlyphs" stroke="#231815" stroke-width="0.35">Lumen</text>
<path d="M1594.6,1144.6 L1594.6,1160.8" fill="none" stroke="#231815" stroke-width="1.8"/>
<text x="1587.5" y="1191.0" font-size="31.1" font-weight="bold" fill="#231815" text-anchor="start" textLength="14.2" lengthAdjust="spacingAndGlyphs" stroke="#231815" stroke-width="0.35">H</text>
<text x="1603.5" y="1181.0" font-size="15.9" font-weight="normal" fill="#231815" text-anchor="start" textLength="7.8" lengthAdjust="spacingAndGlyphs" stroke="#231815" stroke-width="0.4">+</text>
</svg></body></html>
